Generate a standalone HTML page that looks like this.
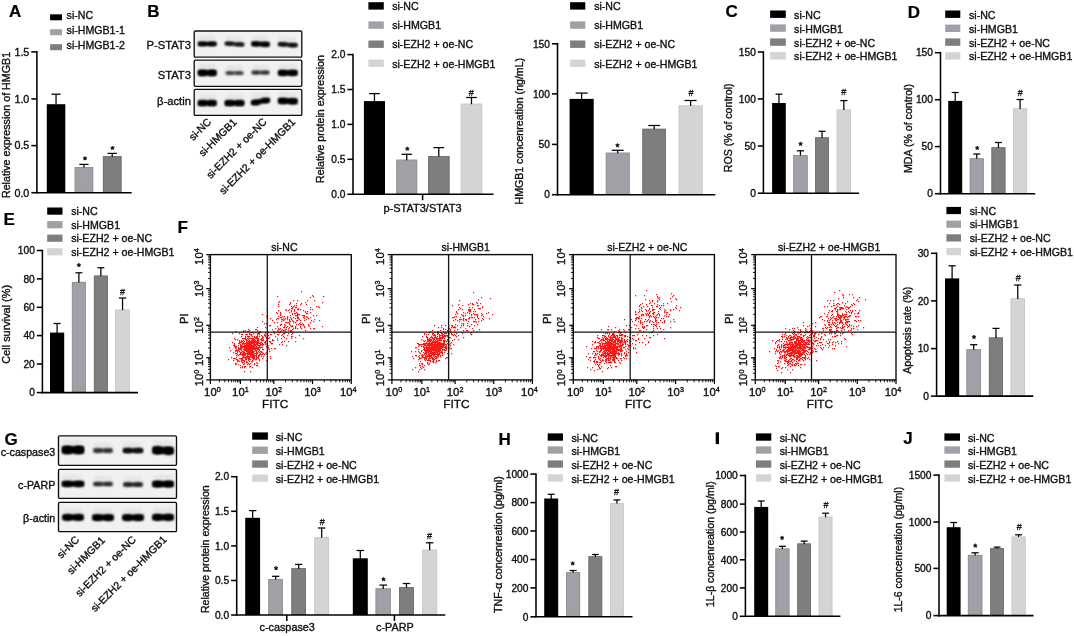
<!DOCTYPE html>
<html><head><meta charset="utf-8"><style>
html,body{margin:0;padding:0;background:#fff;}
svg{display:block;will-change:transform;}
text{font-family:"Liberation Sans", sans-serif;}
</style></head><body>
<svg width="1074" height="636" viewBox="0 0 1074 636" font-family='"Liberation Sans", sans-serif'>
<defs><filter id="soft" x="0" y="0" width="1074" height="636" filterUnits="userSpaceOnUse"><feGaussianBlur stdDeviation="0.3"/></filter><filter id="bl" x="-50%" y="-100%" width="200%" height="300%"><feGaussianBlur stdDeviation="0.9"/></filter></defs>
<rect width="1074" height="636" fill="#fff"/>
<g filter="url(#soft)">
<text x="9.00" y="17.30" font-size="17" text-anchor="start" font-weight="bold" fill="#000" stroke="#000" stroke-width="0.2">A</text>
<rect x="50.10" y="14.30" width="11.90" height="6.00" fill="#000000"/>
<text x="66.60" y="18.90" font-size="10.6" text-anchor="start" fill="#111" stroke="#111" stroke-width="0.36">si-NC</text>
<rect x="50.10" y="29.20" width="11.90" height="6.00" fill="#a0a0a6"/>
<text x="66.60" y="33.80" font-size="10.6" text-anchor="start" fill="#111" stroke="#111" stroke-width="0.36">si-HMGB1-1</text>
<rect x="50.10" y="44.20" width="11.90" height="6.00" fill="#7e7e7e"/>
<text x="66.60" y="48.80" font-size="10.6" text-anchor="start" fill="#111" stroke="#111" stroke-width="0.36">si-HMGB1-2</text>
<line x1="31.30" y1="51.90" x2="36.90" y2="51.90" stroke="#000" stroke-width="1.55"/>
<text x="29.30" y="55.78" font-size="10.7" text-anchor="end" fill="#111" stroke="#111" stroke-width="0.36">1.5</text>
<line x1="31.30" y1="98.90" x2="36.90" y2="98.90" stroke="#000" stroke-width="1.55"/>
<text x="29.30" y="102.78" font-size="10.7" text-anchor="end" fill="#111" stroke="#111" stroke-width="0.36">1.0</text>
<line x1="31.30" y1="145.60" x2="36.90" y2="145.60" stroke="#000" stroke-width="1.55"/>
<text x="29.30" y="149.48" font-size="10.7" text-anchor="end" fill="#111" stroke="#111" stroke-width="0.36">0.5</text>
<line x1="31.30" y1="192.70" x2="36.90" y2="192.70" stroke="#000" stroke-width="1.55"/>
<text x="29.30" y="196.58" font-size="10.7" text-anchor="end" fill="#111" stroke="#111" stroke-width="0.36">0.0</text>
<rect x="46.80" y="104.20" width="18.50" height="88.50" fill="#000000"/>
<line x1="56.05" y1="94.20" x2="56.05" y2="104.70" stroke="#000" stroke-width="1.25"/>
<line x1="51.42" y1="94.20" x2="60.67" y2="94.20" stroke="#000" stroke-width="1.25"/>
<rect x="74.70" y="167.00" width="18.50" height="25.70" fill="#a0a0a6"/>
<rect x="75.15" y="167.45" width="17.60" height="24.80" fill="none" stroke="#939399" stroke-width="0.9"/>
<line x1="83.95" y1="164.40" x2="83.95" y2="167.50" stroke="#000" stroke-width="1.25"/>
<line x1="79.33" y1="164.40" x2="88.58" y2="164.40" stroke="#000" stroke-width="1.25"/>
<polygon points="85.00,156.40 85.59,157.59 86.90,157.78 85.95,158.71 86.18,160.02 85.00,159.40 83.82,160.02 84.05,158.71 83.10,157.78 84.41,157.59" fill="#111" stroke="#111" stroke-width="0.7" stroke-linejoin="round"/>
<rect x="102.90" y="156.20" width="18.60" height="36.50" fill="#7e7e7e"/>
<rect x="103.35" y="156.65" width="17.70" height="35.60" fill="none" stroke="#727272" stroke-width="0.9"/>
<line x1="112.20" y1="153.40" x2="112.20" y2="156.70" stroke="#000" stroke-width="1.25"/>
<line x1="107.55" y1="153.40" x2="116.85" y2="153.40" stroke="#000" stroke-width="1.25"/>
<polygon points="112.50,146.00 113.09,147.19 114.40,147.38 113.45,148.31 113.68,149.62 112.50,149.00 111.32,149.62 111.55,148.31 110.60,147.38 111.91,147.19" fill="#111" stroke="#111" stroke-width="0.7" stroke-linejoin="round"/>
<line x1="36.90" y1="51.12" x2="36.90" y2="193.47" stroke="#000" stroke-width="1.55"/>
<line x1="36.12" y1="192.70" x2="131.70" y2="192.70" stroke="#000" stroke-width="1.55"/>
<text x="10.30" y="125.00" font-size="10.7" text-anchor="middle" transform="rotate(-90 10.30 125.00)" fill="#111" stroke="#111" stroke-width="0.36">Relative expression of HMGB1</text>
<text x="147.30" y="17.30" font-size="17" text-anchor="start" font-weight="bold" fill="#000" stroke="#000" stroke-width="0.2">B</text>
<rect x="194.20" y="31.00" width="107.60" height="26.10" rx="1.2" fill="#f1f1f1" stroke="#111" stroke-width="1.35"/>
<rect x="194.20" y="60.10" width="107.60" height="26.20" rx="1.2" fill="#f1f1f1" stroke="#111" stroke-width="1.35"/>
<rect x="194.20" y="89.30" width="107.60" height="26.10" rx="1.2" fill="#f1f1f1" stroke="#111" stroke-width="1.35"/>
<text x="190.90" y="49.40" font-size="11.2" text-anchor="end" fill="#111" stroke="#111" stroke-width="0.36">P-STAT3</text>
<path d="M198.00 41.80L216.40 41.80L216.40 45.80L198.00 45.80Z" fill="#000" fill-opacity="0.95" filter="url(#bl)"/>
<ellipse cx="202.60" cy="43.90" rx="4.60" ry="2.24" fill="#000" fill-opacity="0.855" filter="url(#bl)"/>
<ellipse cx="211.80" cy="43.90" rx="4.60" ry="2.24" fill="#000" fill-opacity="0.855" filter="url(#bl)"/>
<path d="M198.92 35.80L215.48 35.80L215.48 40.80L198.92 40.80Z" fill="#000" fill-opacity="0.05" filter="url(#bl)"/>
<path d="M224.90 41.70L244.10 42.70L244.10 46.30L224.90 45.30Z" fill="#000" fill-opacity="0.8" filter="url(#bl)"/>
<ellipse cx="229.70" cy="43.59" rx="4.80" ry="2.02" fill="#000" fill-opacity="0.7200000000000001" filter="url(#bl)"/>
<ellipse cx="239.30" cy="44.59" rx="4.80" ry="2.02" fill="#000" fill-opacity="0.7200000000000001" filter="url(#bl)"/>
<path d="M225.86 35.70L243.14 36.70L243.14 41.70L225.86 40.70Z" fill="#000" fill-opacity="0.05" filter="url(#bl)"/>
<path d="M251.50 41.60L269.50 42.10L269.50 46.50L251.50 46.00Z" fill="#000" fill-opacity="0.95" filter="url(#bl)"/>
<ellipse cx="256.00" cy="43.91" rx="4.50" ry="2.46" fill="#000" fill-opacity="0.855" filter="url(#bl)"/>
<ellipse cx="265.00" cy="44.41" rx="4.50" ry="2.46" fill="#000" fill-opacity="0.855" filter="url(#bl)"/>
<path d="M252.40 35.60L268.60 36.10L268.60 41.10L252.40 40.60Z" fill="#000" fill-opacity="0.05" filter="url(#bl)"/>
<path d="M278.20 42.30L297.40 43.30L297.40 47.10L278.20 46.10Z" fill="#000" fill-opacity="0.85" filter="url(#bl)"/>
<ellipse cx="283.00" cy="44.30" rx="4.80" ry="2.13" fill="#000" fill-opacity="0.765" filter="url(#bl)"/>
<ellipse cx="292.60" cy="45.30" rx="4.80" ry="2.13" fill="#000" fill-opacity="0.765" filter="url(#bl)"/>
<path d="M279.16 36.30L296.44 37.30L296.44 42.30L279.16 41.30Z" fill="#000" fill-opacity="0.05" filter="url(#bl)"/>
<text x="190.90" y="79.00" font-size="11.2" text-anchor="end" fill="#111" stroke="#111" stroke-width="0.36">STAT3</text>
<path d="M198.00 70.00L216.40 70.00L216.40 75.60L198.00 75.60Z" fill="#000" fill-opacity="1" filter="url(#bl)"/>
<ellipse cx="202.60" cy="72.94" rx="4.60" ry="3.14" fill="#000" fill-opacity="0.9" filter="url(#bl)"/>
<ellipse cx="211.80" cy="72.94" rx="4.60" ry="3.14" fill="#000" fill-opacity="0.9" filter="url(#bl)"/>
<path d="M198.92 64.00L215.48 64.00L215.48 69.00L198.92 69.00Z" fill="#000" fill-opacity="0.05" filter="url(#bl)"/>
<path d="M225.70 71.30L243.30 71.30L243.30 74.70L225.70 74.70Z" fill="#000" fill-opacity="0.55" filter="url(#bl)"/>
<ellipse cx="230.10" cy="73.08" rx="4.40" ry="1.90" fill="#000" fill-opacity="0.49500000000000005" filter="url(#bl)"/>
<ellipse cx="238.90" cy="73.08" rx="4.40" ry="1.90" fill="#000" fill-opacity="0.49500000000000005" filter="url(#bl)"/>
<path d="M226.58 65.30L242.42 65.30L242.42 70.30L226.58 70.30Z" fill="#000" fill-opacity="0.05" filter="url(#bl)"/>
<path d="M251.70 70.70L269.30 70.70L269.30 74.30L251.70 74.30Z" fill="#000" fill-opacity="0.6" filter="url(#bl)"/>
<ellipse cx="256.10" cy="72.59" rx="4.40" ry="2.02" fill="#000" fill-opacity="0.54" filter="url(#bl)"/>
<ellipse cx="264.90" cy="72.59" rx="4.40" ry="2.02" fill="#000" fill-opacity="0.54" filter="url(#bl)"/>
<path d="M252.58 64.70L268.42 64.70L268.42 69.70L252.58 69.70Z" fill="#000" fill-opacity="0.05" filter="url(#bl)"/>
<path d="M278.20 70.20L297.40 70.20L297.40 75.40L278.20 75.40Z" fill="#000" fill-opacity="1" filter="url(#bl)"/>
<ellipse cx="283.00" cy="72.93" rx="4.80" ry="2.91" fill="#000" fill-opacity="0.9" filter="url(#bl)"/>
<ellipse cx="292.60" cy="72.93" rx="4.80" ry="2.91" fill="#000" fill-opacity="0.9" filter="url(#bl)"/>
<path d="M279.16 64.20L296.44 64.20L296.44 69.20L279.16 69.20Z" fill="#000" fill-opacity="0.05" filter="url(#bl)"/>
<text x="190.90" y="105.40" font-size="11.2" text-anchor="end" fill="#111" stroke="#111" stroke-width="0.36">β-actin</text>
<path d="M198.00 100.40L216.40 100.40L216.40 105.60L198.00 105.60Z" fill="#000" fill-opacity="1" filter="url(#bl)"/>
<ellipse cx="202.60" cy="103.13" rx="4.60" ry="2.91" fill="#000" fill-opacity="0.9" filter="url(#bl)"/>
<ellipse cx="211.80" cy="103.13" rx="4.60" ry="2.91" fill="#000" fill-opacity="0.9" filter="url(#bl)"/>
<path d="M198.92 94.40L215.48 94.40L215.48 99.40L198.92 99.40Z" fill="#000" fill-opacity="0.05" filter="url(#bl)"/>
<path d="M224.90 100.40L244.10 100.40L244.10 105.60L224.90 105.60Z" fill="#000" fill-opacity="1" filter="url(#bl)"/>
<ellipse cx="229.70" cy="103.13" rx="4.80" ry="2.91" fill="#000" fill-opacity="0.9" filter="url(#bl)"/>
<ellipse cx="239.30" cy="103.13" rx="4.80" ry="2.91" fill="#000" fill-opacity="0.9" filter="url(#bl)"/>
<path d="M225.86 94.40L243.14 94.40L243.14 99.40L225.86 99.40Z" fill="#000" fill-opacity="0.05" filter="url(#bl)"/>
<path d="M251.30 100.30L269.70 97.80L269.70 102.60L251.30 105.10Z" fill="#000" fill-opacity="1" filter="url(#bl)"/>
<ellipse cx="255.90" cy="102.82" rx="4.60" ry="2.69" fill="#000" fill-opacity="0.9" filter="url(#bl)"/>
<ellipse cx="265.10" cy="100.32" rx="4.60" ry="2.69" fill="#000" fill-opacity="0.9" filter="url(#bl)"/>
<path d="M252.22 94.30L268.78 91.80L268.78 96.80L252.22 99.30Z" fill="#000" fill-opacity="0.05" filter="url(#bl)"/>
<path d="M278.20 98.10L297.40 98.60L297.40 104.00L278.20 103.50Z" fill="#000" fill-opacity="1" filter="url(#bl)"/>
<ellipse cx="283.00" cy="100.94" rx="4.80" ry="3.02" fill="#000" fill-opacity="0.9" filter="url(#bl)"/>
<ellipse cx="292.60" cy="101.44" rx="4.80" ry="3.02" fill="#000" fill-opacity="0.9" filter="url(#bl)"/>
<path d="M279.16 92.10L296.44 92.60L296.44 97.60L279.16 97.10Z" fill="#000" fill-opacity="0.05" filter="url(#bl)"/>
<text x="211.80" y="122.60" font-size="10.5" text-anchor="end" transform="rotate(-45 211.80 122.60)" fill="#111" stroke="#111" stroke-width="0.36">si-NC</text>
<text x="237.30" y="122.80" font-size="10.5" text-anchor="end" transform="rotate(-45 237.30 122.80)" fill="#111" stroke="#111" stroke-width="0.36">si-HMGB1</text>
<text x="267.40" y="122.40" font-size="10.5" text-anchor="end" transform="rotate(-45 267.40 122.40)" fill="#111" stroke="#111" stroke-width="0.36">si-EZH2 + oe-NC</text>
<text x="296.00" y="122.60" font-size="10.5" text-anchor="end" transform="rotate(-45 296.00 122.60)" fill="#111" stroke="#111" stroke-width="0.36">si-EZH2 + oe-HMGB1</text>
<rect x="368.40" y="2.20" width="15.40" height="7.40" fill="#000000"/>
<text x="392.20" y="10.10" font-size="10.6" text-anchor="start" fill="#111" stroke="#111" stroke-width="0.36">si-NC</text>
<rect x="368.40" y="21.40" width="15.40" height="7.40" fill="#a0a0a6"/>
<text x="392.20" y="29.30" font-size="10.6" text-anchor="start" fill="#111" stroke="#111" stroke-width="0.36">si-HMGB1</text>
<rect x="368.40" y="40.50" width="15.40" height="7.40" fill="#7e7e7e"/>
<text x="392.20" y="48.40" font-size="10.6" text-anchor="start" fill="#111" stroke="#111" stroke-width="0.36">si-EZH2 + oe-NC</text>
<rect x="368.40" y="59.60" width="15.40" height="7.40" fill="#d4d4d4"/>
<text x="392.20" y="67.50" font-size="10.6" text-anchor="start" fill="#111" stroke="#111" stroke-width="0.36">si-EZH2 + oe-HMGB1</text>
<line x1="347.40" y1="54.60" x2="353.00" y2="54.60" stroke="#000" stroke-width="1.55"/>
<text x="345.40" y="58.30" font-size="10.2" text-anchor="end" fill="#111" stroke="#111" stroke-width="0.36">2.0</text>
<line x1="347.40" y1="89.50" x2="353.00" y2="89.50" stroke="#000" stroke-width="1.55"/>
<text x="345.40" y="93.20" font-size="10.2" text-anchor="end" fill="#111" stroke="#111" stroke-width="0.36">1.5</text>
<line x1="347.40" y1="124.40" x2="353.00" y2="124.40" stroke="#000" stroke-width="1.55"/>
<text x="345.40" y="128.10" font-size="10.2" text-anchor="end" fill="#111" stroke="#111" stroke-width="0.36">1.0</text>
<line x1="347.40" y1="159.30" x2="353.00" y2="159.30" stroke="#000" stroke-width="1.55"/>
<text x="345.40" y="163.00" font-size="10.2" text-anchor="end" fill="#111" stroke="#111" stroke-width="0.36">0.5</text>
<line x1="347.40" y1="194.20" x2="353.00" y2="194.20" stroke="#000" stroke-width="1.55"/>
<text x="345.40" y="197.90" font-size="10.2" text-anchor="end" fill="#111" stroke="#111" stroke-width="0.36">0.0</text>
<rect x="363.90" y="101.10" width="21.10" height="93.10" fill="#000000"/>
<line x1="374.45" y1="93.60" x2="374.45" y2="101.60" stroke="#000" stroke-width="1.25"/>
<line x1="369.17" y1="93.60" x2="379.73" y2="93.60" stroke="#000" stroke-width="1.25"/>
<rect x="396.30" y="159.70" width="20.90" height="34.50" fill="#a0a0a6"/>
<rect x="396.75" y="160.15" width="20.00" height="33.60" fill="none" stroke="#939399" stroke-width="0.9"/>
<line x1="406.75" y1="154.30" x2="406.75" y2="160.20" stroke="#000" stroke-width="1.25"/>
<line x1="401.52" y1="154.30" x2="411.98" y2="154.30" stroke="#000" stroke-width="1.25"/>
<polygon points="407.30,146.80 407.89,147.99 409.20,148.18 408.25,149.11 408.48,150.42 407.30,149.80 406.12,150.42 406.35,149.11 405.40,148.18 406.71,147.99" fill="#111" stroke="#111" stroke-width="0.7" stroke-linejoin="round"/>
<rect x="428.10" y="156.00" width="21.40" height="38.20" fill="#7e7e7e"/>
<rect x="428.55" y="156.45" width="20.50" height="37.30" fill="none" stroke="#727272" stroke-width="0.9"/>
<line x1="438.80" y1="147.60" x2="438.80" y2="156.50" stroke="#000" stroke-width="1.25"/>
<line x1="433.45" y1="147.60" x2="444.15" y2="147.60" stroke="#000" stroke-width="1.25"/>
<rect x="460.80" y="103.70" width="21.40" height="90.50" fill="#d4d4d4"/>
<rect x="461.25" y="104.15" width="20.50" height="89.60" fill="none" stroke="#cacaca" stroke-width="0.9"/>
<line x1="471.50" y1="97.50" x2="471.50" y2="104.20" stroke="#000" stroke-width="1.25"/>
<line x1="466.15" y1="97.50" x2="476.85" y2="97.50" stroke="#000" stroke-width="1.25"/>
<text x="471.30" y="96.00" font-size="9" text-anchor="middle" fill="#111" stroke="#111" stroke-width="0.3">#</text>
<line x1="353.00" y1="53.83" x2="353.00" y2="194.97" stroke="#000" stroke-width="1.55"/>
<line x1="352.23" y1="194.20" x2="493.50" y2="194.20" stroke="#000" stroke-width="1.55"/>
<line x1="422.60" y1="194.20" x2="422.60" y2="200.20" stroke="#000" stroke-width="1.55"/>
<text x="323.50" y="119.00" font-size="10.6" text-anchor="middle" transform="rotate(-90 323.50 119.00)" fill="#111" stroke="#111" stroke-width="0.36">Relative protein expression</text>
<text x="422.50" y="212.10" font-size="11" text-anchor="middle" fill="#111" stroke="#111" stroke-width="0.36">p-STAT3/STAT3</text>
<rect x="570.10" y="2.20" width="15.20" height="7.40" fill="#000000"/>
<text x="594.20" y="10.10" font-size="10.6" text-anchor="start" fill="#111" stroke="#111" stroke-width="0.36">si-NC</text>
<rect x="570.10" y="21.40" width="15.20" height="7.40" fill="#a0a0a6"/>
<text x="594.20" y="29.30" font-size="10.6" text-anchor="start" fill="#111" stroke="#111" stroke-width="0.36">si-HMGB1</text>
<rect x="570.10" y="40.50" width="15.20" height="7.40" fill="#7e7e7e"/>
<text x="594.20" y="48.40" font-size="10.6" text-anchor="start" fill="#111" stroke="#111" stroke-width="0.36">si-EZH2 + oe-NC</text>
<rect x="570.10" y="59.60" width="15.20" height="7.40" fill="#d4d4d4"/>
<text x="594.20" y="67.50" font-size="10.6" text-anchor="start" fill="#111" stroke="#111" stroke-width="0.36">si-EZH2 + oe-HMGB1</text>
<line x1="551.90" y1="43.80" x2="557.50" y2="43.80" stroke="#000" stroke-width="1.55"/>
<text x="549.90" y="47.50" font-size="10.2" text-anchor="end" fill="#111" stroke="#111" stroke-width="0.36">150</text>
<line x1="551.90" y1="93.90" x2="557.50" y2="93.90" stroke="#000" stroke-width="1.55"/>
<text x="549.90" y="97.60" font-size="10.2" text-anchor="end" fill="#111" stroke="#111" stroke-width="0.36">100</text>
<line x1="551.90" y1="144.40" x2="557.50" y2="144.40" stroke="#000" stroke-width="1.55"/>
<text x="549.90" y="148.10" font-size="10.2" text-anchor="end" fill="#111" stroke="#111" stroke-width="0.36">50</text>
<line x1="551.90" y1="194.70" x2="557.50" y2="194.70" stroke="#000" stroke-width="1.55"/>
<text x="549.90" y="198.40" font-size="10.2" text-anchor="end" fill="#111" stroke="#111" stroke-width="0.36">0</text>
<rect x="569.60" y="98.90" width="24.10" height="95.90" fill="#000000"/>
<line x1="581.65" y1="93.10" x2="581.65" y2="99.40" stroke="#000" stroke-width="1.25"/>
<line x1="575.63" y1="93.10" x2="587.68" y2="93.10" stroke="#000" stroke-width="1.25"/>
<rect x="605.80" y="152.70" width="23.90" height="42.10" fill="#a0a0a6"/>
<rect x="606.25" y="153.15" width="23.00" height="41.20" fill="none" stroke="#939399" stroke-width="0.9"/>
<line x1="617.75" y1="150.30" x2="617.75" y2="153.20" stroke="#000" stroke-width="1.25"/>
<line x1="611.77" y1="150.30" x2="623.73" y2="150.30" stroke="#000" stroke-width="1.25"/>
<polygon points="617.50,143.40 618.09,144.59 619.40,144.78 618.45,145.71 618.68,147.02 617.50,146.40 616.32,147.02 616.55,145.71 615.60,144.78 616.91,144.59" fill="#111" stroke="#111" stroke-width="0.7" stroke-linejoin="round"/>
<rect x="642.40" y="128.80" width="23.60" height="66.00" fill="#7e7e7e"/>
<rect x="642.85" y="129.25" width="22.70" height="65.10" fill="none" stroke="#727272" stroke-width="0.9"/>
<line x1="654.20" y1="125.50" x2="654.20" y2="129.30" stroke="#000" stroke-width="1.25"/>
<line x1="648.30" y1="125.50" x2="660.10" y2="125.50" stroke="#000" stroke-width="1.25"/>
<rect x="678.60" y="105.40" width="24.00" height="89.40" fill="#d4d4d4"/>
<rect x="679.05" y="105.85" width="23.10" height="88.50" fill="none" stroke="#cacaca" stroke-width="0.9"/>
<line x1="690.60" y1="100.50" x2="690.60" y2="105.90" stroke="#000" stroke-width="1.25"/>
<line x1="684.60" y1="100.50" x2="696.60" y2="100.50" stroke="#000" stroke-width="1.25"/>
<text x="690.90" y="95.90" font-size="9" text-anchor="middle" fill="#111" stroke="#111" stroke-width="0.3">#</text>
<line x1="557.50" y1="43.02" x2="557.50" y2="195.58" stroke="#000" stroke-width="1.55"/>
<line x1="556.73" y1="194.80" x2="715.30" y2="194.80" stroke="#000" stroke-width="1.55"/>
<text x="523.00" y="131.20" font-size="10.6" text-anchor="middle" transform="rotate(-90 523.00 131.20)" fill="#111" stroke="#111" stroke-width="0.36">HMGB1 concenreation (ng/mL)</text>
<text x="725.50" y="17.30" font-size="17" text-anchor="start" font-weight="bold" fill="#000" stroke="#000" stroke-width="0.2">C</text>
<rect x="770.10" y="10.50" width="15.70" height="7.40" fill="#000000"/>
<text x="794.10" y="18.60" font-size="10.6" text-anchor="start" fill="#111" stroke="#111" stroke-width="0.36">si-NC</text>
<rect x="770.10" y="24.40" width="15.70" height="7.40" fill="#a0a0a6"/>
<text x="794.10" y="32.50" font-size="10.6" text-anchor="start" fill="#111" stroke="#111" stroke-width="0.36">si-HMGB1</text>
<rect x="770.10" y="38.40" width="15.70" height="7.40" fill="#7e7e7e"/>
<text x="794.10" y="46.50" font-size="10.6" text-anchor="start" fill="#111" stroke="#111" stroke-width="0.36">si-EZH2 + oe-NC</text>
<rect x="770.10" y="52.10" width="15.70" height="7.40" fill="#d4d4d4"/>
<text x="794.10" y="60.20" font-size="10.6" text-anchor="start" fill="#111" stroke="#111" stroke-width="0.36">si-EZH2 + oe-HMGB1</text>
<line x1="757.80" y1="52.00" x2="763.40" y2="52.00" stroke="#000" stroke-width="1.55"/>
<text x="755.80" y="55.70" font-size="10.2" text-anchor="end" fill="#111" stroke="#111" stroke-width="0.36">150</text>
<line x1="757.80" y1="98.90" x2="763.40" y2="98.90" stroke="#000" stroke-width="1.55"/>
<text x="755.80" y="102.60" font-size="10.2" text-anchor="end" fill="#111" stroke="#111" stroke-width="0.36">100</text>
<line x1="757.80" y1="146.00" x2="763.40" y2="146.00" stroke="#000" stroke-width="1.55"/>
<text x="755.80" y="149.70" font-size="10.2" text-anchor="end" fill="#111" stroke="#111" stroke-width="0.36">50</text>
<line x1="757.80" y1="193.20" x2="763.40" y2="193.20" stroke="#000" stroke-width="1.55"/>
<text x="755.80" y="196.90" font-size="10.2" text-anchor="end" fill="#111" stroke="#111" stroke-width="0.36">0</text>
<rect x="772.10" y="103.00" width="13.70" height="90.20" fill="#000000"/>
<line x1="778.95" y1="94.20" x2="778.95" y2="103.50" stroke="#000" stroke-width="1.25"/>
<line x1="775.53" y1="94.20" x2="782.38" y2="94.20" stroke="#000" stroke-width="1.25"/>
<rect x="793.20" y="155.00" width="14.50" height="38.20" fill="#a0a0a6"/>
<rect x="793.65" y="155.45" width="13.60" height="37.30" fill="none" stroke="#939399" stroke-width="0.9"/>
<line x1="800.45" y1="150.80" x2="800.45" y2="155.50" stroke="#000" stroke-width="1.25"/>
<line x1="796.83" y1="150.80" x2="804.08" y2="150.80" stroke="#000" stroke-width="1.25"/>
<polygon points="800.60,141.90 801.19,143.09 802.50,143.28 801.55,144.21 801.78,145.52 800.60,144.90 799.42,145.52 799.65,144.21 798.70,143.28 800.01,143.09" fill="#111" stroke="#111" stroke-width="0.7" stroke-linejoin="round"/>
<rect x="815.10" y="137.30" width="13.90" height="55.90" fill="#7e7e7e"/>
<rect x="815.55" y="137.75" width="13.00" height="55.00" fill="none" stroke="#727272" stroke-width="0.9"/>
<line x1="822.05" y1="131.30" x2="822.05" y2="137.80" stroke="#000" stroke-width="1.25"/>
<line x1="818.57" y1="131.30" x2="825.52" y2="131.30" stroke="#000" stroke-width="1.25"/>
<rect x="836.70" y="109.50" width="14.30" height="83.70" fill="#d4d4d4"/>
<rect x="837.15" y="109.95" width="13.40" height="82.80" fill="none" stroke="#cacaca" stroke-width="0.9"/>
<line x1="843.85" y1="100.60" x2="843.85" y2="110.00" stroke="#000" stroke-width="1.25"/>
<line x1="840.28" y1="100.60" x2="847.42" y2="100.60" stroke="#000" stroke-width="1.25"/>
<text x="843.70" y="95.00" font-size="9" text-anchor="middle" fill="#111" stroke="#111" stroke-width="0.3">#</text>
<line x1="763.40" y1="51.23" x2="763.40" y2="193.97" stroke="#000" stroke-width="1.55"/>
<line x1="762.62" y1="193.20" x2="859.10" y2="193.20" stroke="#000" stroke-width="1.55"/>
<text x="732.50" y="127.80" font-size="10.6" text-anchor="middle" transform="rotate(-90 732.50 127.80)" fill="#111" stroke="#111" stroke-width="0.36">ROS (% of control)</text>
<text x="907.80" y="17.50" font-size="17" text-anchor="start" font-weight="bold" fill="#000" stroke="#000" stroke-width="0.2">D</text>
<rect x="945.20" y="10.50" width="15.10" height="7.40" fill="#000000"/>
<text x="969.00" y="18.60" font-size="10.6" text-anchor="start" fill="#111" stroke="#111" stroke-width="0.36">si-NC</text>
<rect x="945.20" y="24.60" width="15.10" height="7.40" fill="#a0a0a6"/>
<text x="969.00" y="32.70" font-size="10.6" text-anchor="start" fill="#111" stroke="#111" stroke-width="0.36">si-HMGB1</text>
<rect x="945.20" y="38.40" width="15.10" height="7.40" fill="#7e7e7e"/>
<text x="969.00" y="46.50" font-size="10.6" text-anchor="start" fill="#111" stroke="#111" stroke-width="0.36">si-EZH2 + oe-NC</text>
<rect x="945.20" y="52.20" width="15.10" height="7.40" fill="#d4d4d4"/>
<text x="969.00" y="60.30" font-size="10.6" text-anchor="start" fill="#111" stroke="#111" stroke-width="0.36">si-EZH2 + oe-HMGB1</text>
<line x1="934.90" y1="52.70" x2="940.50" y2="52.70" stroke="#000" stroke-width="1.55"/>
<text x="932.90" y="56.40" font-size="10.2" text-anchor="end" fill="#111" stroke="#111" stroke-width="0.36">150</text>
<line x1="934.90" y1="99.70" x2="940.50" y2="99.70" stroke="#000" stroke-width="1.55"/>
<text x="932.90" y="103.40" font-size="10.2" text-anchor="end" fill="#111" stroke="#111" stroke-width="0.36">100</text>
<line x1="934.90" y1="146.60" x2="940.50" y2="146.60" stroke="#000" stroke-width="1.55"/>
<text x="932.90" y="150.30" font-size="10.2" text-anchor="end" fill="#111" stroke="#111" stroke-width="0.36">50</text>
<line x1="934.90" y1="193.70" x2="940.50" y2="193.70" stroke="#000" stroke-width="1.55"/>
<text x="932.90" y="197.40" font-size="10.2" text-anchor="end" fill="#111" stroke="#111" stroke-width="0.36">0</text>
<rect x="948.20" y="100.90" width="14.00" height="92.80" fill="#000000"/>
<line x1="955.20" y1="92.50" x2="955.20" y2="101.40" stroke="#000" stroke-width="1.25"/>
<line x1="951.70" y1="92.50" x2="958.70" y2="92.50" stroke="#000" stroke-width="1.25"/>
<rect x="969.80" y="158.20" width="14.00" height="35.50" fill="#a0a0a6"/>
<rect x="970.25" y="158.65" width="13.10" height="34.60" fill="none" stroke="#939399" stroke-width="0.9"/>
<line x1="976.80" y1="154.00" x2="976.80" y2="158.70" stroke="#000" stroke-width="1.25"/>
<line x1="973.30" y1="154.00" x2="980.30" y2="154.00" stroke="#000" stroke-width="1.25"/>
<polygon points="977.20,146.00 977.79,147.19 979.10,147.38 978.15,148.31 978.38,149.62 977.20,149.00 976.02,149.62 976.25,148.31 975.30,147.38 976.61,147.19" fill="#111" stroke="#111" stroke-width="0.7" stroke-linejoin="round"/>
<rect x="991.50" y="147.30" width="13.90" height="46.40" fill="#7e7e7e"/>
<rect x="991.95" y="147.75" width="13.00" height="45.50" fill="none" stroke="#727272" stroke-width="0.9"/>
<line x1="998.45" y1="142.50" x2="998.45" y2="147.80" stroke="#000" stroke-width="1.25"/>
<line x1="994.98" y1="142.50" x2="1001.93" y2="142.50" stroke="#000" stroke-width="1.25"/>
<rect x="1013.10" y="108.50" width="14.00" height="85.20" fill="#d4d4d4"/>
<rect x="1013.55" y="108.95" width="13.10" height="84.30" fill="none" stroke="#cacaca" stroke-width="0.9"/>
<line x1="1020.10" y1="99.50" x2="1020.10" y2="109.00" stroke="#000" stroke-width="1.25"/>
<line x1="1016.60" y1="99.50" x2="1023.60" y2="99.50" stroke="#000" stroke-width="1.25"/>
<text x="1020.30" y="95.70" font-size="9" text-anchor="middle" fill="#111" stroke="#111" stroke-width="0.3">#</text>
<line x1="940.50" y1="51.93" x2="940.50" y2="194.47" stroke="#000" stroke-width="1.55"/>
<line x1="939.73" y1="193.70" x2="1035.20" y2="193.70" stroke="#000" stroke-width="1.55"/>
<text x="912.00" y="128.50" font-size="10.6" text-anchor="middle" transform="rotate(-90 912.00 128.50)" fill="#111" stroke="#111" stroke-width="0.36">MDA (% of control)</text>
<text x="3.60" y="225.30" font-size="17" text-anchor="start" font-weight="bold" fill="#000" stroke="#000" stroke-width="0.2">E</text>
<rect x="47.20" y="207.50" width="15.30" height="7.20" fill="#000000"/>
<text x="71.20" y="215.20" font-size="10.6" text-anchor="start" fill="#111" stroke="#111" stroke-width="0.36">si-NC</text>
<rect x="47.20" y="221.10" width="15.30" height="7.20" fill="#a0a0a6"/>
<text x="71.20" y="228.80" font-size="10.6" text-anchor="start" fill="#111" stroke="#111" stroke-width="0.36">si-HMGB1</text>
<rect x="47.20" y="234.60" width="15.30" height="7.20" fill="#7e7e7e"/>
<text x="71.20" y="242.30" font-size="10.6" text-anchor="start" fill="#111" stroke="#111" stroke-width="0.36">si-EZH2 + oe-NC</text>
<rect x="47.20" y="248.20" width="15.30" height="7.20" fill="#d4d4d4"/>
<text x="71.20" y="255.90" font-size="10.6" text-anchor="start" fill="#111" stroke="#111" stroke-width="0.36">si-EZH2 + oe-HMGB1</text>
<line x1="36.80" y1="250.50" x2="42.40" y2="250.50" stroke="#000" stroke-width="1.55"/>
<text x="34.80" y="254.20" font-size="10.2" text-anchor="end" fill="#111" stroke="#111" stroke-width="0.36">100</text>
<line x1="36.80" y1="278.90" x2="42.40" y2="278.90" stroke="#000" stroke-width="1.55"/>
<text x="34.80" y="282.60" font-size="10.2" text-anchor="end" fill="#111" stroke="#111" stroke-width="0.36">80</text>
<line x1="36.80" y1="307.30" x2="42.40" y2="307.30" stroke="#000" stroke-width="1.55"/>
<text x="34.80" y="311.00" font-size="10.2" text-anchor="end" fill="#111" stroke="#111" stroke-width="0.36">60</text>
<line x1="36.80" y1="335.60" x2="42.40" y2="335.60" stroke="#000" stroke-width="1.55"/>
<text x="34.80" y="339.30" font-size="10.2" text-anchor="end" fill="#111" stroke="#111" stroke-width="0.36">40</text>
<line x1="36.80" y1="364.00" x2="42.40" y2="364.00" stroke="#000" stroke-width="1.55"/>
<text x="34.80" y="367.70" font-size="10.2" text-anchor="end" fill="#111" stroke="#111" stroke-width="0.36">20</text>
<line x1="36.80" y1="392.60" x2="42.40" y2="392.60" stroke="#000" stroke-width="1.55"/>
<text x="34.80" y="396.30" font-size="10.2" text-anchor="end" fill="#111" stroke="#111" stroke-width="0.36">0</text>
<rect x="50.00" y="332.60" width="14.20" height="60.00" fill="#000000"/>
<line x1="57.10" y1="323.50" x2="57.10" y2="333.10" stroke="#000" stroke-width="1.25"/>
<line x1="53.55" y1="323.50" x2="60.65" y2="323.50" stroke="#000" stroke-width="1.25"/>
<rect x="71.90" y="281.90" width="14.00" height="110.70" fill="#a0a0a6"/>
<rect x="72.35" y="282.35" width="13.10" height="109.80" fill="none" stroke="#939399" stroke-width="0.9"/>
<line x1="78.90" y1="272.80" x2="78.90" y2="282.40" stroke="#000" stroke-width="1.25"/>
<line x1="75.40" y1="272.80" x2="82.40" y2="272.80" stroke="#000" stroke-width="1.25"/>
<polygon points="78.90,263.10 79.49,264.29 80.80,264.48 79.85,265.41 80.08,266.72 78.90,266.10 77.72,266.72 77.95,265.41 77.00,264.48 78.31,264.29" fill="#111" stroke="#111" stroke-width="0.7" stroke-linejoin="round"/>
<rect x="93.90" y="275.60" width="13.90" height="117.00" fill="#7e7e7e"/>
<rect x="94.35" y="276.05" width="13.00" height="116.10" fill="none" stroke="#727272" stroke-width="0.9"/>
<line x1="100.85" y1="267.70" x2="100.85" y2="276.10" stroke="#000" stroke-width="1.25"/>
<line x1="97.38" y1="267.70" x2="104.32" y2="267.70" stroke="#000" stroke-width="1.25"/>
<rect x="115.20" y="309.60" width="14.70" height="83.00" fill="#d4d4d4"/>
<rect x="115.65" y="310.05" width="13.80" height="82.10" fill="none" stroke="#cacaca" stroke-width="0.9"/>
<line x1="122.55" y1="298.00" x2="122.55" y2="310.10" stroke="#000" stroke-width="1.25"/>
<line x1="118.88" y1="298.00" x2="126.23" y2="298.00" stroke="#000" stroke-width="1.25"/>
<text x="122.50" y="294.90" font-size="9" text-anchor="middle" fill="#111" stroke="#111" stroke-width="0.3">#</text>
<line x1="42.40" y1="249.72" x2="42.40" y2="393.38" stroke="#000" stroke-width="1.55"/>
<line x1="41.62" y1="392.60" x2="138.00" y2="392.60" stroke="#000" stroke-width="1.55"/>
<text x="10.00" y="324.30" font-size="10.9" text-anchor="middle" transform="rotate(-90 10.00 324.30)" fill="#111" stroke="#111" stroke-width="0.36">Cell survival (%)</text>
<text x="177.60" y="232.80" font-size="17" text-anchor="start" font-weight="bold" fill="#000" stroke="#000" stroke-width="0.2">F</text>
<text x="284.35" y="251.00" font-size="10.5" text-anchor="middle" fill="#111" stroke="#111" stroke-width="0.36">si-NC</text>
<path d="M228 359h1.2v1.2h-1.2zM229 347h1.2v1.2h-1.2zM230 350h1.2v1.2h-1.2zM231 357h1.2v1.2h-1.2zM232 333h1.2v1.2h-1.2zM232 342h1.2v1.2h-1.2zM233 345h1.2v1.2h-1.2zM233 352h1.2v1.2h-1.2zM233 358h1.2v1.2h-1.2zM233 360h1.2v1.2h-1.2zM234 338h1.2v1.2h-1.2zM234 343h1.2v1.2h-1.2zM234 344h1.2v1.2h-1.2zM234 345h1.2v1.2h-1.2zM234 346h1.2v1.2h-1.2zM234 358h1.2v1.2h-1.2zM235 331h1.2v1.2h-1.2zM235 339h1.2v1.2h-1.2zM235 346h1.2v1.2h-1.2zM235 347h1.2v1.2h-1.2zM235 348h1.2v1.2h-1.2zM235 350h1.2v1.2h-1.2zM235 351h1.2v1.2h-1.2zM235 353h1.2v1.2h-1.2zM235 358h1.2v1.2h-1.2zM235 363h1.2v1.2h-1.2zM235 364h1.2v1.2h-1.2zM236 346h1.2v1.2h-1.2zM236 347h1.2v1.2h-1.2zM236 349h1.2v1.2h-1.2zM236 350h1.2v1.2h-1.2zM236 353h1.2v1.2h-1.2zM236 355h1.2v1.2h-1.2zM236 357h1.2v1.2h-1.2zM236 359h1.2v1.2h-1.2zM236 363h1.2v1.2h-1.2zM237 339h1.2v1.2h-1.2zM237 350h1.2v1.2h-1.2zM237 351h1.2v1.2h-1.2zM237 352h1.2v1.2h-1.2zM237 354h1.2v1.2h-1.2zM237 359h1.2v1.2h-1.2zM237 360h1.2v1.2h-1.2zM237 361h1.2v1.2h-1.2zM238 343h1.2v1.2h-1.2zM238 345h1.2v1.2h-1.2zM238 347h1.2v1.2h-1.2zM238 348h1.2v1.2h-1.2zM238 349h1.2v1.2h-1.2zM238 350h1.2v1.2h-1.2zM238 355h1.2v1.2h-1.2zM238 360h1.2v1.2h-1.2zM238 364h1.2v1.2h-1.2zM239 333h1.2v1.2h-1.2zM239 340h1.2v1.2h-1.2zM239 341h1.2v1.2h-1.2zM239 342h1.2v1.2h-1.2zM239 343h1.2v1.2h-1.2zM239 348h1.2v1.2h-1.2zM239 349h1.2v1.2h-1.2zM239 351h1.2v1.2h-1.2zM239 354h1.2v1.2h-1.2zM239 358h1.2v1.2h-1.2zM239 361h1.2v1.2h-1.2zM240 342h1.2v1.2h-1.2zM240 344h1.2v1.2h-1.2zM240 345h1.2v1.2h-1.2zM240 346h1.2v1.2h-1.2zM240 347h1.2v1.2h-1.2zM240 348h1.2v1.2h-1.2zM240 349h1.2v1.2h-1.2zM240 352h1.2v1.2h-1.2zM240 353h1.2v1.2h-1.2zM240 354h1.2v1.2h-1.2zM240 358h1.2v1.2h-1.2zM240 365h1.2v1.2h-1.2zM240 367h1.2v1.2h-1.2zM241 334h1.2v1.2h-1.2zM241 336h1.2v1.2h-1.2zM241 340h1.2v1.2h-1.2zM241 341h1.2v1.2h-1.2zM241 342h1.2v1.2h-1.2zM241 345h1.2v1.2h-1.2zM241 346h1.2v1.2h-1.2zM241 347h1.2v1.2h-1.2zM241 348h1.2v1.2h-1.2zM241 349h1.2v1.2h-1.2zM241 350h1.2v1.2h-1.2zM241 352h1.2v1.2h-1.2zM241 354h1.2v1.2h-1.2zM241 358h1.2v1.2h-1.2zM241 359h1.2v1.2h-1.2zM241 360h1.2v1.2h-1.2zM241 361h1.2v1.2h-1.2zM242 334h1.2v1.2h-1.2zM242 338h1.2v1.2h-1.2zM242 341h1.2v1.2h-1.2zM242 343h1.2v1.2h-1.2zM242 344h1.2v1.2h-1.2zM242 346h1.2v1.2h-1.2zM242 347h1.2v1.2h-1.2zM242 351h1.2v1.2h-1.2zM242 353h1.2v1.2h-1.2zM242 354h1.2v1.2h-1.2zM242 355h1.2v1.2h-1.2zM242 357h1.2v1.2h-1.2zM242 358h1.2v1.2h-1.2zM242 359h1.2v1.2h-1.2zM242 360h1.2v1.2h-1.2zM242 362h1.2v1.2h-1.2zM242 366h1.2v1.2h-1.2zM242 367h1.2v1.2h-1.2zM243 330h1.2v1.2h-1.2zM243 331h1.2v1.2h-1.2zM243 338h1.2v1.2h-1.2zM243 340h1.2v1.2h-1.2zM243 342h1.2v1.2h-1.2zM243 343h1.2v1.2h-1.2zM243 346h1.2v1.2h-1.2zM243 347h1.2v1.2h-1.2zM243 349h1.2v1.2h-1.2zM243 351h1.2v1.2h-1.2zM243 352h1.2v1.2h-1.2zM243 353h1.2v1.2h-1.2zM243 354h1.2v1.2h-1.2zM243 355h1.2v1.2h-1.2zM243 356h1.2v1.2h-1.2zM243 357h1.2v1.2h-1.2zM243 360h1.2v1.2h-1.2zM243 362h1.2v1.2h-1.2zM243 364h1.2v1.2h-1.2zM244 338h1.2v1.2h-1.2zM244 341h1.2v1.2h-1.2zM244 343h1.2v1.2h-1.2zM244 344h1.2v1.2h-1.2zM244 345h1.2v1.2h-1.2zM244 346h1.2v1.2h-1.2zM244 347h1.2v1.2h-1.2zM244 348h1.2v1.2h-1.2zM244 349h1.2v1.2h-1.2zM244 350h1.2v1.2h-1.2zM244 352h1.2v1.2h-1.2zM244 353h1.2v1.2h-1.2zM244 354h1.2v1.2h-1.2zM244 355h1.2v1.2h-1.2zM244 357h1.2v1.2h-1.2zM244 360h1.2v1.2h-1.2zM244 361h1.2v1.2h-1.2zM244 363h1.2v1.2h-1.2zM244 366h1.2v1.2h-1.2zM244 367h1.2v1.2h-1.2zM244 371h1.2v1.2h-1.2zM245 330h1.2v1.2h-1.2zM245 334h1.2v1.2h-1.2zM245 336h1.2v1.2h-1.2zM245 337h1.2v1.2h-1.2zM245 338h1.2v1.2h-1.2zM245 339h1.2v1.2h-1.2zM245 343h1.2v1.2h-1.2zM245 345h1.2v1.2h-1.2zM245 346h1.2v1.2h-1.2zM245 347h1.2v1.2h-1.2zM245 348h1.2v1.2h-1.2zM245 349h1.2v1.2h-1.2zM245 350h1.2v1.2h-1.2zM245 353h1.2v1.2h-1.2zM245 354h1.2v1.2h-1.2zM245 355h1.2v1.2h-1.2zM245 357h1.2v1.2h-1.2zM245 358h1.2v1.2h-1.2zM245 359h1.2v1.2h-1.2zM245 366h1.2v1.2h-1.2zM246 334h1.2v1.2h-1.2zM246 339h1.2v1.2h-1.2zM246 340h1.2v1.2h-1.2zM246 341h1.2v1.2h-1.2zM246 342h1.2v1.2h-1.2zM246 343h1.2v1.2h-1.2zM246 344h1.2v1.2h-1.2zM246 345h1.2v1.2h-1.2zM246 346h1.2v1.2h-1.2zM246 347h1.2v1.2h-1.2zM246 348h1.2v1.2h-1.2zM246 349h1.2v1.2h-1.2zM246 350h1.2v1.2h-1.2zM246 351h1.2v1.2h-1.2zM246 353h1.2v1.2h-1.2zM246 356h1.2v1.2h-1.2zM246 357h1.2v1.2h-1.2zM246 358h1.2v1.2h-1.2zM246 359h1.2v1.2h-1.2zM246 361h1.2v1.2h-1.2zM246 362h1.2v1.2h-1.2zM247 331h1.2v1.2h-1.2zM247 334h1.2v1.2h-1.2zM247 336h1.2v1.2h-1.2zM247 338h1.2v1.2h-1.2zM247 340h1.2v1.2h-1.2zM247 342h1.2v1.2h-1.2zM247 343h1.2v1.2h-1.2zM247 344h1.2v1.2h-1.2zM247 345h1.2v1.2h-1.2zM247 346h1.2v1.2h-1.2zM247 347h1.2v1.2h-1.2zM247 348h1.2v1.2h-1.2zM247 349h1.2v1.2h-1.2zM247 350h1.2v1.2h-1.2zM247 351h1.2v1.2h-1.2zM247 352h1.2v1.2h-1.2zM247 353h1.2v1.2h-1.2zM247 354h1.2v1.2h-1.2zM247 355h1.2v1.2h-1.2zM247 356h1.2v1.2h-1.2zM247 357h1.2v1.2h-1.2zM247 362h1.2v1.2h-1.2zM247 364h1.2v1.2h-1.2zM248 329h1.2v1.2h-1.2zM248 331h1.2v1.2h-1.2zM248 336h1.2v1.2h-1.2zM248 337h1.2v1.2h-1.2zM248 339h1.2v1.2h-1.2zM248 341h1.2v1.2h-1.2zM248 342h1.2v1.2h-1.2zM248 343h1.2v1.2h-1.2zM248 344h1.2v1.2h-1.2zM248 345h1.2v1.2h-1.2zM248 346h1.2v1.2h-1.2zM248 347h1.2v1.2h-1.2zM248 348h1.2v1.2h-1.2zM248 349h1.2v1.2h-1.2zM248 350h1.2v1.2h-1.2zM248 351h1.2v1.2h-1.2zM248 352h1.2v1.2h-1.2zM248 353h1.2v1.2h-1.2zM248 354h1.2v1.2h-1.2zM248 356h1.2v1.2h-1.2zM248 357h1.2v1.2h-1.2zM248 358h1.2v1.2h-1.2zM248 359h1.2v1.2h-1.2zM248 360h1.2v1.2h-1.2zM248 363h1.2v1.2h-1.2zM249 330h1.2v1.2h-1.2zM249 333h1.2v1.2h-1.2zM249 334h1.2v1.2h-1.2zM249 336h1.2v1.2h-1.2zM249 338h1.2v1.2h-1.2zM249 340h1.2v1.2h-1.2zM249 341h1.2v1.2h-1.2zM249 342h1.2v1.2h-1.2zM249 343h1.2v1.2h-1.2zM249 344h1.2v1.2h-1.2zM249 345h1.2v1.2h-1.2zM249 346h1.2v1.2h-1.2zM249 347h1.2v1.2h-1.2zM249 348h1.2v1.2h-1.2zM249 349h1.2v1.2h-1.2zM249 350h1.2v1.2h-1.2zM249 351h1.2v1.2h-1.2zM249 352h1.2v1.2h-1.2zM249 353h1.2v1.2h-1.2zM249 354h1.2v1.2h-1.2zM249 356h1.2v1.2h-1.2zM249 357h1.2v1.2h-1.2zM249 358h1.2v1.2h-1.2zM249 359h1.2v1.2h-1.2zM249 361h1.2v1.2h-1.2zM249 364h1.2v1.2h-1.2zM249 366h1.2v1.2h-1.2zM250 334h1.2v1.2h-1.2zM250 338h1.2v1.2h-1.2zM250 341h1.2v1.2h-1.2zM250 342h1.2v1.2h-1.2zM250 343h1.2v1.2h-1.2zM250 344h1.2v1.2h-1.2zM250 345h1.2v1.2h-1.2zM250 346h1.2v1.2h-1.2zM250 347h1.2v1.2h-1.2zM250 348h1.2v1.2h-1.2zM250 349h1.2v1.2h-1.2zM250 350h1.2v1.2h-1.2zM250 351h1.2v1.2h-1.2zM250 352h1.2v1.2h-1.2zM250 353h1.2v1.2h-1.2zM250 354h1.2v1.2h-1.2zM250 355h1.2v1.2h-1.2zM250 356h1.2v1.2h-1.2zM250 359h1.2v1.2h-1.2zM250 363h1.2v1.2h-1.2zM250 366h1.2v1.2h-1.2zM250 371h1.2v1.2h-1.2zM251 332h1.2v1.2h-1.2zM251 334h1.2v1.2h-1.2zM251 335h1.2v1.2h-1.2zM251 338h1.2v1.2h-1.2zM251 340h1.2v1.2h-1.2zM251 341h1.2v1.2h-1.2zM251 342h1.2v1.2h-1.2zM251 343h1.2v1.2h-1.2zM251 344h1.2v1.2h-1.2zM251 345h1.2v1.2h-1.2zM251 346h1.2v1.2h-1.2zM251 347h1.2v1.2h-1.2zM251 348h1.2v1.2h-1.2zM251 349h1.2v1.2h-1.2zM251 350h1.2v1.2h-1.2zM251 351h1.2v1.2h-1.2zM251 352h1.2v1.2h-1.2zM251 353h1.2v1.2h-1.2zM251 354h1.2v1.2h-1.2zM251 355h1.2v1.2h-1.2zM251 357h1.2v1.2h-1.2zM251 361h1.2v1.2h-1.2zM252 332h1.2v1.2h-1.2zM252 336h1.2v1.2h-1.2zM252 338h1.2v1.2h-1.2zM252 339h1.2v1.2h-1.2zM252 340h1.2v1.2h-1.2zM252 341h1.2v1.2h-1.2zM252 342h1.2v1.2h-1.2zM252 343h1.2v1.2h-1.2zM252 345h1.2v1.2h-1.2zM252 346h1.2v1.2h-1.2zM252 347h1.2v1.2h-1.2zM252 348h1.2v1.2h-1.2zM252 349h1.2v1.2h-1.2zM252 350h1.2v1.2h-1.2zM252 351h1.2v1.2h-1.2zM252 352h1.2v1.2h-1.2zM252 353h1.2v1.2h-1.2zM252 354h1.2v1.2h-1.2zM252 355h1.2v1.2h-1.2zM252 356h1.2v1.2h-1.2zM252 357h1.2v1.2h-1.2zM252 358h1.2v1.2h-1.2zM252 360h1.2v1.2h-1.2zM252 361h1.2v1.2h-1.2zM252 367h1.2v1.2h-1.2zM253 333h1.2v1.2h-1.2zM253 338h1.2v1.2h-1.2zM253 339h1.2v1.2h-1.2zM253 340h1.2v1.2h-1.2zM253 341h1.2v1.2h-1.2zM253 342h1.2v1.2h-1.2zM253 343h1.2v1.2h-1.2zM253 344h1.2v1.2h-1.2zM253 345h1.2v1.2h-1.2zM253 346h1.2v1.2h-1.2zM253 347h1.2v1.2h-1.2zM253 348h1.2v1.2h-1.2zM253 349h1.2v1.2h-1.2zM253 351h1.2v1.2h-1.2zM253 352h1.2v1.2h-1.2zM253 353h1.2v1.2h-1.2zM253 354h1.2v1.2h-1.2zM253 355h1.2v1.2h-1.2zM253 356h1.2v1.2h-1.2zM253 357h1.2v1.2h-1.2zM253 358h1.2v1.2h-1.2zM253 359h1.2v1.2h-1.2zM254 336h1.2v1.2h-1.2zM254 337h1.2v1.2h-1.2zM254 339h1.2v1.2h-1.2zM254 340h1.2v1.2h-1.2zM254 341h1.2v1.2h-1.2zM254 342h1.2v1.2h-1.2zM254 343h1.2v1.2h-1.2zM254 344h1.2v1.2h-1.2zM254 345h1.2v1.2h-1.2zM254 346h1.2v1.2h-1.2zM254 347h1.2v1.2h-1.2zM254 348h1.2v1.2h-1.2zM254 349h1.2v1.2h-1.2zM254 351h1.2v1.2h-1.2zM254 353h1.2v1.2h-1.2zM254 355h1.2v1.2h-1.2zM254 356h1.2v1.2h-1.2zM254 357h1.2v1.2h-1.2zM254 358h1.2v1.2h-1.2zM254 363h1.2v1.2h-1.2zM254 364h1.2v1.2h-1.2zM255 329h1.2v1.2h-1.2zM255 332h1.2v1.2h-1.2zM255 337h1.2v1.2h-1.2zM255 338h1.2v1.2h-1.2zM255 340h1.2v1.2h-1.2zM255 341h1.2v1.2h-1.2zM255 342h1.2v1.2h-1.2zM255 344h1.2v1.2h-1.2zM255 345h1.2v1.2h-1.2zM255 347h1.2v1.2h-1.2zM255 348h1.2v1.2h-1.2zM255 349h1.2v1.2h-1.2zM255 350h1.2v1.2h-1.2zM255 353h1.2v1.2h-1.2zM255 355h1.2v1.2h-1.2zM255 359h1.2v1.2h-1.2zM256 329h1.2v1.2h-1.2zM256 336h1.2v1.2h-1.2zM256 337h1.2v1.2h-1.2zM256 338h1.2v1.2h-1.2zM256 341h1.2v1.2h-1.2zM256 342h1.2v1.2h-1.2zM256 343h1.2v1.2h-1.2zM256 344h1.2v1.2h-1.2zM256 346h1.2v1.2h-1.2zM256 347h1.2v1.2h-1.2zM256 348h1.2v1.2h-1.2zM256 350h1.2v1.2h-1.2zM256 351h1.2v1.2h-1.2zM256 352h1.2v1.2h-1.2zM256 353h1.2v1.2h-1.2zM256 354h1.2v1.2h-1.2zM256 355h1.2v1.2h-1.2zM256 356h1.2v1.2h-1.2zM256 357h1.2v1.2h-1.2zM256 358h1.2v1.2h-1.2zM256 359h1.2v1.2h-1.2zM256 362h1.2v1.2h-1.2zM256 365h1.2v1.2h-1.2zM257 327h1.2v1.2h-1.2zM257 330h1.2v1.2h-1.2zM257 333h1.2v1.2h-1.2zM257 334h1.2v1.2h-1.2zM257 335h1.2v1.2h-1.2zM257 336h1.2v1.2h-1.2zM257 337h1.2v1.2h-1.2zM257 338h1.2v1.2h-1.2zM257 339h1.2v1.2h-1.2zM257 340h1.2v1.2h-1.2zM257 341h1.2v1.2h-1.2zM257 342h1.2v1.2h-1.2zM257 343h1.2v1.2h-1.2zM257 344h1.2v1.2h-1.2zM257 345h1.2v1.2h-1.2zM257 347h1.2v1.2h-1.2zM257 348h1.2v1.2h-1.2zM257 349h1.2v1.2h-1.2zM257 352h1.2v1.2h-1.2zM257 353h1.2v1.2h-1.2zM257 357h1.2v1.2h-1.2zM257 363h1.2v1.2h-1.2zM257 365h1.2v1.2h-1.2zM258 332h1.2v1.2h-1.2zM258 333h1.2v1.2h-1.2zM258 338h1.2v1.2h-1.2zM258 339h1.2v1.2h-1.2zM258 340h1.2v1.2h-1.2zM258 341h1.2v1.2h-1.2zM258 342h1.2v1.2h-1.2zM258 343h1.2v1.2h-1.2zM258 345h1.2v1.2h-1.2zM258 347h1.2v1.2h-1.2zM258 348h1.2v1.2h-1.2zM258 349h1.2v1.2h-1.2zM258 351h1.2v1.2h-1.2zM258 355h1.2v1.2h-1.2zM258 356h1.2v1.2h-1.2zM258 357h1.2v1.2h-1.2zM258 358h1.2v1.2h-1.2zM259 331h1.2v1.2h-1.2zM259 333h1.2v1.2h-1.2zM259 334h1.2v1.2h-1.2zM259 336h1.2v1.2h-1.2zM259 343h1.2v1.2h-1.2zM259 345h1.2v1.2h-1.2zM259 346h1.2v1.2h-1.2zM259 347h1.2v1.2h-1.2zM259 349h1.2v1.2h-1.2zM259 350h1.2v1.2h-1.2zM259 352h1.2v1.2h-1.2zM259 354h1.2v1.2h-1.2zM259 355h1.2v1.2h-1.2zM259 359h1.2v1.2h-1.2zM259 360h1.2v1.2h-1.2zM260 331h1.2v1.2h-1.2zM260 339h1.2v1.2h-1.2zM260 342h1.2v1.2h-1.2zM260 343h1.2v1.2h-1.2zM260 344h1.2v1.2h-1.2zM260 345h1.2v1.2h-1.2zM260 347h1.2v1.2h-1.2zM260 351h1.2v1.2h-1.2zM260 353h1.2v1.2h-1.2zM260 354h1.2v1.2h-1.2zM261 335h1.2v1.2h-1.2zM261 338h1.2v1.2h-1.2zM261 339h1.2v1.2h-1.2zM261 340h1.2v1.2h-1.2zM261 342h1.2v1.2h-1.2zM261 344h1.2v1.2h-1.2zM261 347h1.2v1.2h-1.2zM261 351h1.2v1.2h-1.2zM261 352h1.2v1.2h-1.2zM261 354h1.2v1.2h-1.2zM261 356h1.2v1.2h-1.2zM262 314h1.2v1.2h-1.2zM262 321h1.2v1.2h-1.2zM262 336h1.2v1.2h-1.2zM262 337h1.2v1.2h-1.2zM262 338h1.2v1.2h-1.2zM262 340h1.2v1.2h-1.2zM262 343h1.2v1.2h-1.2zM262 344h1.2v1.2h-1.2zM262 345h1.2v1.2h-1.2zM262 347h1.2v1.2h-1.2zM262 349h1.2v1.2h-1.2zM262 352h1.2v1.2h-1.2zM262 354h1.2v1.2h-1.2zM262 358h1.2v1.2h-1.2zM263 337h1.2v1.2h-1.2zM263 339h1.2v1.2h-1.2zM263 340h1.2v1.2h-1.2zM263 344h1.2v1.2h-1.2zM263 349h1.2v1.2h-1.2zM263 353h1.2v1.2h-1.2zM263 356h1.2v1.2h-1.2zM264 323h1.2v1.2h-1.2zM264 334h1.2v1.2h-1.2zM264 335h1.2v1.2h-1.2zM264 342h1.2v1.2h-1.2zM264 354h1.2v1.2h-1.2zM265 327h1.2v1.2h-1.2zM265 332h1.2v1.2h-1.2zM265 333h1.2v1.2h-1.2zM265 335h1.2v1.2h-1.2zM265 336h1.2v1.2h-1.2zM265 341h1.2v1.2h-1.2zM265 342h1.2v1.2h-1.2zM265 343h1.2v1.2h-1.2zM265 344h1.2v1.2h-1.2zM265 353h1.2v1.2h-1.2zM266 316h1.2v1.2h-1.2zM266 323h1.2v1.2h-1.2zM266 337h1.2v1.2h-1.2zM266 338h1.2v1.2h-1.2zM266 340h1.2v1.2h-1.2zM266 346h1.2v1.2h-1.2zM266 352h1.2v1.2h-1.2zM266 360h1.2v1.2h-1.2zM267 309h1.2v1.2h-1.2zM267 315h1.2v1.2h-1.2zM267 334h1.2v1.2h-1.2zM267 343h1.2v1.2h-1.2zM268 332h1.2v1.2h-1.2zM268 335h1.2v1.2h-1.2zM268 338h1.2v1.2h-1.2zM268 345h1.2v1.2h-1.2zM268 347h1.2v1.2h-1.2zM268 348h1.2v1.2h-1.2zM269 325h1.2v1.2h-1.2zM269 337h1.2v1.2h-1.2zM269 341h1.2v1.2h-1.2zM269 349h1.2v1.2h-1.2zM269 351h1.2v1.2h-1.2zM270 318h1.2v1.2h-1.2zM270 325h1.2v1.2h-1.2zM270 334h1.2v1.2h-1.2zM270 341h1.2v1.2h-1.2zM270 342h1.2v1.2h-1.2zM270 356h1.2v1.2h-1.2zM270 358h1.2v1.2h-1.2zM271 334h1.2v1.2h-1.2zM271 343h1.2v1.2h-1.2zM271 348h1.2v1.2h-1.2zM272 320h1.2v1.2h-1.2zM272 329h1.2v1.2h-1.2zM272 339h1.2v1.2h-1.2zM272 340h1.2v1.2h-1.2zM272 343h1.2v1.2h-1.2zM273 331h1.2v1.2h-1.2zM273 332h1.2v1.2h-1.2zM273 340h1.2v1.2h-1.2zM274 322h1.2v1.2h-1.2zM274 333h1.2v1.2h-1.2zM274 348h1.2v1.2h-1.2zM275 328h1.2v1.2h-1.2zM275 336h1.2v1.2h-1.2zM275 348h1.2v1.2h-1.2zM276 312h1.2v1.2h-1.2zM276 319h1.2v1.2h-1.2zM276 332h1.2v1.2h-1.2zM277 296h1.2v1.2h-1.2zM277 313h1.2v1.2h-1.2zM277 318h1.2v1.2h-1.2zM277 322h1.2v1.2h-1.2zM277 326h1.2v1.2h-1.2zM277 330h1.2v1.2h-1.2zM277 334h1.2v1.2h-1.2zM277 338h1.2v1.2h-1.2zM277 340h1.2v1.2h-1.2zM278 302h1.2v1.2h-1.2zM278 304h1.2v1.2h-1.2zM278 306h1.2v1.2h-1.2zM278 310h1.2v1.2h-1.2zM278 316h1.2v1.2h-1.2zM278 318h1.2v1.2h-1.2zM278 328h1.2v1.2h-1.2zM278 329h1.2v1.2h-1.2zM278 331h1.2v1.2h-1.2zM278 334h1.2v1.2h-1.2zM279 301h1.2v1.2h-1.2zM279 329h1.2v1.2h-1.2zM279 332h1.2v1.2h-1.2zM279 344h1.2v1.2h-1.2zM280 312h1.2v1.2h-1.2zM280 313h1.2v1.2h-1.2zM280 314h1.2v1.2h-1.2zM280 315h1.2v1.2h-1.2zM280 317h1.2v1.2h-1.2zM280 324h1.2v1.2h-1.2zM280 325h1.2v1.2h-1.2zM280 328h1.2v1.2h-1.2zM280 331h1.2v1.2h-1.2zM281 317h1.2v1.2h-1.2zM281 319h1.2v1.2h-1.2zM281 321h1.2v1.2h-1.2zM281 324h1.2v1.2h-1.2zM281 330h1.2v1.2h-1.2zM281 335h1.2v1.2h-1.2zM281 338h1.2v1.2h-1.2zM281 342h1.2v1.2h-1.2zM282 316h1.2v1.2h-1.2zM282 319h1.2v1.2h-1.2zM282 329h1.2v1.2h-1.2zM282 334h1.2v1.2h-1.2zM282 341h1.2v1.2h-1.2zM282 344h1.2v1.2h-1.2zM283 318h1.2v1.2h-1.2zM283 320h1.2v1.2h-1.2zM283 327h1.2v1.2h-1.2zM283 330h1.2v1.2h-1.2zM283 333h1.2v1.2h-1.2zM283 336h1.2v1.2h-1.2zM284 316h1.2v1.2h-1.2zM284 319h1.2v1.2h-1.2zM284 324h1.2v1.2h-1.2zM284 326h1.2v1.2h-1.2zM284 327h1.2v1.2h-1.2zM284 330h1.2v1.2h-1.2zM284 333h1.2v1.2h-1.2zM284 337h1.2v1.2h-1.2zM284 341h1.2v1.2h-1.2zM285 309h1.2v1.2h-1.2zM285 318h1.2v1.2h-1.2zM285 322h1.2v1.2h-1.2zM285 325h1.2v1.2h-1.2zM285 329h1.2v1.2h-1.2zM285 331h1.2v1.2h-1.2zM285 332h1.2v1.2h-1.2zM286 310h1.2v1.2h-1.2zM286 322h1.2v1.2h-1.2zM286 327h1.2v1.2h-1.2zM286 329h1.2v1.2h-1.2zM286 338h1.2v1.2h-1.2zM286 345h1.2v1.2h-1.2zM287 316h1.2v1.2h-1.2zM287 317h1.2v1.2h-1.2zM287 318h1.2v1.2h-1.2zM287 319h1.2v1.2h-1.2zM287 322h1.2v1.2h-1.2zM287 326h1.2v1.2h-1.2zM287 335h1.2v1.2h-1.2zM288 310h1.2v1.2h-1.2zM288 322h1.2v1.2h-1.2zM288 328h1.2v1.2h-1.2zM288 330h1.2v1.2h-1.2zM288 333h1.2v1.2h-1.2zM288 341h1.2v1.2h-1.2zM289 304h1.2v1.2h-1.2zM289 309h1.2v1.2h-1.2zM289 312h1.2v1.2h-1.2zM289 319h1.2v1.2h-1.2zM289 320h1.2v1.2h-1.2zM289 321h1.2v1.2h-1.2zM289 323h1.2v1.2h-1.2zM289 324h1.2v1.2h-1.2zM289 327h1.2v1.2h-1.2zM290 302h1.2v1.2h-1.2zM290 303h1.2v1.2h-1.2zM290 315h1.2v1.2h-1.2zM290 317h1.2v1.2h-1.2zM290 321h1.2v1.2h-1.2zM290 325h1.2v1.2h-1.2zM290 330h1.2v1.2h-1.2zM290 331h1.2v1.2h-1.2zM291 306h1.2v1.2h-1.2zM291 308h1.2v1.2h-1.2zM291 310h1.2v1.2h-1.2zM291 311h1.2v1.2h-1.2zM291 318h1.2v1.2h-1.2zM291 319h1.2v1.2h-1.2zM291 326h1.2v1.2h-1.2zM291 330h1.2v1.2h-1.2zM291 331h1.2v1.2h-1.2zM291 334h1.2v1.2h-1.2zM291 336h1.2v1.2h-1.2zM291 338h1.2v1.2h-1.2zM292 307h1.2v1.2h-1.2zM292 308h1.2v1.2h-1.2zM292 313h1.2v1.2h-1.2zM292 314h1.2v1.2h-1.2zM292 320h1.2v1.2h-1.2zM292 325h1.2v1.2h-1.2zM292 326h1.2v1.2h-1.2zM292 329h1.2v1.2h-1.2zM292 333h1.2v1.2h-1.2zM292 336h1.2v1.2h-1.2zM293 300h1.2v1.2h-1.2zM293 306h1.2v1.2h-1.2zM293 317h1.2v1.2h-1.2zM293 321h1.2v1.2h-1.2zM293 322h1.2v1.2h-1.2zM293 328h1.2v1.2h-1.2zM293 332h1.2v1.2h-1.2zM294 305h1.2v1.2h-1.2zM294 309h1.2v1.2h-1.2zM294 310h1.2v1.2h-1.2zM294 311h1.2v1.2h-1.2zM294 313h1.2v1.2h-1.2zM295 307h1.2v1.2h-1.2zM295 313h1.2v1.2h-1.2zM295 315h1.2v1.2h-1.2zM295 318h1.2v1.2h-1.2zM295 322h1.2v1.2h-1.2zM295 326h1.2v1.2h-1.2zM295 327h1.2v1.2h-1.2zM295 328h1.2v1.2h-1.2zM295 337h1.2v1.2h-1.2zM295 341h1.2v1.2h-1.2zM296 303h1.2v1.2h-1.2zM296 305h1.2v1.2h-1.2zM296 307h1.2v1.2h-1.2zM296 312h1.2v1.2h-1.2zM296 315h1.2v1.2h-1.2zM296 320h1.2v1.2h-1.2zM296 324h1.2v1.2h-1.2zM297 300h1.2v1.2h-1.2zM297 309h1.2v1.2h-1.2zM297 313h1.2v1.2h-1.2zM297 314h1.2v1.2h-1.2zM297 315h1.2v1.2h-1.2zM297 316h1.2v1.2h-1.2zM297 317h1.2v1.2h-1.2zM297 318h1.2v1.2h-1.2zM297 320h1.2v1.2h-1.2zM297 328h1.2v1.2h-1.2zM298 308h1.2v1.2h-1.2zM298 309h1.2v1.2h-1.2zM298 314h1.2v1.2h-1.2zM298 317h1.2v1.2h-1.2zM298 318h1.2v1.2h-1.2zM298 324h1.2v1.2h-1.2zM299 314h1.2v1.2h-1.2zM299 319h1.2v1.2h-1.2zM299 323h1.2v1.2h-1.2zM299 335h1.2v1.2h-1.2zM300 304h1.2v1.2h-1.2zM300 309h1.2v1.2h-1.2zM300 320h1.2v1.2h-1.2zM300 322h1.2v1.2h-1.2zM300 324h1.2v1.2h-1.2zM300 326h1.2v1.2h-1.2zM300 327h1.2v1.2h-1.2zM301 291h1.2v1.2h-1.2zM301 303h1.2v1.2h-1.2zM301 324h1.2v1.2h-1.2zM301 328h1.2v1.2h-1.2zM302 315h1.2v1.2h-1.2zM302 323h1.2v1.2h-1.2zM303 310h1.2v1.2h-1.2zM303 315h1.2v1.2h-1.2zM303 317h1.2v1.2h-1.2zM303 324h1.2v1.2h-1.2zM303 325h1.2v1.2h-1.2zM303 338h1.2v1.2h-1.2zM304 315h1.2v1.2h-1.2zM304 316h1.2v1.2h-1.2zM304 318h1.2v1.2h-1.2zM304 320h1.2v1.2h-1.2zM304 326h1.2v1.2h-1.2zM304 327h1.2v1.2h-1.2zM305 302h1.2v1.2h-1.2zM305 311h1.2v1.2h-1.2zM305 312h1.2v1.2h-1.2zM305 330h1.2v1.2h-1.2zM306 304h1.2v1.2h-1.2zM306 313h1.2v1.2h-1.2zM306 316h1.2v1.2h-1.2zM306 319h1.2v1.2h-1.2zM307 300h1.2v1.2h-1.2zM307 311h1.2v1.2h-1.2zM307 313h1.2v1.2h-1.2zM307 317h1.2v1.2h-1.2zM308 318h1.2v1.2h-1.2zM308 324h1.2v1.2h-1.2zM308 325h1.2v1.2h-1.2zM309 326h1.2v1.2h-1.2zM310 297h1.2v1.2h-1.2zM310 307h1.2v1.2h-1.2zM310 309h1.2v1.2h-1.2zM310 312h1.2v1.2h-1.2zM310 317h1.2v1.2h-1.2zM310 322h1.2v1.2h-1.2zM310 328h1.2v1.2h-1.2zM311 320h1.2v1.2h-1.2zM312 295h1.2v1.2h-1.2zM312 309h1.2v1.2h-1.2zM313 296h1.2v1.2h-1.2zM313 315h1.2v1.2h-1.2zM313 321h1.2v1.2h-1.2zM313 328h1.2v1.2h-1.2zM314 300h1.2v1.2h-1.2zM314 319h1.2v1.2h-1.2zM314 328h1.2v1.2h-1.2zM316 306h1.2v1.2h-1.2zM316 315h1.2v1.2h-1.2zM318 306h1.2v1.2h-1.2zM319 307h1.2v1.2h-1.2zM319 320h1.2v1.2h-1.2zM322 302h1.2v1.2h-1.2zM322 326h1.2v1.2h-1.2zM323 296h1.2v1.2h-1.2z" fill="#ff1414"/>
<rect x="210.40" y="254.60" width="140.90" height="125.30" fill="none" stroke="#111" stroke-width="1.4"/>
<line x1="267.30" y1="254.60" x2="267.30" y2="379.90" stroke="#151515" stroke-width="1.3"/>
<line x1="210.40" y1="332.10" x2="351.30" y2="332.10" stroke="#151515" stroke-width="1.3"/>
<line x1="210.40" y1="379.90" x2="210.40" y2="384.10" stroke="#000" stroke-width="1.2"/>
<line x1="206.20" y1="379.90" x2="210.40" y2="379.90" stroke="#000" stroke-width="1.2"/>
<line x1="219.43" y1="379.90" x2="219.43" y2="382.30" stroke="#000" stroke-width="0.9"/>
<line x1="208.00" y1="373.22" x2="210.40" y2="373.22" stroke="#000" stroke-width="0.9"/>
<line x1="224.72" y1="379.90" x2="224.72" y2="382.30" stroke="#000" stroke-width="0.9"/>
<line x1="208.00" y1="369.32" x2="210.40" y2="369.32" stroke="#000" stroke-width="0.9"/>
<line x1="228.47" y1="379.90" x2="228.47" y2="382.30" stroke="#000" stroke-width="0.9"/>
<line x1="208.00" y1="366.55" x2="210.40" y2="366.55" stroke="#000" stroke-width="0.9"/>
<line x1="231.38" y1="379.90" x2="231.38" y2="382.30" stroke="#000" stroke-width="0.9"/>
<line x1="208.00" y1="364.40" x2="210.40" y2="364.40" stroke="#000" stroke-width="0.9"/>
<line x1="233.75" y1="379.90" x2="233.75" y2="382.30" stroke="#000" stroke-width="0.9"/>
<line x1="208.00" y1="362.64" x2="210.40" y2="362.64" stroke="#000" stroke-width="0.9"/>
<line x1="235.76" y1="379.90" x2="235.76" y2="382.30" stroke="#000" stroke-width="0.9"/>
<line x1="208.00" y1="361.16" x2="210.40" y2="361.16" stroke="#000" stroke-width="0.9"/>
<line x1="237.50" y1="379.90" x2="237.50" y2="382.30" stroke="#000" stroke-width="0.9"/>
<line x1="208.00" y1="359.87" x2="210.40" y2="359.87" stroke="#000" stroke-width="0.9"/>
<line x1="239.04" y1="379.90" x2="239.04" y2="382.30" stroke="#000" stroke-width="0.9"/>
<line x1="208.00" y1="358.74" x2="210.40" y2="358.74" stroke="#000" stroke-width="0.9"/>
<line x1="240.41" y1="379.90" x2="240.41" y2="384.10" stroke="#000" stroke-width="1.2"/>
<line x1="206.20" y1="357.72" x2="210.40" y2="357.72" stroke="#000" stroke-width="1.2"/>
<line x1="250.46" y1="379.90" x2="250.46" y2="382.30" stroke="#000" stroke-width="0.9"/>
<line x1="208.00" y1="347.95" x2="210.40" y2="347.95" stroke="#000" stroke-width="0.9"/>
<line x1="256.34" y1="379.90" x2="256.34" y2="382.30" stroke="#000" stroke-width="0.9"/>
<line x1="208.00" y1="342.24" x2="210.40" y2="342.24" stroke="#000" stroke-width="0.9"/>
<line x1="260.52" y1="379.90" x2="260.52" y2="382.30" stroke="#000" stroke-width="0.9"/>
<line x1="208.00" y1="338.18" x2="210.40" y2="338.18" stroke="#000" stroke-width="0.9"/>
<line x1="263.75" y1="379.90" x2="263.75" y2="382.30" stroke="#000" stroke-width="0.9"/>
<line x1="208.00" y1="335.04" x2="210.40" y2="335.04" stroke="#000" stroke-width="0.9"/>
<line x1="266.40" y1="379.90" x2="266.40" y2="382.30" stroke="#000" stroke-width="0.9"/>
<line x1="208.00" y1="332.47" x2="210.40" y2="332.47" stroke="#000" stroke-width="0.9"/>
<line x1="268.63" y1="379.90" x2="268.63" y2="382.30" stroke="#000" stroke-width="0.9"/>
<line x1="208.00" y1="330.30" x2="210.40" y2="330.30" stroke="#000" stroke-width="0.9"/>
<line x1="270.57" y1="379.90" x2="270.57" y2="382.30" stroke="#000" stroke-width="0.9"/>
<line x1="208.00" y1="328.41" x2="210.40" y2="328.41" stroke="#000" stroke-width="0.9"/>
<line x1="272.28" y1="379.90" x2="272.28" y2="382.30" stroke="#000" stroke-width="0.9"/>
<line x1="208.00" y1="326.75" x2="210.40" y2="326.75" stroke="#000" stroke-width="0.9"/>
<line x1="273.81" y1="379.90" x2="273.81" y2="384.10" stroke="#000" stroke-width="1.2"/>
<line x1="206.20" y1="325.27" x2="210.40" y2="325.27" stroke="#000" stroke-width="1.2"/>
<line x1="285.47" y1="379.90" x2="285.47" y2="382.30" stroke="#000" stroke-width="0.9"/>
<line x1="208.00" y1="314.26" x2="210.40" y2="314.26" stroke="#000" stroke-width="0.9"/>
<line x1="292.29" y1="379.90" x2="292.29" y2="382.30" stroke="#000" stroke-width="0.9"/>
<line x1="208.00" y1="307.81" x2="210.40" y2="307.81" stroke="#000" stroke-width="0.9"/>
<line x1="297.13" y1="379.90" x2="297.13" y2="382.30" stroke="#000" stroke-width="0.9"/>
<line x1="208.00" y1="303.24" x2="210.40" y2="303.24" stroke="#000" stroke-width="0.9"/>
<line x1="300.89" y1="379.90" x2="300.89" y2="382.30" stroke="#000" stroke-width="0.9"/>
<line x1="208.00" y1="299.70" x2="210.40" y2="299.70" stroke="#000" stroke-width="0.9"/>
<line x1="303.96" y1="379.90" x2="303.96" y2="382.30" stroke="#000" stroke-width="0.9"/>
<line x1="208.00" y1="296.80" x2="210.40" y2="296.80" stroke="#000" stroke-width="0.9"/>
<line x1="306.55" y1="379.90" x2="306.55" y2="382.30" stroke="#000" stroke-width="0.9"/>
<line x1="208.00" y1="294.35" x2="210.40" y2="294.35" stroke="#000" stroke-width="0.9"/>
<line x1="308.80" y1="379.90" x2="308.80" y2="382.30" stroke="#000" stroke-width="0.9"/>
<line x1="208.00" y1="292.23" x2="210.40" y2="292.23" stroke="#000" stroke-width="0.9"/>
<line x1="310.78" y1="379.90" x2="310.78" y2="382.30" stroke="#000" stroke-width="0.9"/>
<line x1="208.00" y1="290.36" x2="210.40" y2="290.36" stroke="#000" stroke-width="0.9"/>
<line x1="312.55" y1="379.90" x2="312.55" y2="384.10" stroke="#000" stroke-width="1.2"/>
<line x1="206.20" y1="288.68" x2="210.40" y2="288.68" stroke="#000" stroke-width="1.2"/>
<line x1="324.22" y1="379.90" x2="324.22" y2="382.30" stroke="#000" stroke-width="0.9"/>
<line x1="208.00" y1="278.42" x2="210.40" y2="278.42" stroke="#000" stroke-width="0.9"/>
<line x1="331.04" y1="379.90" x2="331.04" y2="382.30" stroke="#000" stroke-width="0.9"/>
<line x1="208.00" y1="272.42" x2="210.40" y2="272.42" stroke="#000" stroke-width="0.9"/>
<line x1="335.88" y1="379.90" x2="335.88" y2="382.30" stroke="#000" stroke-width="0.9"/>
<line x1="208.00" y1="268.16" x2="210.40" y2="268.16" stroke="#000" stroke-width="0.9"/>
<line x1="339.64" y1="379.90" x2="339.64" y2="382.30" stroke="#000" stroke-width="0.9"/>
<line x1="208.00" y1="264.86" x2="210.40" y2="264.86" stroke="#000" stroke-width="0.9"/>
<line x1="342.70" y1="379.90" x2="342.70" y2="382.30" stroke="#000" stroke-width="0.9"/>
<line x1="208.00" y1="262.16" x2="210.40" y2="262.16" stroke="#000" stroke-width="0.9"/>
<line x1="345.30" y1="379.90" x2="345.30" y2="382.30" stroke="#000" stroke-width="0.9"/>
<line x1="208.00" y1="259.88" x2="210.40" y2="259.88" stroke="#000" stroke-width="0.9"/>
<line x1="347.54" y1="379.90" x2="347.54" y2="382.30" stroke="#000" stroke-width="0.9"/>
<line x1="208.00" y1="257.90" x2="210.40" y2="257.90" stroke="#000" stroke-width="0.9"/>
<line x1="349.53" y1="379.90" x2="349.53" y2="382.30" stroke="#000" stroke-width="0.9"/>
<line x1="208.00" y1="256.16" x2="210.40" y2="256.16" stroke="#000" stroke-width="0.9"/>
<line x1="351.30" y1="379.90" x2="351.30" y2="384.10" stroke="#000" stroke-width="1.2"/>
<line x1="206.20" y1="254.60" x2="210.40" y2="254.60" stroke="#000" stroke-width="1.2"/>
<text x="212.40" y="395.90" font-size="11.3" text-anchor="middle" fill="#111" stroke="#111" stroke-width="0.36">10<tspan font-size="7.2" dy="-3.8">0</tspan></text>
<text x="202.60" y="377.90" font-size="11.3" text-anchor="middle" fill="#111" stroke="#111" stroke-width="0.36" transform="rotate(-90 202.60 377.90)">10<tspan font-size="7.2" dy="-3.8">0</tspan></text>
<text x="240.41" y="395.90" font-size="11.3" text-anchor="middle" fill="#111" stroke="#111" stroke-width="0.36">10<tspan font-size="7.2" dy="-3.8">1</tspan></text>
<text x="202.60" y="357.72" font-size="11.3" text-anchor="middle" fill="#111" stroke="#111" stroke-width="0.36" transform="rotate(-90 202.60 357.72)">10<tspan font-size="7.2" dy="-3.8">1</tspan></text>
<text x="273.81" y="395.90" font-size="11.3" text-anchor="middle" fill="#111" stroke="#111" stroke-width="0.36">10<tspan font-size="7.2" dy="-3.8">2</tspan></text>
<text x="202.60" y="325.27" font-size="11.3" text-anchor="middle" fill="#111" stroke="#111" stroke-width="0.36" transform="rotate(-90 202.60 325.27)">10<tspan font-size="7.2" dy="-3.8">2</tspan></text>
<text x="312.55" y="395.90" font-size="11.3" text-anchor="middle" fill="#111" stroke="#111" stroke-width="0.36">10<tspan font-size="7.2" dy="-3.8">3</tspan></text>
<text x="202.60" y="288.68" font-size="11.3" text-anchor="middle" fill="#111" stroke="#111" stroke-width="0.36" transform="rotate(-90 202.60 288.68)">10<tspan font-size="7.2" dy="-3.8">3</tspan></text>
<text x="348.30" y="395.90" font-size="11.3" text-anchor="middle" fill="#111" stroke="#111" stroke-width="0.36">10<tspan font-size="7.2" dy="-3.8">4</tspan></text>
<text x="202.60" y="256.60" font-size="11.3" text-anchor="middle" fill="#111" stroke="#111" stroke-width="0.36" transform="rotate(-90 202.60 256.60)">10<tspan font-size="7.2" dy="-3.8">4</tspan></text>
<text x="275.05" y="407.70" font-size="11.8" text-anchor="middle" fill="#111" stroke="#111" stroke-width="0.36">FITC</text>
<text x="188.40" y="318.75" font-size="11.3" text-anchor="middle" transform="rotate(-90 188.40 318.75)" fill="#111" stroke="#111" stroke-width="0.36">PI</text>
<text x="465.65" y="251.00" font-size="10.5" text-anchor="middle" fill="#111" stroke="#111" stroke-width="0.36">si-HMGB1</text>
<path d="M411 351h1.2v1.2h-1.2zM412 356h1.2v1.2h-1.2zM412 369h1.2v1.2h-1.2zM413 358h1.2v1.2h-1.2zM415 347h1.2v1.2h-1.2zM415 351h1.2v1.2h-1.2zM415 355h1.2v1.2h-1.2zM415 367h1.2v1.2h-1.2zM416 347h1.2v1.2h-1.2zM416 355h1.2v1.2h-1.2zM417 343h1.2v1.2h-1.2zM418 343h1.2v1.2h-1.2zM418 344h1.2v1.2h-1.2zM418 346h1.2v1.2h-1.2zM418 349h1.2v1.2h-1.2zM418 351h1.2v1.2h-1.2zM418 356h1.2v1.2h-1.2zM418 359h1.2v1.2h-1.2zM418 371h1.2v1.2h-1.2zM419 344h1.2v1.2h-1.2zM419 345h1.2v1.2h-1.2zM419 352h1.2v1.2h-1.2zM419 355h1.2v1.2h-1.2zM419 357h1.2v1.2h-1.2zM419 358h1.2v1.2h-1.2zM419 363h1.2v1.2h-1.2zM419 365h1.2v1.2h-1.2zM419 369h1.2v1.2h-1.2zM420 344h1.2v1.2h-1.2zM420 353h1.2v1.2h-1.2zM420 358h1.2v1.2h-1.2zM420 361h1.2v1.2h-1.2zM420 365h1.2v1.2h-1.2zM420 367h1.2v1.2h-1.2zM421 339h1.2v1.2h-1.2zM421 344h1.2v1.2h-1.2zM421 346h1.2v1.2h-1.2zM421 350h1.2v1.2h-1.2zM421 351h1.2v1.2h-1.2zM421 355h1.2v1.2h-1.2zM421 357h1.2v1.2h-1.2zM421 363h1.2v1.2h-1.2zM421 368h1.2v1.2h-1.2zM422 336h1.2v1.2h-1.2zM422 344h1.2v1.2h-1.2zM422 354h1.2v1.2h-1.2zM422 355h1.2v1.2h-1.2zM422 356h1.2v1.2h-1.2zM422 357h1.2v1.2h-1.2zM422 363h1.2v1.2h-1.2zM422 364h1.2v1.2h-1.2zM422 366h1.2v1.2h-1.2zM423 340h1.2v1.2h-1.2zM423 343h1.2v1.2h-1.2zM423 344h1.2v1.2h-1.2zM423 346h1.2v1.2h-1.2zM423 347h1.2v1.2h-1.2zM423 349h1.2v1.2h-1.2zM423 352h1.2v1.2h-1.2zM423 355h1.2v1.2h-1.2zM423 357h1.2v1.2h-1.2zM423 367h1.2v1.2h-1.2zM424 333h1.2v1.2h-1.2zM424 334h1.2v1.2h-1.2zM424 341h1.2v1.2h-1.2zM424 343h1.2v1.2h-1.2zM424 344h1.2v1.2h-1.2zM424 345h1.2v1.2h-1.2zM424 347h1.2v1.2h-1.2zM424 348h1.2v1.2h-1.2zM424 349h1.2v1.2h-1.2zM424 350h1.2v1.2h-1.2zM424 353h1.2v1.2h-1.2zM424 354h1.2v1.2h-1.2zM424 357h1.2v1.2h-1.2zM424 358h1.2v1.2h-1.2zM424 359h1.2v1.2h-1.2zM424 365h1.2v1.2h-1.2zM424 369h1.2v1.2h-1.2zM425 340h1.2v1.2h-1.2zM425 343h1.2v1.2h-1.2zM425 344h1.2v1.2h-1.2zM425 345h1.2v1.2h-1.2zM425 347h1.2v1.2h-1.2zM425 349h1.2v1.2h-1.2zM425 350h1.2v1.2h-1.2zM425 351h1.2v1.2h-1.2zM425 352h1.2v1.2h-1.2zM425 353h1.2v1.2h-1.2zM425 355h1.2v1.2h-1.2zM425 356h1.2v1.2h-1.2zM425 357h1.2v1.2h-1.2zM425 358h1.2v1.2h-1.2zM425 360h1.2v1.2h-1.2zM426 334h1.2v1.2h-1.2zM426 336h1.2v1.2h-1.2zM426 337h1.2v1.2h-1.2zM426 342h1.2v1.2h-1.2zM426 343h1.2v1.2h-1.2zM426 345h1.2v1.2h-1.2zM426 346h1.2v1.2h-1.2zM426 347h1.2v1.2h-1.2zM426 348h1.2v1.2h-1.2zM426 349h1.2v1.2h-1.2zM426 350h1.2v1.2h-1.2zM426 351h1.2v1.2h-1.2zM426 352h1.2v1.2h-1.2zM426 353h1.2v1.2h-1.2zM426 354h1.2v1.2h-1.2zM426 356h1.2v1.2h-1.2zM426 357h1.2v1.2h-1.2zM426 358h1.2v1.2h-1.2zM426 359h1.2v1.2h-1.2zM427 337h1.2v1.2h-1.2zM427 338h1.2v1.2h-1.2zM427 339h1.2v1.2h-1.2zM427 340h1.2v1.2h-1.2zM427 341h1.2v1.2h-1.2zM427 343h1.2v1.2h-1.2zM427 344h1.2v1.2h-1.2zM427 345h1.2v1.2h-1.2zM427 347h1.2v1.2h-1.2zM427 348h1.2v1.2h-1.2zM427 349h1.2v1.2h-1.2zM427 350h1.2v1.2h-1.2zM427 351h1.2v1.2h-1.2zM427 352h1.2v1.2h-1.2zM427 355h1.2v1.2h-1.2zM427 356h1.2v1.2h-1.2zM427 360h1.2v1.2h-1.2zM427 362h1.2v1.2h-1.2zM427 363h1.2v1.2h-1.2zM428 334h1.2v1.2h-1.2zM428 339h1.2v1.2h-1.2zM428 340h1.2v1.2h-1.2zM428 341h1.2v1.2h-1.2zM428 343h1.2v1.2h-1.2zM428 344h1.2v1.2h-1.2zM428 345h1.2v1.2h-1.2zM428 346h1.2v1.2h-1.2zM428 347h1.2v1.2h-1.2zM428 348h1.2v1.2h-1.2zM428 349h1.2v1.2h-1.2zM428 350h1.2v1.2h-1.2zM428 351h1.2v1.2h-1.2zM428 352h1.2v1.2h-1.2zM428 353h1.2v1.2h-1.2zM428 354h1.2v1.2h-1.2zM428 355h1.2v1.2h-1.2zM428 356h1.2v1.2h-1.2zM428 358h1.2v1.2h-1.2zM428 359h1.2v1.2h-1.2zM428 360h1.2v1.2h-1.2zM428 364h1.2v1.2h-1.2zM429 332h1.2v1.2h-1.2zM429 338h1.2v1.2h-1.2zM429 339h1.2v1.2h-1.2zM429 340h1.2v1.2h-1.2zM429 341h1.2v1.2h-1.2zM429 342h1.2v1.2h-1.2zM429 343h1.2v1.2h-1.2zM429 344h1.2v1.2h-1.2zM429 345h1.2v1.2h-1.2zM429 346h1.2v1.2h-1.2zM429 347h1.2v1.2h-1.2zM429 348h1.2v1.2h-1.2zM429 349h1.2v1.2h-1.2zM429 350h1.2v1.2h-1.2zM429 351h1.2v1.2h-1.2zM429 353h1.2v1.2h-1.2zM429 354h1.2v1.2h-1.2zM429 355h1.2v1.2h-1.2zM429 356h1.2v1.2h-1.2zM429 357h1.2v1.2h-1.2zM429 358h1.2v1.2h-1.2zM429 360h1.2v1.2h-1.2zM429 363h1.2v1.2h-1.2zM430 331h1.2v1.2h-1.2zM430 337h1.2v1.2h-1.2zM430 339h1.2v1.2h-1.2zM430 340h1.2v1.2h-1.2zM430 341h1.2v1.2h-1.2zM430 343h1.2v1.2h-1.2zM430 344h1.2v1.2h-1.2zM430 345h1.2v1.2h-1.2zM430 347h1.2v1.2h-1.2zM430 348h1.2v1.2h-1.2zM430 349h1.2v1.2h-1.2zM430 350h1.2v1.2h-1.2zM430 351h1.2v1.2h-1.2zM430 352h1.2v1.2h-1.2zM430 353h1.2v1.2h-1.2zM430 355h1.2v1.2h-1.2zM430 356h1.2v1.2h-1.2zM430 358h1.2v1.2h-1.2zM430 360h1.2v1.2h-1.2zM430 361h1.2v1.2h-1.2zM431 336h1.2v1.2h-1.2zM431 337h1.2v1.2h-1.2zM431 339h1.2v1.2h-1.2zM431 340h1.2v1.2h-1.2zM431 342h1.2v1.2h-1.2zM431 343h1.2v1.2h-1.2zM431 344h1.2v1.2h-1.2zM431 345h1.2v1.2h-1.2zM431 346h1.2v1.2h-1.2zM431 347h1.2v1.2h-1.2zM431 348h1.2v1.2h-1.2zM431 349h1.2v1.2h-1.2zM431 350h1.2v1.2h-1.2zM431 351h1.2v1.2h-1.2zM431 352h1.2v1.2h-1.2zM431 353h1.2v1.2h-1.2zM431 354h1.2v1.2h-1.2zM431 355h1.2v1.2h-1.2zM431 356h1.2v1.2h-1.2zM431 357h1.2v1.2h-1.2zM432 330h1.2v1.2h-1.2zM432 333h1.2v1.2h-1.2zM432 334h1.2v1.2h-1.2zM432 337h1.2v1.2h-1.2zM432 338h1.2v1.2h-1.2zM432 341h1.2v1.2h-1.2zM432 342h1.2v1.2h-1.2zM432 343h1.2v1.2h-1.2zM432 344h1.2v1.2h-1.2zM432 345h1.2v1.2h-1.2zM432 346h1.2v1.2h-1.2zM432 347h1.2v1.2h-1.2zM432 348h1.2v1.2h-1.2zM432 349h1.2v1.2h-1.2zM432 350h1.2v1.2h-1.2zM432 352h1.2v1.2h-1.2zM432 353h1.2v1.2h-1.2zM432 354h1.2v1.2h-1.2zM432 357h1.2v1.2h-1.2zM432 358h1.2v1.2h-1.2zM432 359h1.2v1.2h-1.2zM432 361h1.2v1.2h-1.2zM433 333h1.2v1.2h-1.2zM433 335h1.2v1.2h-1.2zM433 338h1.2v1.2h-1.2zM433 339h1.2v1.2h-1.2zM433 340h1.2v1.2h-1.2zM433 341h1.2v1.2h-1.2zM433 342h1.2v1.2h-1.2zM433 344h1.2v1.2h-1.2zM433 345h1.2v1.2h-1.2zM433 346h1.2v1.2h-1.2zM433 347h1.2v1.2h-1.2zM433 348h1.2v1.2h-1.2zM433 349h1.2v1.2h-1.2zM433 350h1.2v1.2h-1.2zM433 351h1.2v1.2h-1.2zM433 352h1.2v1.2h-1.2zM433 353h1.2v1.2h-1.2zM433 354h1.2v1.2h-1.2zM433 355h1.2v1.2h-1.2zM433 356h1.2v1.2h-1.2zM433 358h1.2v1.2h-1.2zM433 359h1.2v1.2h-1.2zM433 360h1.2v1.2h-1.2zM433 361h1.2v1.2h-1.2zM433 362h1.2v1.2h-1.2zM434 325h1.2v1.2h-1.2zM434 334h1.2v1.2h-1.2zM434 335h1.2v1.2h-1.2zM434 337h1.2v1.2h-1.2zM434 338h1.2v1.2h-1.2zM434 339h1.2v1.2h-1.2zM434 341h1.2v1.2h-1.2zM434 342h1.2v1.2h-1.2zM434 343h1.2v1.2h-1.2zM434 344h1.2v1.2h-1.2zM434 345h1.2v1.2h-1.2zM434 346h1.2v1.2h-1.2zM434 347h1.2v1.2h-1.2zM434 348h1.2v1.2h-1.2zM434 349h1.2v1.2h-1.2zM434 350h1.2v1.2h-1.2zM434 352h1.2v1.2h-1.2zM434 353h1.2v1.2h-1.2zM434 354h1.2v1.2h-1.2zM434 355h1.2v1.2h-1.2zM434 357h1.2v1.2h-1.2zM434 359h1.2v1.2h-1.2zM435 335h1.2v1.2h-1.2zM435 336h1.2v1.2h-1.2zM435 337h1.2v1.2h-1.2zM435 340h1.2v1.2h-1.2zM435 341h1.2v1.2h-1.2zM435 342h1.2v1.2h-1.2zM435 343h1.2v1.2h-1.2zM435 344h1.2v1.2h-1.2zM435 345h1.2v1.2h-1.2zM435 346h1.2v1.2h-1.2zM435 347h1.2v1.2h-1.2zM435 348h1.2v1.2h-1.2zM435 349h1.2v1.2h-1.2zM435 350h1.2v1.2h-1.2zM435 351h1.2v1.2h-1.2zM435 352h1.2v1.2h-1.2zM435 353h1.2v1.2h-1.2zM435 354h1.2v1.2h-1.2zM435 356h1.2v1.2h-1.2zM435 358h1.2v1.2h-1.2zM435 362h1.2v1.2h-1.2zM436 337h1.2v1.2h-1.2zM436 338h1.2v1.2h-1.2zM436 339h1.2v1.2h-1.2zM436 341h1.2v1.2h-1.2zM436 342h1.2v1.2h-1.2zM436 344h1.2v1.2h-1.2zM436 345h1.2v1.2h-1.2zM436 346h1.2v1.2h-1.2zM436 347h1.2v1.2h-1.2zM436 348h1.2v1.2h-1.2zM436 349h1.2v1.2h-1.2zM436 350h1.2v1.2h-1.2zM436 351h1.2v1.2h-1.2zM436 352h1.2v1.2h-1.2zM436 354h1.2v1.2h-1.2zM436 356h1.2v1.2h-1.2zM436 357h1.2v1.2h-1.2zM436 358h1.2v1.2h-1.2zM436 360h1.2v1.2h-1.2zM436 361h1.2v1.2h-1.2zM437 331h1.2v1.2h-1.2zM437 332h1.2v1.2h-1.2zM437 333h1.2v1.2h-1.2zM437 334h1.2v1.2h-1.2zM437 336h1.2v1.2h-1.2zM437 338h1.2v1.2h-1.2zM437 339h1.2v1.2h-1.2zM437 340h1.2v1.2h-1.2zM437 341h1.2v1.2h-1.2zM437 342h1.2v1.2h-1.2zM437 343h1.2v1.2h-1.2zM437 344h1.2v1.2h-1.2zM437 345h1.2v1.2h-1.2zM437 346h1.2v1.2h-1.2zM437 347h1.2v1.2h-1.2zM437 348h1.2v1.2h-1.2zM437 349h1.2v1.2h-1.2zM437 350h1.2v1.2h-1.2zM437 351h1.2v1.2h-1.2zM437 352h1.2v1.2h-1.2zM437 353h1.2v1.2h-1.2zM437 354h1.2v1.2h-1.2zM437 355h1.2v1.2h-1.2zM437 357h1.2v1.2h-1.2zM438 327h1.2v1.2h-1.2zM438 331h1.2v1.2h-1.2zM438 333h1.2v1.2h-1.2zM438 338h1.2v1.2h-1.2zM438 340h1.2v1.2h-1.2zM438 342h1.2v1.2h-1.2zM438 343h1.2v1.2h-1.2zM438 344h1.2v1.2h-1.2zM438 345h1.2v1.2h-1.2zM438 346h1.2v1.2h-1.2zM438 347h1.2v1.2h-1.2zM438 348h1.2v1.2h-1.2zM438 349h1.2v1.2h-1.2zM438 350h1.2v1.2h-1.2zM438 351h1.2v1.2h-1.2zM438 353h1.2v1.2h-1.2zM438 354h1.2v1.2h-1.2zM438 355h1.2v1.2h-1.2zM438 356h1.2v1.2h-1.2zM438 360h1.2v1.2h-1.2zM439 334h1.2v1.2h-1.2zM439 335h1.2v1.2h-1.2zM439 336h1.2v1.2h-1.2zM439 337h1.2v1.2h-1.2zM439 338h1.2v1.2h-1.2zM439 339h1.2v1.2h-1.2zM439 340h1.2v1.2h-1.2zM439 342h1.2v1.2h-1.2zM439 343h1.2v1.2h-1.2zM439 344h1.2v1.2h-1.2zM439 345h1.2v1.2h-1.2zM439 346h1.2v1.2h-1.2zM439 347h1.2v1.2h-1.2zM439 348h1.2v1.2h-1.2zM439 349h1.2v1.2h-1.2zM439 350h1.2v1.2h-1.2zM439 351h1.2v1.2h-1.2zM439 352h1.2v1.2h-1.2zM439 353h1.2v1.2h-1.2zM439 354h1.2v1.2h-1.2zM439 360h1.2v1.2h-1.2zM440 330h1.2v1.2h-1.2zM440 332h1.2v1.2h-1.2zM440 335h1.2v1.2h-1.2zM440 337h1.2v1.2h-1.2zM440 338h1.2v1.2h-1.2zM440 339h1.2v1.2h-1.2zM440 340h1.2v1.2h-1.2zM440 342h1.2v1.2h-1.2zM440 343h1.2v1.2h-1.2zM440 344h1.2v1.2h-1.2zM440 345h1.2v1.2h-1.2zM440 346h1.2v1.2h-1.2zM440 347h1.2v1.2h-1.2zM440 348h1.2v1.2h-1.2zM440 349h1.2v1.2h-1.2zM440 350h1.2v1.2h-1.2zM440 352h1.2v1.2h-1.2zM440 355h1.2v1.2h-1.2zM440 356h1.2v1.2h-1.2zM441 325h1.2v1.2h-1.2zM441 327h1.2v1.2h-1.2zM441 333h1.2v1.2h-1.2zM441 335h1.2v1.2h-1.2zM441 337h1.2v1.2h-1.2zM441 338h1.2v1.2h-1.2zM441 340h1.2v1.2h-1.2zM441 343h1.2v1.2h-1.2zM441 344h1.2v1.2h-1.2zM441 345h1.2v1.2h-1.2zM441 346h1.2v1.2h-1.2zM441 347h1.2v1.2h-1.2zM441 348h1.2v1.2h-1.2zM441 351h1.2v1.2h-1.2zM441 352h1.2v1.2h-1.2zM442 333h1.2v1.2h-1.2zM442 334h1.2v1.2h-1.2zM442 335h1.2v1.2h-1.2zM442 336h1.2v1.2h-1.2zM442 337h1.2v1.2h-1.2zM442 338h1.2v1.2h-1.2zM442 343h1.2v1.2h-1.2zM442 344h1.2v1.2h-1.2zM442 345h1.2v1.2h-1.2zM442 346h1.2v1.2h-1.2zM442 347h1.2v1.2h-1.2zM442 349h1.2v1.2h-1.2zM442 350h1.2v1.2h-1.2zM442 352h1.2v1.2h-1.2zM442 353h1.2v1.2h-1.2zM442 354h1.2v1.2h-1.2zM442 355h1.2v1.2h-1.2zM443 328h1.2v1.2h-1.2zM443 329h1.2v1.2h-1.2zM443 331h1.2v1.2h-1.2zM443 334h1.2v1.2h-1.2zM443 336h1.2v1.2h-1.2zM443 337h1.2v1.2h-1.2zM443 340h1.2v1.2h-1.2zM443 341h1.2v1.2h-1.2zM443 342h1.2v1.2h-1.2zM443 343h1.2v1.2h-1.2zM443 344h1.2v1.2h-1.2zM443 345h1.2v1.2h-1.2zM443 346h1.2v1.2h-1.2zM443 347h1.2v1.2h-1.2zM443 349h1.2v1.2h-1.2zM444 333h1.2v1.2h-1.2zM444 335h1.2v1.2h-1.2zM444 336h1.2v1.2h-1.2zM444 338h1.2v1.2h-1.2zM444 340h1.2v1.2h-1.2zM444 341h1.2v1.2h-1.2zM444 342h1.2v1.2h-1.2zM444 343h1.2v1.2h-1.2zM444 344h1.2v1.2h-1.2zM444 345h1.2v1.2h-1.2zM444 347h1.2v1.2h-1.2zM444 349h1.2v1.2h-1.2zM444 350h1.2v1.2h-1.2zM444 352h1.2v1.2h-1.2zM445 325h1.2v1.2h-1.2zM445 329h1.2v1.2h-1.2zM445 332h1.2v1.2h-1.2zM445 333h1.2v1.2h-1.2zM445 335h1.2v1.2h-1.2zM445 336h1.2v1.2h-1.2zM445 340h1.2v1.2h-1.2zM445 344h1.2v1.2h-1.2zM445 346h1.2v1.2h-1.2zM445 347h1.2v1.2h-1.2zM445 348h1.2v1.2h-1.2zM445 350h1.2v1.2h-1.2zM445 358h1.2v1.2h-1.2zM446 333h1.2v1.2h-1.2zM446 335h1.2v1.2h-1.2zM446 341h1.2v1.2h-1.2zM446 344h1.2v1.2h-1.2zM446 346h1.2v1.2h-1.2zM446 347h1.2v1.2h-1.2zM446 348h1.2v1.2h-1.2zM446 349h1.2v1.2h-1.2zM446 357h1.2v1.2h-1.2zM447 330h1.2v1.2h-1.2zM447 331h1.2v1.2h-1.2zM447 335h1.2v1.2h-1.2zM447 336h1.2v1.2h-1.2zM447 339h1.2v1.2h-1.2zM447 340h1.2v1.2h-1.2zM447 343h1.2v1.2h-1.2zM447 353h1.2v1.2h-1.2zM447 357h1.2v1.2h-1.2zM448 325h1.2v1.2h-1.2zM448 326h1.2v1.2h-1.2zM448 327h1.2v1.2h-1.2zM448 330h1.2v1.2h-1.2zM448 331h1.2v1.2h-1.2zM448 337h1.2v1.2h-1.2zM448 338h1.2v1.2h-1.2zM448 340h1.2v1.2h-1.2zM448 341h1.2v1.2h-1.2zM448 342h1.2v1.2h-1.2zM448 344h1.2v1.2h-1.2zM448 346h1.2v1.2h-1.2zM448 347h1.2v1.2h-1.2zM448 348h1.2v1.2h-1.2zM448 350h1.2v1.2h-1.2zM448 356h1.2v1.2h-1.2zM449 328h1.2v1.2h-1.2zM449 333h1.2v1.2h-1.2zM449 337h1.2v1.2h-1.2zM449 341h1.2v1.2h-1.2zM449 344h1.2v1.2h-1.2zM449 347h1.2v1.2h-1.2zM450 329h1.2v1.2h-1.2zM450 330h1.2v1.2h-1.2zM450 331h1.2v1.2h-1.2zM450 337h1.2v1.2h-1.2zM450 343h1.2v1.2h-1.2zM450 345h1.2v1.2h-1.2zM450 348h1.2v1.2h-1.2zM451 325h1.2v1.2h-1.2zM451 327h1.2v1.2h-1.2zM451 333h1.2v1.2h-1.2zM451 334h1.2v1.2h-1.2zM451 342h1.2v1.2h-1.2zM451 348h1.2v1.2h-1.2zM451 353h1.2v1.2h-1.2zM452 305h1.2v1.2h-1.2zM452 317h1.2v1.2h-1.2zM452 325h1.2v1.2h-1.2zM452 326h1.2v1.2h-1.2zM452 334h1.2v1.2h-1.2zM452 340h1.2v1.2h-1.2zM453 317h1.2v1.2h-1.2zM453 320h1.2v1.2h-1.2zM453 327h1.2v1.2h-1.2zM453 335h1.2v1.2h-1.2zM453 344h1.2v1.2h-1.2zM454 316h1.2v1.2h-1.2zM454 326h1.2v1.2h-1.2zM454 327h1.2v1.2h-1.2zM454 330h1.2v1.2h-1.2zM454 332h1.2v1.2h-1.2zM454 334h1.2v1.2h-1.2zM454 339h1.2v1.2h-1.2zM455 314h1.2v1.2h-1.2zM455 319h1.2v1.2h-1.2zM455 324h1.2v1.2h-1.2zM455 327h1.2v1.2h-1.2zM455 335h1.2v1.2h-1.2zM456 311h1.2v1.2h-1.2zM456 312h1.2v1.2h-1.2zM456 316h1.2v1.2h-1.2zM456 333h1.2v1.2h-1.2zM456 336h1.2v1.2h-1.2zM457 313h1.2v1.2h-1.2zM457 320h1.2v1.2h-1.2zM457 325h1.2v1.2h-1.2zM457 329h1.2v1.2h-1.2zM458 304h1.2v1.2h-1.2zM458 309h1.2v1.2h-1.2zM458 335h1.2v1.2h-1.2zM458 339h1.2v1.2h-1.2zM459 300h1.2v1.2h-1.2zM459 307h1.2v1.2h-1.2zM459 319h1.2v1.2h-1.2zM459 321h1.2v1.2h-1.2zM460 308h1.2v1.2h-1.2zM460 317h1.2v1.2h-1.2zM460 319h1.2v1.2h-1.2zM460 327h1.2v1.2h-1.2zM461 314h1.2v1.2h-1.2zM461 319h1.2v1.2h-1.2zM461 323h1.2v1.2h-1.2zM461 325h1.2v1.2h-1.2zM462 305h1.2v1.2h-1.2zM462 309h1.2v1.2h-1.2zM462 315h1.2v1.2h-1.2zM462 333h1.2v1.2h-1.2zM463 312h1.2v1.2h-1.2zM463 315h1.2v1.2h-1.2zM463 316h1.2v1.2h-1.2zM463 318h1.2v1.2h-1.2zM463 319h1.2v1.2h-1.2zM463 320h1.2v1.2h-1.2zM463 323h1.2v1.2h-1.2zM463 324h1.2v1.2h-1.2zM463 325h1.2v1.2h-1.2zM463 330h1.2v1.2h-1.2zM463 337h1.2v1.2h-1.2zM465 313h1.2v1.2h-1.2zM465 315h1.2v1.2h-1.2zM465 319h1.2v1.2h-1.2zM465 328h1.2v1.2h-1.2zM466 319h1.2v1.2h-1.2zM466 320h1.2v1.2h-1.2zM466 330h1.2v1.2h-1.2zM467 312h1.2v1.2h-1.2zM467 323h1.2v1.2h-1.2zM467 325h1.2v1.2h-1.2zM467 330h1.2v1.2h-1.2zM468 304h1.2v1.2h-1.2zM468 309h1.2v1.2h-1.2zM468 310h1.2v1.2h-1.2zM468 318h1.2v1.2h-1.2zM468 321h1.2v1.2h-1.2zM469 307h1.2v1.2h-1.2zM469 309h1.2v1.2h-1.2zM469 310h1.2v1.2h-1.2zM469 311h1.2v1.2h-1.2zM469 313h1.2v1.2h-1.2zM469 317h1.2v1.2h-1.2zM469 318h1.2v1.2h-1.2zM469 326h1.2v1.2h-1.2zM470 303h1.2v1.2h-1.2zM470 309h1.2v1.2h-1.2zM470 310h1.2v1.2h-1.2zM470 311h1.2v1.2h-1.2zM470 333h1.2v1.2h-1.2zM471 314h1.2v1.2h-1.2zM471 315h1.2v1.2h-1.2zM471 317h1.2v1.2h-1.2zM471 324h1.2v1.2h-1.2zM471 332h1.2v1.2h-1.2zM471 334h1.2v1.2h-1.2zM472 303h1.2v1.2h-1.2zM472 304h1.2v1.2h-1.2zM472 307h1.2v1.2h-1.2zM472 317h1.2v1.2h-1.2zM472 328h1.2v1.2h-1.2zM473 292h1.2v1.2h-1.2zM473 304h1.2v1.2h-1.2zM473 311h1.2v1.2h-1.2zM473 313h1.2v1.2h-1.2zM473 321h1.2v1.2h-1.2zM473 330h1.2v1.2h-1.2zM474 309h1.2v1.2h-1.2zM474 314h1.2v1.2h-1.2zM474 317h1.2v1.2h-1.2zM474 321h1.2v1.2h-1.2zM474 325h1.2v1.2h-1.2zM475 311h1.2v1.2h-1.2zM475 314h1.2v1.2h-1.2zM475 319h1.2v1.2h-1.2zM475 321h1.2v1.2h-1.2zM476 302h1.2v1.2h-1.2zM476 314h1.2v1.2h-1.2zM476 322h1.2v1.2h-1.2zM477 303h1.2v1.2h-1.2zM477 305h1.2v1.2h-1.2zM477 314h1.2v1.2h-1.2zM477 315h1.2v1.2h-1.2zM477 316h1.2v1.2h-1.2zM477 317h1.2v1.2h-1.2zM477 324h1.2v1.2h-1.2zM478 299h1.2v1.2h-1.2zM478 305h1.2v1.2h-1.2zM478 308h1.2v1.2h-1.2zM478 318h1.2v1.2h-1.2zM478 321h1.2v1.2h-1.2zM479 308h1.2v1.2h-1.2zM479 329h1.2v1.2h-1.2zM480 303h1.2v1.2h-1.2zM480 308h1.2v1.2h-1.2zM481 297h1.2v1.2h-1.2zM481 313h1.2v1.2h-1.2zM481 315h1.2v1.2h-1.2zM481 320h1.2v1.2h-1.2zM482 306h1.2v1.2h-1.2zM482 307h1.2v1.2h-1.2zM482 314h1.2v1.2h-1.2zM482 318h1.2v1.2h-1.2zM483 316h1.2v1.2h-1.2zM483 319h1.2v1.2h-1.2zM486 313h1.2v1.2h-1.2zM488 312h1.2v1.2h-1.2zM489 318h1.2v1.2h-1.2zM490 298h1.2v1.2h-1.2zM492 314h1.2v1.2h-1.2z" fill="#ff1414"/>
<rect x="391.90" y="254.60" width="140.50" height="125.30" fill="none" stroke="#111" stroke-width="1.4"/>
<line x1="448.60" y1="254.60" x2="448.60" y2="379.90" stroke="#151515" stroke-width="1.3"/>
<line x1="391.90" y1="332.10" x2="532.40" y2="332.10" stroke="#151515" stroke-width="1.3"/>
<line x1="391.90" y1="379.90" x2="391.90" y2="384.10" stroke="#000" stroke-width="1.2"/>
<line x1="387.70" y1="379.90" x2="391.90" y2="379.90" stroke="#000" stroke-width="1.2"/>
<line x1="400.91" y1="379.90" x2="400.91" y2="382.30" stroke="#000" stroke-width="0.9"/>
<line x1="389.50" y1="373.22" x2="391.90" y2="373.22" stroke="#000" stroke-width="0.9"/>
<line x1="406.18" y1="379.90" x2="406.18" y2="382.30" stroke="#000" stroke-width="0.9"/>
<line x1="389.50" y1="369.32" x2="391.90" y2="369.32" stroke="#000" stroke-width="0.9"/>
<line x1="409.92" y1="379.90" x2="409.92" y2="382.30" stroke="#000" stroke-width="0.9"/>
<line x1="389.50" y1="366.55" x2="391.90" y2="366.55" stroke="#000" stroke-width="0.9"/>
<line x1="412.82" y1="379.90" x2="412.82" y2="382.30" stroke="#000" stroke-width="0.9"/>
<line x1="389.50" y1="364.40" x2="391.90" y2="364.40" stroke="#000" stroke-width="0.9"/>
<line x1="415.19" y1="379.90" x2="415.19" y2="382.30" stroke="#000" stroke-width="0.9"/>
<line x1="389.50" y1="362.64" x2="391.90" y2="362.64" stroke="#000" stroke-width="0.9"/>
<line x1="417.19" y1="379.90" x2="417.19" y2="382.30" stroke="#000" stroke-width="0.9"/>
<line x1="389.50" y1="361.16" x2="391.90" y2="361.16" stroke="#000" stroke-width="0.9"/>
<line x1="418.93" y1="379.90" x2="418.93" y2="382.30" stroke="#000" stroke-width="0.9"/>
<line x1="389.50" y1="359.87" x2="391.90" y2="359.87" stroke="#000" stroke-width="0.9"/>
<line x1="420.46" y1="379.90" x2="420.46" y2="382.30" stroke="#000" stroke-width="0.9"/>
<line x1="389.50" y1="358.74" x2="391.90" y2="358.74" stroke="#000" stroke-width="0.9"/>
<line x1="421.83" y1="379.90" x2="421.83" y2="384.10" stroke="#000" stroke-width="1.2"/>
<line x1="387.70" y1="357.72" x2="391.90" y2="357.72" stroke="#000" stroke-width="1.2"/>
<line x1="431.85" y1="379.90" x2="431.85" y2="382.30" stroke="#000" stroke-width="0.9"/>
<line x1="389.50" y1="347.95" x2="391.90" y2="347.95" stroke="#000" stroke-width="0.9"/>
<line x1="437.71" y1="379.90" x2="437.71" y2="382.30" stroke="#000" stroke-width="0.9"/>
<line x1="389.50" y1="342.24" x2="391.90" y2="342.24" stroke="#000" stroke-width="0.9"/>
<line x1="441.87" y1="379.90" x2="441.87" y2="382.30" stroke="#000" stroke-width="0.9"/>
<line x1="389.50" y1="338.18" x2="391.90" y2="338.18" stroke="#000" stroke-width="0.9"/>
<line x1="445.10" y1="379.90" x2="445.10" y2="382.30" stroke="#000" stroke-width="0.9"/>
<line x1="389.50" y1="335.04" x2="391.90" y2="335.04" stroke="#000" stroke-width="0.9"/>
<line x1="447.74" y1="379.90" x2="447.74" y2="382.30" stroke="#000" stroke-width="0.9"/>
<line x1="389.50" y1="332.47" x2="391.90" y2="332.47" stroke="#000" stroke-width="0.9"/>
<line x1="449.97" y1="379.90" x2="449.97" y2="382.30" stroke="#000" stroke-width="0.9"/>
<line x1="389.50" y1="330.30" x2="391.90" y2="330.30" stroke="#000" stroke-width="0.9"/>
<line x1="451.90" y1="379.90" x2="451.90" y2="382.30" stroke="#000" stroke-width="0.9"/>
<line x1="389.50" y1="328.41" x2="391.90" y2="328.41" stroke="#000" stroke-width="0.9"/>
<line x1="453.60" y1="379.90" x2="453.60" y2="382.30" stroke="#000" stroke-width="0.9"/>
<line x1="389.50" y1="326.75" x2="391.90" y2="326.75" stroke="#000" stroke-width="0.9"/>
<line x1="455.12" y1="379.90" x2="455.12" y2="384.10" stroke="#000" stroke-width="1.2"/>
<line x1="387.70" y1="325.27" x2="391.90" y2="325.27" stroke="#000" stroke-width="1.2"/>
<line x1="466.76" y1="379.90" x2="466.76" y2="382.30" stroke="#000" stroke-width="0.9"/>
<line x1="389.50" y1="314.26" x2="391.90" y2="314.26" stroke="#000" stroke-width="0.9"/>
<line x1="473.56" y1="379.90" x2="473.56" y2="382.30" stroke="#000" stroke-width="0.9"/>
<line x1="389.50" y1="307.81" x2="391.90" y2="307.81" stroke="#000" stroke-width="0.9"/>
<line x1="478.39" y1="379.90" x2="478.39" y2="382.30" stroke="#000" stroke-width="0.9"/>
<line x1="389.50" y1="303.24" x2="391.90" y2="303.24" stroke="#000" stroke-width="0.9"/>
<line x1="482.13" y1="379.90" x2="482.13" y2="382.30" stroke="#000" stroke-width="0.9"/>
<line x1="389.50" y1="299.70" x2="391.90" y2="299.70" stroke="#000" stroke-width="0.9"/>
<line x1="485.19" y1="379.90" x2="485.19" y2="382.30" stroke="#000" stroke-width="0.9"/>
<line x1="389.50" y1="296.80" x2="391.90" y2="296.80" stroke="#000" stroke-width="0.9"/>
<line x1="487.78" y1="379.90" x2="487.78" y2="382.30" stroke="#000" stroke-width="0.9"/>
<line x1="389.50" y1="294.35" x2="391.90" y2="294.35" stroke="#000" stroke-width="0.9"/>
<line x1="490.02" y1="379.90" x2="490.02" y2="382.30" stroke="#000" stroke-width="0.9"/>
<line x1="389.50" y1="292.23" x2="391.90" y2="292.23" stroke="#000" stroke-width="0.9"/>
<line x1="491.99" y1="379.90" x2="491.99" y2="382.30" stroke="#000" stroke-width="0.9"/>
<line x1="389.50" y1="290.36" x2="391.90" y2="290.36" stroke="#000" stroke-width="0.9"/>
<line x1="493.76" y1="379.90" x2="493.76" y2="384.10" stroke="#000" stroke-width="1.2"/>
<line x1="387.70" y1="288.68" x2="391.90" y2="288.68" stroke="#000" stroke-width="1.2"/>
<line x1="505.39" y1="379.90" x2="505.39" y2="382.30" stroke="#000" stroke-width="0.9"/>
<line x1="389.50" y1="278.42" x2="391.90" y2="278.42" stroke="#000" stroke-width="0.9"/>
<line x1="512.20" y1="379.90" x2="512.20" y2="382.30" stroke="#000" stroke-width="0.9"/>
<line x1="389.50" y1="272.42" x2="391.90" y2="272.42" stroke="#000" stroke-width="0.9"/>
<line x1="517.02" y1="379.90" x2="517.02" y2="382.30" stroke="#000" stroke-width="0.9"/>
<line x1="389.50" y1="268.16" x2="391.90" y2="268.16" stroke="#000" stroke-width="0.9"/>
<line x1="520.77" y1="379.90" x2="520.77" y2="382.30" stroke="#000" stroke-width="0.9"/>
<line x1="389.50" y1="264.86" x2="391.90" y2="264.86" stroke="#000" stroke-width="0.9"/>
<line x1="523.83" y1="379.90" x2="523.83" y2="382.30" stroke="#000" stroke-width="0.9"/>
<line x1="389.50" y1="262.16" x2="391.90" y2="262.16" stroke="#000" stroke-width="0.9"/>
<line x1="526.41" y1="379.90" x2="526.41" y2="382.30" stroke="#000" stroke-width="0.9"/>
<line x1="389.50" y1="259.88" x2="391.90" y2="259.88" stroke="#000" stroke-width="0.9"/>
<line x1="528.66" y1="379.90" x2="528.66" y2="382.30" stroke="#000" stroke-width="0.9"/>
<line x1="389.50" y1="257.90" x2="391.90" y2="257.90" stroke="#000" stroke-width="0.9"/>
<line x1="530.63" y1="379.90" x2="530.63" y2="382.30" stroke="#000" stroke-width="0.9"/>
<line x1="389.50" y1="256.16" x2="391.90" y2="256.16" stroke="#000" stroke-width="0.9"/>
<line x1="532.40" y1="379.90" x2="532.40" y2="384.10" stroke="#000" stroke-width="1.2"/>
<line x1="387.70" y1="254.60" x2="391.90" y2="254.60" stroke="#000" stroke-width="1.2"/>
<text x="393.90" y="395.90" font-size="11.3" text-anchor="middle" fill="#111" stroke="#111" stroke-width="0.36">10<tspan font-size="7.2" dy="-3.8">0</tspan></text>
<text x="384.10" y="377.90" font-size="11.3" text-anchor="middle" fill="#111" stroke="#111" stroke-width="0.36" transform="rotate(-90 384.10 377.90)">10<tspan font-size="7.2" dy="-3.8">0</tspan></text>
<text x="421.83" y="395.90" font-size="11.3" text-anchor="middle" fill="#111" stroke="#111" stroke-width="0.36">10<tspan font-size="7.2" dy="-3.8">1</tspan></text>
<text x="384.10" y="357.72" font-size="11.3" text-anchor="middle" fill="#111" stroke="#111" stroke-width="0.36" transform="rotate(-90 384.10 357.72)">10<tspan font-size="7.2" dy="-3.8">1</tspan></text>
<text x="455.12" y="395.90" font-size="11.3" text-anchor="middle" fill="#111" stroke="#111" stroke-width="0.36">10<tspan font-size="7.2" dy="-3.8">2</tspan></text>
<text x="384.10" y="325.27" font-size="11.3" text-anchor="middle" fill="#111" stroke="#111" stroke-width="0.36" transform="rotate(-90 384.10 325.27)">10<tspan font-size="7.2" dy="-3.8">2</tspan></text>
<text x="493.76" y="395.90" font-size="11.3" text-anchor="middle" fill="#111" stroke="#111" stroke-width="0.36">10<tspan font-size="7.2" dy="-3.8">3</tspan></text>
<text x="384.10" y="288.68" font-size="11.3" text-anchor="middle" fill="#111" stroke="#111" stroke-width="0.36" transform="rotate(-90 384.10 288.68)">10<tspan font-size="7.2" dy="-3.8">3</tspan></text>
<text x="529.40" y="395.90" font-size="11.3" text-anchor="middle" fill="#111" stroke="#111" stroke-width="0.36">10<tspan font-size="7.2" dy="-3.8">4</tspan></text>
<text x="384.10" y="256.60" font-size="11.3" text-anchor="middle" fill="#111" stroke="#111" stroke-width="0.36" transform="rotate(-90 384.10 256.60)">10<tspan font-size="7.2" dy="-3.8">4</tspan></text>
<text x="456.35" y="407.70" font-size="11.8" text-anchor="middle" fill="#111" stroke="#111" stroke-width="0.36">FITC</text>
<text x="369.90" y="318.75" font-size="11.3" text-anchor="middle" transform="rotate(-90 369.90 318.75)" fill="#111" stroke="#111" stroke-width="0.36">PI</text>
<text x="647.35" y="251.00" font-size="10.5" text-anchor="middle" fill="#111" stroke="#111" stroke-width="0.36">si-EZH2 + oe-NC</text>
<path d="M586 346h1.2v1.2h-1.2zM586 356h1.2v1.2h-1.2zM587 367h1.2v1.2h-1.2zM588 353h1.2v1.2h-1.2zM588 359h1.2v1.2h-1.2zM589 357h1.2v1.2h-1.2zM590 357h1.2v1.2h-1.2zM590 360h1.2v1.2h-1.2zM590 369h1.2v1.2h-1.2zM591 348h1.2v1.2h-1.2zM592 341h1.2v1.2h-1.2zM592 344h1.2v1.2h-1.2zM592 353h1.2v1.2h-1.2zM592 367h1.2v1.2h-1.2zM593 351h1.2v1.2h-1.2zM593 357h1.2v1.2h-1.2zM593 361h1.2v1.2h-1.2zM594 342h1.2v1.2h-1.2zM594 348h1.2v1.2h-1.2zM594 351h1.2v1.2h-1.2zM594 355h1.2v1.2h-1.2zM594 357h1.2v1.2h-1.2zM594 360h1.2v1.2h-1.2zM594 361h1.2v1.2h-1.2zM594 362h1.2v1.2h-1.2zM594 370h1.2v1.2h-1.2zM595 341h1.2v1.2h-1.2zM595 342h1.2v1.2h-1.2zM595 348h1.2v1.2h-1.2zM595 353h1.2v1.2h-1.2zM595 354h1.2v1.2h-1.2zM595 357h1.2v1.2h-1.2zM595 359h1.2v1.2h-1.2zM595 364h1.2v1.2h-1.2zM596 346h1.2v1.2h-1.2zM596 347h1.2v1.2h-1.2zM596 348h1.2v1.2h-1.2zM596 350h1.2v1.2h-1.2zM596 354h1.2v1.2h-1.2zM596 361h1.2v1.2h-1.2zM596 362h1.2v1.2h-1.2zM597 335h1.2v1.2h-1.2zM597 337h1.2v1.2h-1.2zM597 342h1.2v1.2h-1.2zM597 346h1.2v1.2h-1.2zM597 351h1.2v1.2h-1.2zM597 353h1.2v1.2h-1.2zM597 361h1.2v1.2h-1.2zM597 362h1.2v1.2h-1.2zM597 364h1.2v1.2h-1.2zM597 369h1.2v1.2h-1.2zM598 338h1.2v1.2h-1.2zM598 342h1.2v1.2h-1.2zM598 346h1.2v1.2h-1.2zM598 347h1.2v1.2h-1.2zM598 348h1.2v1.2h-1.2zM598 356h1.2v1.2h-1.2zM598 357h1.2v1.2h-1.2zM598 358h1.2v1.2h-1.2zM598 365h1.2v1.2h-1.2zM598 366h1.2v1.2h-1.2zM599 338h1.2v1.2h-1.2zM599 341h1.2v1.2h-1.2zM599 343h1.2v1.2h-1.2zM599 345h1.2v1.2h-1.2zM599 351h1.2v1.2h-1.2zM599 352h1.2v1.2h-1.2zM599 354h1.2v1.2h-1.2zM599 359h1.2v1.2h-1.2zM599 362h1.2v1.2h-1.2zM599 364h1.2v1.2h-1.2zM599 367h1.2v1.2h-1.2zM599 368h1.2v1.2h-1.2zM600 340h1.2v1.2h-1.2zM600 343h1.2v1.2h-1.2zM600 344h1.2v1.2h-1.2zM600 345h1.2v1.2h-1.2zM600 346h1.2v1.2h-1.2zM600 347h1.2v1.2h-1.2zM600 348h1.2v1.2h-1.2zM600 350h1.2v1.2h-1.2zM600 351h1.2v1.2h-1.2zM600 355h1.2v1.2h-1.2zM600 358h1.2v1.2h-1.2zM600 360h1.2v1.2h-1.2zM600 362h1.2v1.2h-1.2zM600 368h1.2v1.2h-1.2zM601 329h1.2v1.2h-1.2zM601 339h1.2v1.2h-1.2zM601 340h1.2v1.2h-1.2zM601 342h1.2v1.2h-1.2zM601 346h1.2v1.2h-1.2zM601 347h1.2v1.2h-1.2zM601 348h1.2v1.2h-1.2zM601 349h1.2v1.2h-1.2zM601 350h1.2v1.2h-1.2zM601 354h1.2v1.2h-1.2zM601 355h1.2v1.2h-1.2zM601 356h1.2v1.2h-1.2zM601 361h1.2v1.2h-1.2zM601 366h1.2v1.2h-1.2zM602 335h1.2v1.2h-1.2zM602 337h1.2v1.2h-1.2zM602 339h1.2v1.2h-1.2zM602 343h1.2v1.2h-1.2zM602 344h1.2v1.2h-1.2zM602 345h1.2v1.2h-1.2zM602 346h1.2v1.2h-1.2zM602 348h1.2v1.2h-1.2zM602 352h1.2v1.2h-1.2zM602 354h1.2v1.2h-1.2zM602 355h1.2v1.2h-1.2zM602 359h1.2v1.2h-1.2zM602 360h1.2v1.2h-1.2zM602 371h1.2v1.2h-1.2zM603 332h1.2v1.2h-1.2zM603 335h1.2v1.2h-1.2zM603 338h1.2v1.2h-1.2zM603 339h1.2v1.2h-1.2zM603 340h1.2v1.2h-1.2zM603 343h1.2v1.2h-1.2zM603 346h1.2v1.2h-1.2zM603 347h1.2v1.2h-1.2zM603 348h1.2v1.2h-1.2zM603 349h1.2v1.2h-1.2zM603 351h1.2v1.2h-1.2zM603 353h1.2v1.2h-1.2zM603 354h1.2v1.2h-1.2zM603 355h1.2v1.2h-1.2zM603 357h1.2v1.2h-1.2zM603 360h1.2v1.2h-1.2zM604 335h1.2v1.2h-1.2zM604 336h1.2v1.2h-1.2zM604 337h1.2v1.2h-1.2zM604 340h1.2v1.2h-1.2zM604 343h1.2v1.2h-1.2zM604 344h1.2v1.2h-1.2zM604 345h1.2v1.2h-1.2zM604 346h1.2v1.2h-1.2zM604 347h1.2v1.2h-1.2zM604 348h1.2v1.2h-1.2zM604 350h1.2v1.2h-1.2zM604 351h1.2v1.2h-1.2zM604 352h1.2v1.2h-1.2zM604 353h1.2v1.2h-1.2zM604 355h1.2v1.2h-1.2zM604 356h1.2v1.2h-1.2zM604 363h1.2v1.2h-1.2zM605 333h1.2v1.2h-1.2zM605 336h1.2v1.2h-1.2zM605 338h1.2v1.2h-1.2zM605 339h1.2v1.2h-1.2zM605 341h1.2v1.2h-1.2zM605 342h1.2v1.2h-1.2zM605 343h1.2v1.2h-1.2zM605 345h1.2v1.2h-1.2zM605 346h1.2v1.2h-1.2zM605 347h1.2v1.2h-1.2zM605 348h1.2v1.2h-1.2zM605 349h1.2v1.2h-1.2zM605 350h1.2v1.2h-1.2zM605 352h1.2v1.2h-1.2zM605 353h1.2v1.2h-1.2zM605 354h1.2v1.2h-1.2zM605 355h1.2v1.2h-1.2zM605 356h1.2v1.2h-1.2zM605 357h1.2v1.2h-1.2zM605 359h1.2v1.2h-1.2zM605 360h1.2v1.2h-1.2zM605 361h1.2v1.2h-1.2zM606 332h1.2v1.2h-1.2zM606 337h1.2v1.2h-1.2zM606 338h1.2v1.2h-1.2zM606 339h1.2v1.2h-1.2zM606 342h1.2v1.2h-1.2zM606 343h1.2v1.2h-1.2zM606 344h1.2v1.2h-1.2zM606 345h1.2v1.2h-1.2zM606 347h1.2v1.2h-1.2zM606 348h1.2v1.2h-1.2zM606 349h1.2v1.2h-1.2zM606 350h1.2v1.2h-1.2zM606 351h1.2v1.2h-1.2zM606 353h1.2v1.2h-1.2zM606 355h1.2v1.2h-1.2zM606 356h1.2v1.2h-1.2zM606 358h1.2v1.2h-1.2zM606 359h1.2v1.2h-1.2zM606 360h1.2v1.2h-1.2zM606 362h1.2v1.2h-1.2zM607 329h1.2v1.2h-1.2zM607 333h1.2v1.2h-1.2zM607 338h1.2v1.2h-1.2zM607 339h1.2v1.2h-1.2zM607 340h1.2v1.2h-1.2zM607 341h1.2v1.2h-1.2zM607 342h1.2v1.2h-1.2zM607 343h1.2v1.2h-1.2zM607 344h1.2v1.2h-1.2zM607 345h1.2v1.2h-1.2zM607 346h1.2v1.2h-1.2zM607 347h1.2v1.2h-1.2zM607 348h1.2v1.2h-1.2zM607 349h1.2v1.2h-1.2zM607 350h1.2v1.2h-1.2zM607 352h1.2v1.2h-1.2zM607 353h1.2v1.2h-1.2zM607 354h1.2v1.2h-1.2zM607 355h1.2v1.2h-1.2zM607 358h1.2v1.2h-1.2zM607 368h1.2v1.2h-1.2zM608 326h1.2v1.2h-1.2zM608 329h1.2v1.2h-1.2zM608 335h1.2v1.2h-1.2zM608 336h1.2v1.2h-1.2zM608 339h1.2v1.2h-1.2zM608 341h1.2v1.2h-1.2zM608 342h1.2v1.2h-1.2zM608 343h1.2v1.2h-1.2zM608 344h1.2v1.2h-1.2zM608 345h1.2v1.2h-1.2zM608 346h1.2v1.2h-1.2zM608 347h1.2v1.2h-1.2zM608 348h1.2v1.2h-1.2zM608 349h1.2v1.2h-1.2zM608 350h1.2v1.2h-1.2zM608 351h1.2v1.2h-1.2zM608 353h1.2v1.2h-1.2zM608 354h1.2v1.2h-1.2zM608 355h1.2v1.2h-1.2zM608 356h1.2v1.2h-1.2zM608 357h1.2v1.2h-1.2zM608 358h1.2v1.2h-1.2zM608 359h1.2v1.2h-1.2zM608 360h1.2v1.2h-1.2zM608 362h1.2v1.2h-1.2zM608 367h1.2v1.2h-1.2zM609 333h1.2v1.2h-1.2zM609 334h1.2v1.2h-1.2zM609 337h1.2v1.2h-1.2zM609 339h1.2v1.2h-1.2zM609 340h1.2v1.2h-1.2zM609 341h1.2v1.2h-1.2zM609 342h1.2v1.2h-1.2zM609 343h1.2v1.2h-1.2zM609 344h1.2v1.2h-1.2zM609 345h1.2v1.2h-1.2zM609 346h1.2v1.2h-1.2zM609 347h1.2v1.2h-1.2zM609 348h1.2v1.2h-1.2zM609 349h1.2v1.2h-1.2zM609 350h1.2v1.2h-1.2zM609 351h1.2v1.2h-1.2zM609 352h1.2v1.2h-1.2zM609 353h1.2v1.2h-1.2zM609 354h1.2v1.2h-1.2zM609 355h1.2v1.2h-1.2zM609 358h1.2v1.2h-1.2zM609 360h1.2v1.2h-1.2zM609 362h1.2v1.2h-1.2zM610 336h1.2v1.2h-1.2zM610 337h1.2v1.2h-1.2zM610 338h1.2v1.2h-1.2zM610 339h1.2v1.2h-1.2zM610 340h1.2v1.2h-1.2zM610 342h1.2v1.2h-1.2zM610 343h1.2v1.2h-1.2zM610 344h1.2v1.2h-1.2zM610 345h1.2v1.2h-1.2zM610 346h1.2v1.2h-1.2zM610 347h1.2v1.2h-1.2zM610 348h1.2v1.2h-1.2zM610 349h1.2v1.2h-1.2zM610 350h1.2v1.2h-1.2zM610 351h1.2v1.2h-1.2zM610 352h1.2v1.2h-1.2zM610 353h1.2v1.2h-1.2zM610 355h1.2v1.2h-1.2zM610 356h1.2v1.2h-1.2zM610 357h1.2v1.2h-1.2zM610 358h1.2v1.2h-1.2zM610 359h1.2v1.2h-1.2zM610 361h1.2v1.2h-1.2zM610 362h1.2v1.2h-1.2zM610 365h1.2v1.2h-1.2zM611 329h1.2v1.2h-1.2zM611 335h1.2v1.2h-1.2zM611 337h1.2v1.2h-1.2zM611 339h1.2v1.2h-1.2zM611 340h1.2v1.2h-1.2zM611 341h1.2v1.2h-1.2zM611 342h1.2v1.2h-1.2zM611 343h1.2v1.2h-1.2zM611 344h1.2v1.2h-1.2zM611 345h1.2v1.2h-1.2zM611 346h1.2v1.2h-1.2zM611 347h1.2v1.2h-1.2zM611 348h1.2v1.2h-1.2zM611 349h1.2v1.2h-1.2zM611 351h1.2v1.2h-1.2zM611 352h1.2v1.2h-1.2zM611 353h1.2v1.2h-1.2zM611 355h1.2v1.2h-1.2zM611 356h1.2v1.2h-1.2zM611 362h1.2v1.2h-1.2zM611 367h1.2v1.2h-1.2zM612 333h1.2v1.2h-1.2zM612 334h1.2v1.2h-1.2zM612 335h1.2v1.2h-1.2zM612 337h1.2v1.2h-1.2zM612 338h1.2v1.2h-1.2zM612 339h1.2v1.2h-1.2zM612 340h1.2v1.2h-1.2zM612 341h1.2v1.2h-1.2zM612 343h1.2v1.2h-1.2zM612 344h1.2v1.2h-1.2zM612 346h1.2v1.2h-1.2zM612 347h1.2v1.2h-1.2zM612 348h1.2v1.2h-1.2zM612 349h1.2v1.2h-1.2zM612 350h1.2v1.2h-1.2zM612 351h1.2v1.2h-1.2zM612 352h1.2v1.2h-1.2zM612 353h1.2v1.2h-1.2zM612 354h1.2v1.2h-1.2zM612 355h1.2v1.2h-1.2zM612 357h1.2v1.2h-1.2zM612 359h1.2v1.2h-1.2zM612 360h1.2v1.2h-1.2zM613 333h1.2v1.2h-1.2zM613 334h1.2v1.2h-1.2zM613 335h1.2v1.2h-1.2zM613 336h1.2v1.2h-1.2zM613 337h1.2v1.2h-1.2zM613 339h1.2v1.2h-1.2zM613 341h1.2v1.2h-1.2zM613 342h1.2v1.2h-1.2zM613 343h1.2v1.2h-1.2zM613 344h1.2v1.2h-1.2zM613 345h1.2v1.2h-1.2zM613 346h1.2v1.2h-1.2zM613 347h1.2v1.2h-1.2zM613 348h1.2v1.2h-1.2zM613 349h1.2v1.2h-1.2zM613 350h1.2v1.2h-1.2zM613 351h1.2v1.2h-1.2zM613 352h1.2v1.2h-1.2zM613 353h1.2v1.2h-1.2zM613 354h1.2v1.2h-1.2zM613 355h1.2v1.2h-1.2zM613 356h1.2v1.2h-1.2zM613 357h1.2v1.2h-1.2zM613 358h1.2v1.2h-1.2zM613 359h1.2v1.2h-1.2zM613 360h1.2v1.2h-1.2zM614 331h1.2v1.2h-1.2zM614 334h1.2v1.2h-1.2zM614 335h1.2v1.2h-1.2zM614 336h1.2v1.2h-1.2zM614 337h1.2v1.2h-1.2zM614 340h1.2v1.2h-1.2zM614 341h1.2v1.2h-1.2zM614 342h1.2v1.2h-1.2zM614 344h1.2v1.2h-1.2zM614 345h1.2v1.2h-1.2zM614 346h1.2v1.2h-1.2zM614 347h1.2v1.2h-1.2zM614 348h1.2v1.2h-1.2zM614 349h1.2v1.2h-1.2zM614 350h1.2v1.2h-1.2zM614 351h1.2v1.2h-1.2zM614 352h1.2v1.2h-1.2zM614 353h1.2v1.2h-1.2zM614 354h1.2v1.2h-1.2zM614 355h1.2v1.2h-1.2zM614 356h1.2v1.2h-1.2zM614 357h1.2v1.2h-1.2zM614 358h1.2v1.2h-1.2zM614 359h1.2v1.2h-1.2zM614 360h1.2v1.2h-1.2zM614 361h1.2v1.2h-1.2zM614 362h1.2v1.2h-1.2zM615 327h1.2v1.2h-1.2zM615 336h1.2v1.2h-1.2zM615 337h1.2v1.2h-1.2zM615 338h1.2v1.2h-1.2zM615 339h1.2v1.2h-1.2zM615 340h1.2v1.2h-1.2zM615 341h1.2v1.2h-1.2zM615 342h1.2v1.2h-1.2zM615 343h1.2v1.2h-1.2zM615 344h1.2v1.2h-1.2zM615 345h1.2v1.2h-1.2zM615 346h1.2v1.2h-1.2zM615 347h1.2v1.2h-1.2zM615 348h1.2v1.2h-1.2zM615 350h1.2v1.2h-1.2zM615 351h1.2v1.2h-1.2zM615 352h1.2v1.2h-1.2zM615 353h1.2v1.2h-1.2zM615 354h1.2v1.2h-1.2zM615 355h1.2v1.2h-1.2zM615 356h1.2v1.2h-1.2zM615 357h1.2v1.2h-1.2zM615 362h1.2v1.2h-1.2zM615 366h1.2v1.2h-1.2zM616 335h1.2v1.2h-1.2zM616 338h1.2v1.2h-1.2zM616 339h1.2v1.2h-1.2zM616 343h1.2v1.2h-1.2zM616 346h1.2v1.2h-1.2zM616 347h1.2v1.2h-1.2zM616 348h1.2v1.2h-1.2zM616 349h1.2v1.2h-1.2zM616 350h1.2v1.2h-1.2zM616 351h1.2v1.2h-1.2zM616 352h1.2v1.2h-1.2zM616 353h1.2v1.2h-1.2zM616 357h1.2v1.2h-1.2zM616 358h1.2v1.2h-1.2zM616 366h1.2v1.2h-1.2zM617 335h1.2v1.2h-1.2zM617 336h1.2v1.2h-1.2zM617 337h1.2v1.2h-1.2zM617 338h1.2v1.2h-1.2zM617 339h1.2v1.2h-1.2zM617 340h1.2v1.2h-1.2zM617 341h1.2v1.2h-1.2zM617 342h1.2v1.2h-1.2zM617 343h1.2v1.2h-1.2zM617 344h1.2v1.2h-1.2zM617 346h1.2v1.2h-1.2zM617 347h1.2v1.2h-1.2zM617 348h1.2v1.2h-1.2zM617 349h1.2v1.2h-1.2zM617 350h1.2v1.2h-1.2zM617 353h1.2v1.2h-1.2zM617 358h1.2v1.2h-1.2zM618 330h1.2v1.2h-1.2zM618 332h1.2v1.2h-1.2zM618 338h1.2v1.2h-1.2zM618 339h1.2v1.2h-1.2zM618 340h1.2v1.2h-1.2zM618 341h1.2v1.2h-1.2zM618 343h1.2v1.2h-1.2zM618 344h1.2v1.2h-1.2zM618 346h1.2v1.2h-1.2zM618 349h1.2v1.2h-1.2zM618 350h1.2v1.2h-1.2zM618 352h1.2v1.2h-1.2zM618 353h1.2v1.2h-1.2zM618 354h1.2v1.2h-1.2zM618 355h1.2v1.2h-1.2zM618 360h1.2v1.2h-1.2zM619 329h1.2v1.2h-1.2zM619 331h1.2v1.2h-1.2zM619 332h1.2v1.2h-1.2zM619 334h1.2v1.2h-1.2zM619 335h1.2v1.2h-1.2zM619 337h1.2v1.2h-1.2zM619 339h1.2v1.2h-1.2zM619 340h1.2v1.2h-1.2zM619 341h1.2v1.2h-1.2zM619 342h1.2v1.2h-1.2zM619 345h1.2v1.2h-1.2zM619 346h1.2v1.2h-1.2zM619 347h1.2v1.2h-1.2zM619 349h1.2v1.2h-1.2zM619 350h1.2v1.2h-1.2zM619 353h1.2v1.2h-1.2zM619 354h1.2v1.2h-1.2zM619 362h1.2v1.2h-1.2zM620 332h1.2v1.2h-1.2zM620 333h1.2v1.2h-1.2zM620 335h1.2v1.2h-1.2zM620 340h1.2v1.2h-1.2zM620 341h1.2v1.2h-1.2zM620 342h1.2v1.2h-1.2zM620 343h1.2v1.2h-1.2zM620 344h1.2v1.2h-1.2zM620 345h1.2v1.2h-1.2zM620 346h1.2v1.2h-1.2zM620 348h1.2v1.2h-1.2zM620 349h1.2v1.2h-1.2zM620 350h1.2v1.2h-1.2zM620 351h1.2v1.2h-1.2zM620 358h1.2v1.2h-1.2zM620 363h1.2v1.2h-1.2zM621 334h1.2v1.2h-1.2zM621 335h1.2v1.2h-1.2zM621 337h1.2v1.2h-1.2zM621 338h1.2v1.2h-1.2zM621 339h1.2v1.2h-1.2zM621 340h1.2v1.2h-1.2zM621 341h1.2v1.2h-1.2zM621 342h1.2v1.2h-1.2zM621 345h1.2v1.2h-1.2zM621 346h1.2v1.2h-1.2zM621 347h1.2v1.2h-1.2zM621 348h1.2v1.2h-1.2zM621 349h1.2v1.2h-1.2zM621 350h1.2v1.2h-1.2zM621 351h1.2v1.2h-1.2zM621 353h1.2v1.2h-1.2zM621 354h1.2v1.2h-1.2zM621 355h1.2v1.2h-1.2zM621 358h1.2v1.2h-1.2zM621 360h1.2v1.2h-1.2zM622 334h1.2v1.2h-1.2zM622 335h1.2v1.2h-1.2zM622 338h1.2v1.2h-1.2zM622 340h1.2v1.2h-1.2zM622 341h1.2v1.2h-1.2zM622 343h1.2v1.2h-1.2zM622 344h1.2v1.2h-1.2zM622 345h1.2v1.2h-1.2zM622 350h1.2v1.2h-1.2zM623 329h1.2v1.2h-1.2zM623 342h1.2v1.2h-1.2zM623 344h1.2v1.2h-1.2zM623 347h1.2v1.2h-1.2zM623 357h1.2v1.2h-1.2zM624 319h1.2v1.2h-1.2zM624 330h1.2v1.2h-1.2zM624 335h1.2v1.2h-1.2zM624 336h1.2v1.2h-1.2zM624 339h1.2v1.2h-1.2zM624 340h1.2v1.2h-1.2zM624 341h1.2v1.2h-1.2zM624 342h1.2v1.2h-1.2zM624 347h1.2v1.2h-1.2zM624 352h1.2v1.2h-1.2zM624 353h1.2v1.2h-1.2zM624 358h1.2v1.2h-1.2zM625 332h1.2v1.2h-1.2zM625 335h1.2v1.2h-1.2zM625 336h1.2v1.2h-1.2zM625 341h1.2v1.2h-1.2zM625 342h1.2v1.2h-1.2zM625 343h1.2v1.2h-1.2zM625 344h1.2v1.2h-1.2zM625 346h1.2v1.2h-1.2zM625 349h1.2v1.2h-1.2zM625 355h1.2v1.2h-1.2zM625 356h1.2v1.2h-1.2zM626 325h1.2v1.2h-1.2zM626 340h1.2v1.2h-1.2zM626 351h1.2v1.2h-1.2zM626 353h1.2v1.2h-1.2zM626 354h1.2v1.2h-1.2zM626 355h1.2v1.2h-1.2zM626 358h1.2v1.2h-1.2zM627 336h1.2v1.2h-1.2zM627 339h1.2v1.2h-1.2zM627 341h1.2v1.2h-1.2zM627 344h1.2v1.2h-1.2zM627 348h1.2v1.2h-1.2zM627 355h1.2v1.2h-1.2zM628 329h1.2v1.2h-1.2zM628 345h1.2v1.2h-1.2zM628 346h1.2v1.2h-1.2zM628 349h1.2v1.2h-1.2zM628 352h1.2v1.2h-1.2zM629 325h1.2v1.2h-1.2zM629 329h1.2v1.2h-1.2zM629 337h1.2v1.2h-1.2zM629 340h1.2v1.2h-1.2zM629 342h1.2v1.2h-1.2zM629 345h1.2v1.2h-1.2zM630 330h1.2v1.2h-1.2zM630 333h1.2v1.2h-1.2zM630 337h1.2v1.2h-1.2zM630 338h1.2v1.2h-1.2zM630 339h1.2v1.2h-1.2zM630 341h1.2v1.2h-1.2zM630 344h1.2v1.2h-1.2zM630 346h1.2v1.2h-1.2zM631 319h1.2v1.2h-1.2zM631 327h1.2v1.2h-1.2zM632 321h1.2v1.2h-1.2zM632 335h1.2v1.2h-1.2zM632 338h1.2v1.2h-1.2zM632 343h1.2v1.2h-1.2zM633 335h1.2v1.2h-1.2zM633 339h1.2v1.2h-1.2zM633 347h1.2v1.2h-1.2zM633 348h1.2v1.2h-1.2zM634 324h1.2v1.2h-1.2zM634 335h1.2v1.2h-1.2zM635 295h1.2v1.2h-1.2zM635 311h1.2v1.2h-1.2zM635 312h1.2v1.2h-1.2zM635 314h1.2v1.2h-1.2zM635 318h1.2v1.2h-1.2zM635 320h1.2v1.2h-1.2zM635 328h1.2v1.2h-1.2zM635 340h1.2v1.2h-1.2zM635 344h1.2v1.2h-1.2zM635 348h1.2v1.2h-1.2zM636 314h1.2v1.2h-1.2zM636 317h1.2v1.2h-1.2zM636 318h1.2v1.2h-1.2zM636 319h1.2v1.2h-1.2zM636 325h1.2v1.2h-1.2zM636 340h1.2v1.2h-1.2zM636 352h1.2v1.2h-1.2zM637 317h1.2v1.2h-1.2zM637 334h1.2v1.2h-1.2zM638 312h1.2v1.2h-1.2zM638 317h1.2v1.2h-1.2zM638 318h1.2v1.2h-1.2zM638 321h1.2v1.2h-1.2zM638 328h1.2v1.2h-1.2zM638 332h1.2v1.2h-1.2zM638 338h1.2v1.2h-1.2zM638 339h1.2v1.2h-1.2zM639 305h1.2v1.2h-1.2zM639 306h1.2v1.2h-1.2zM639 309h1.2v1.2h-1.2zM639 311h1.2v1.2h-1.2zM639 316h1.2v1.2h-1.2zM639 318h1.2v1.2h-1.2zM639 330h1.2v1.2h-1.2zM639 342h1.2v1.2h-1.2zM640 304h1.2v1.2h-1.2zM640 320h1.2v1.2h-1.2zM640 321h1.2v1.2h-1.2zM640 322h1.2v1.2h-1.2zM640 323h1.2v1.2h-1.2zM640 330h1.2v1.2h-1.2zM641 307h1.2v1.2h-1.2zM641 308h1.2v1.2h-1.2zM641 310h1.2v1.2h-1.2zM641 314h1.2v1.2h-1.2zM641 315h1.2v1.2h-1.2zM641 318h1.2v1.2h-1.2zM642 303h1.2v1.2h-1.2zM642 311h1.2v1.2h-1.2zM642 314h1.2v1.2h-1.2zM642 322h1.2v1.2h-1.2zM642 324h1.2v1.2h-1.2zM642 326h1.2v1.2h-1.2zM642 327h1.2v1.2h-1.2zM642 335h1.2v1.2h-1.2zM642 342h1.2v1.2h-1.2zM643 306h1.2v1.2h-1.2zM643 314h1.2v1.2h-1.2zM643 315h1.2v1.2h-1.2zM643 327h1.2v1.2h-1.2zM643 328h1.2v1.2h-1.2zM643 331h1.2v1.2h-1.2zM644 295h1.2v1.2h-1.2zM644 321h1.2v1.2h-1.2zM644 326h1.2v1.2h-1.2zM644 327h1.2v1.2h-1.2zM644 338h1.2v1.2h-1.2zM645 299h1.2v1.2h-1.2zM645 309h1.2v1.2h-1.2zM645 313h1.2v1.2h-1.2zM645 319h1.2v1.2h-1.2zM645 344h1.2v1.2h-1.2zM646 290h1.2v1.2h-1.2zM646 304h1.2v1.2h-1.2zM646 310h1.2v1.2h-1.2zM646 311h1.2v1.2h-1.2zM646 314h1.2v1.2h-1.2zM646 315h1.2v1.2h-1.2zM646 321h1.2v1.2h-1.2zM646 325h1.2v1.2h-1.2zM646 329h1.2v1.2h-1.2zM646 335h1.2v1.2h-1.2zM647 306h1.2v1.2h-1.2zM647 313h1.2v1.2h-1.2zM647 320h1.2v1.2h-1.2zM647 325h1.2v1.2h-1.2zM648 310h1.2v1.2h-1.2zM648 314h1.2v1.2h-1.2zM648 315h1.2v1.2h-1.2zM648 319h1.2v1.2h-1.2zM648 341h1.2v1.2h-1.2zM648 342h1.2v1.2h-1.2zM649 300h1.2v1.2h-1.2zM649 303h1.2v1.2h-1.2zM649 308h1.2v1.2h-1.2zM649 309h1.2v1.2h-1.2zM649 312h1.2v1.2h-1.2zM649 313h1.2v1.2h-1.2zM649 316h1.2v1.2h-1.2zM649 317h1.2v1.2h-1.2zM649 321h1.2v1.2h-1.2zM649 322h1.2v1.2h-1.2zM649 332h1.2v1.2h-1.2zM649 337h1.2v1.2h-1.2zM650 302h1.2v1.2h-1.2zM650 311h1.2v1.2h-1.2zM650 315h1.2v1.2h-1.2zM650 320h1.2v1.2h-1.2zM650 337h1.2v1.2h-1.2zM651 305h1.2v1.2h-1.2zM651 316h1.2v1.2h-1.2zM651 324h1.2v1.2h-1.2zM651 332h1.2v1.2h-1.2zM652 300h1.2v1.2h-1.2zM652 301h1.2v1.2h-1.2zM652 305h1.2v1.2h-1.2zM652 307h1.2v1.2h-1.2zM652 309h1.2v1.2h-1.2zM652 310h1.2v1.2h-1.2zM652 313h1.2v1.2h-1.2zM652 321h1.2v1.2h-1.2zM652 331h1.2v1.2h-1.2zM653 309h1.2v1.2h-1.2zM653 312h1.2v1.2h-1.2zM653 313h1.2v1.2h-1.2zM653 314h1.2v1.2h-1.2zM653 316h1.2v1.2h-1.2zM653 322h1.2v1.2h-1.2zM653 324h1.2v1.2h-1.2zM653 326h1.2v1.2h-1.2zM653 328h1.2v1.2h-1.2zM653 330h1.2v1.2h-1.2zM653 335h1.2v1.2h-1.2zM654 303h1.2v1.2h-1.2zM654 309h1.2v1.2h-1.2zM654 312h1.2v1.2h-1.2zM654 317h1.2v1.2h-1.2zM654 324h1.2v1.2h-1.2zM655 316h1.2v1.2h-1.2zM655 318h1.2v1.2h-1.2zM655 319h1.2v1.2h-1.2zM655 320h1.2v1.2h-1.2zM655 321h1.2v1.2h-1.2zM655 325h1.2v1.2h-1.2zM656 294h1.2v1.2h-1.2zM656 306h1.2v1.2h-1.2zM656 315h1.2v1.2h-1.2zM656 317h1.2v1.2h-1.2zM656 320h1.2v1.2h-1.2zM656 322h1.2v1.2h-1.2zM656 324h1.2v1.2h-1.2zM656 326h1.2v1.2h-1.2zM657 296h1.2v1.2h-1.2zM657 297h1.2v1.2h-1.2zM657 300h1.2v1.2h-1.2zM657 301h1.2v1.2h-1.2zM657 304h1.2v1.2h-1.2zM657 306h1.2v1.2h-1.2zM657 314h1.2v1.2h-1.2zM657 328h1.2v1.2h-1.2zM657 334h1.2v1.2h-1.2zM658 298h1.2v1.2h-1.2zM658 311h1.2v1.2h-1.2zM658 313h1.2v1.2h-1.2zM658 317h1.2v1.2h-1.2zM658 322h1.2v1.2h-1.2zM659 297h1.2v1.2h-1.2zM659 299h1.2v1.2h-1.2zM659 305h1.2v1.2h-1.2zM659 308h1.2v1.2h-1.2zM659 314h1.2v1.2h-1.2zM659 315h1.2v1.2h-1.2zM659 326h1.2v1.2h-1.2zM660 307h1.2v1.2h-1.2zM660 309h1.2v1.2h-1.2zM660 320h1.2v1.2h-1.2zM660 328h1.2v1.2h-1.2zM661 305h1.2v1.2h-1.2zM661 318h1.2v1.2h-1.2zM661 331h1.2v1.2h-1.2zM662 322h1.2v1.2h-1.2zM663 303h1.2v1.2h-1.2zM663 305h1.2v1.2h-1.2zM663 318h1.2v1.2h-1.2zM663 329h1.2v1.2h-1.2zM664 309h1.2v1.2h-1.2zM664 311h1.2v1.2h-1.2zM664 312h1.2v1.2h-1.2zM664 315h1.2v1.2h-1.2zM664 320h1.2v1.2h-1.2zM664 321h1.2v1.2h-1.2zM664 322h1.2v1.2h-1.2zM664 338h1.2v1.2h-1.2zM665 310h1.2v1.2h-1.2zM666 312h1.2v1.2h-1.2zM666 314h1.2v1.2h-1.2zM666 316h1.2v1.2h-1.2zM667 303h1.2v1.2h-1.2zM667 312h1.2v1.2h-1.2zM668 316h1.2v1.2h-1.2zM669 314h1.2v1.2h-1.2zM670 298h1.2v1.2h-1.2zM670 309h1.2v1.2h-1.2zM670 310h1.2v1.2h-1.2zM670 321h1.2v1.2h-1.2zM670 327h1.2v1.2h-1.2zM671 293h1.2v1.2h-1.2zM671 301h1.2v1.2h-1.2zM672 296h1.2v1.2h-1.2zM673 295h1.2v1.2h-1.2zM673 309h1.2v1.2h-1.2zM673 319h1.2v1.2h-1.2zM674 321h1.2v1.2h-1.2zM675 298h1.2v1.2h-1.2zM675 307h1.2v1.2h-1.2zM676 299h1.2v1.2h-1.2zM676 305h1.2v1.2h-1.2zM676 308h1.2v1.2h-1.2zM679 310h1.2v1.2h-1.2zM680 307h1.2v1.2h-1.2z" fill="#ff1414"/>
<rect x="573.30" y="254.60" width="141.10" height="125.30" fill="none" stroke="#111" stroke-width="1.4"/>
<line x1="630.20" y1="254.60" x2="630.20" y2="379.90" stroke="#151515" stroke-width="1.3"/>
<line x1="573.30" y1="332.10" x2="714.40" y2="332.10" stroke="#151515" stroke-width="1.3"/>
<line x1="573.30" y1="379.90" x2="573.30" y2="384.10" stroke="#000" stroke-width="1.2"/>
<line x1="569.10" y1="379.90" x2="573.30" y2="379.90" stroke="#000" stroke-width="1.2"/>
<line x1="582.35" y1="379.90" x2="582.35" y2="382.30" stroke="#000" stroke-width="0.9"/>
<line x1="570.90" y1="373.22" x2="573.30" y2="373.22" stroke="#000" stroke-width="0.9"/>
<line x1="587.64" y1="379.90" x2="587.64" y2="382.30" stroke="#000" stroke-width="0.9"/>
<line x1="570.90" y1="369.32" x2="573.30" y2="369.32" stroke="#000" stroke-width="0.9"/>
<line x1="591.39" y1="379.90" x2="591.39" y2="382.30" stroke="#000" stroke-width="0.9"/>
<line x1="570.90" y1="366.55" x2="573.30" y2="366.55" stroke="#000" stroke-width="0.9"/>
<line x1="594.31" y1="379.90" x2="594.31" y2="382.30" stroke="#000" stroke-width="0.9"/>
<line x1="570.90" y1="364.40" x2="573.30" y2="364.40" stroke="#000" stroke-width="0.9"/>
<line x1="596.69" y1="379.90" x2="596.69" y2="382.30" stroke="#000" stroke-width="0.9"/>
<line x1="570.90" y1="362.64" x2="573.30" y2="362.64" stroke="#000" stroke-width="0.9"/>
<line x1="598.70" y1="379.90" x2="598.70" y2="382.30" stroke="#000" stroke-width="0.9"/>
<line x1="570.90" y1="361.16" x2="573.30" y2="361.16" stroke="#000" stroke-width="0.9"/>
<line x1="600.44" y1="379.90" x2="600.44" y2="382.30" stroke="#000" stroke-width="0.9"/>
<line x1="570.90" y1="359.87" x2="573.30" y2="359.87" stroke="#000" stroke-width="0.9"/>
<line x1="601.98" y1="379.90" x2="601.98" y2="382.30" stroke="#000" stroke-width="0.9"/>
<line x1="570.90" y1="358.74" x2="573.30" y2="358.74" stroke="#000" stroke-width="0.9"/>
<line x1="603.35" y1="379.90" x2="603.35" y2="384.10" stroke="#000" stroke-width="1.2"/>
<line x1="569.10" y1="357.72" x2="573.30" y2="357.72" stroke="#000" stroke-width="1.2"/>
<line x1="613.42" y1="379.90" x2="613.42" y2="382.30" stroke="#000" stroke-width="0.9"/>
<line x1="570.90" y1="347.95" x2="573.30" y2="347.95" stroke="#000" stroke-width="0.9"/>
<line x1="619.31" y1="379.90" x2="619.31" y2="382.30" stroke="#000" stroke-width="0.9"/>
<line x1="570.90" y1="342.24" x2="573.30" y2="342.24" stroke="#000" stroke-width="0.9"/>
<line x1="623.49" y1="379.90" x2="623.49" y2="382.30" stroke="#000" stroke-width="0.9"/>
<line x1="570.90" y1="338.18" x2="573.30" y2="338.18" stroke="#000" stroke-width="0.9"/>
<line x1="626.73" y1="379.90" x2="626.73" y2="382.30" stroke="#000" stroke-width="0.9"/>
<line x1="570.90" y1="335.04" x2="573.30" y2="335.04" stroke="#000" stroke-width="0.9"/>
<line x1="629.38" y1="379.90" x2="629.38" y2="382.30" stroke="#000" stroke-width="0.9"/>
<line x1="570.90" y1="332.47" x2="573.30" y2="332.47" stroke="#000" stroke-width="0.9"/>
<line x1="631.61" y1="379.90" x2="631.61" y2="382.30" stroke="#000" stroke-width="0.9"/>
<line x1="570.90" y1="330.30" x2="573.30" y2="330.30" stroke="#000" stroke-width="0.9"/>
<line x1="633.55" y1="379.90" x2="633.55" y2="382.30" stroke="#000" stroke-width="0.9"/>
<line x1="570.90" y1="328.41" x2="573.30" y2="328.41" stroke="#000" stroke-width="0.9"/>
<line x1="635.26" y1="379.90" x2="635.26" y2="382.30" stroke="#000" stroke-width="0.9"/>
<line x1="570.90" y1="326.75" x2="573.30" y2="326.75" stroke="#000" stroke-width="0.9"/>
<line x1="636.79" y1="379.90" x2="636.79" y2="384.10" stroke="#000" stroke-width="1.2"/>
<line x1="569.10" y1="325.27" x2="573.30" y2="325.27" stroke="#000" stroke-width="1.2"/>
<line x1="648.48" y1="379.90" x2="648.48" y2="382.30" stroke="#000" stroke-width="0.9"/>
<line x1="570.90" y1="314.26" x2="573.30" y2="314.26" stroke="#000" stroke-width="0.9"/>
<line x1="655.31" y1="379.90" x2="655.31" y2="382.30" stroke="#000" stroke-width="0.9"/>
<line x1="570.90" y1="307.81" x2="573.30" y2="307.81" stroke="#000" stroke-width="0.9"/>
<line x1="660.16" y1="379.90" x2="660.16" y2="382.30" stroke="#000" stroke-width="0.9"/>
<line x1="570.90" y1="303.24" x2="573.30" y2="303.24" stroke="#000" stroke-width="0.9"/>
<line x1="663.92" y1="379.90" x2="663.92" y2="382.30" stroke="#000" stroke-width="0.9"/>
<line x1="570.90" y1="299.70" x2="573.30" y2="299.70" stroke="#000" stroke-width="0.9"/>
<line x1="666.99" y1="379.90" x2="666.99" y2="382.30" stroke="#000" stroke-width="0.9"/>
<line x1="570.90" y1="296.80" x2="573.30" y2="296.80" stroke="#000" stroke-width="0.9"/>
<line x1="669.59" y1="379.90" x2="669.59" y2="382.30" stroke="#000" stroke-width="0.9"/>
<line x1="570.90" y1="294.35" x2="573.30" y2="294.35" stroke="#000" stroke-width="0.9"/>
<line x1="671.84" y1="379.90" x2="671.84" y2="382.30" stroke="#000" stroke-width="0.9"/>
<line x1="570.90" y1="292.23" x2="573.30" y2="292.23" stroke="#000" stroke-width="0.9"/>
<line x1="673.82" y1="379.90" x2="673.82" y2="382.30" stroke="#000" stroke-width="0.9"/>
<line x1="570.90" y1="290.36" x2="573.30" y2="290.36" stroke="#000" stroke-width="0.9"/>
<line x1="675.60" y1="379.90" x2="675.60" y2="384.10" stroke="#000" stroke-width="1.2"/>
<line x1="569.10" y1="288.68" x2="573.30" y2="288.68" stroke="#000" stroke-width="1.2"/>
<line x1="687.28" y1="379.90" x2="687.28" y2="382.30" stroke="#000" stroke-width="0.9"/>
<line x1="570.90" y1="278.42" x2="573.30" y2="278.42" stroke="#000" stroke-width="0.9"/>
<line x1="694.11" y1="379.90" x2="694.11" y2="382.30" stroke="#000" stroke-width="0.9"/>
<line x1="570.90" y1="272.42" x2="573.30" y2="272.42" stroke="#000" stroke-width="0.9"/>
<line x1="698.96" y1="379.90" x2="698.96" y2="382.30" stroke="#000" stroke-width="0.9"/>
<line x1="570.90" y1="268.16" x2="573.30" y2="268.16" stroke="#000" stroke-width="0.9"/>
<line x1="702.72" y1="379.90" x2="702.72" y2="382.30" stroke="#000" stroke-width="0.9"/>
<line x1="570.90" y1="264.86" x2="573.30" y2="264.86" stroke="#000" stroke-width="0.9"/>
<line x1="705.79" y1="379.90" x2="705.79" y2="382.30" stroke="#000" stroke-width="0.9"/>
<line x1="570.90" y1="262.16" x2="573.30" y2="262.16" stroke="#000" stroke-width="0.9"/>
<line x1="708.39" y1="379.90" x2="708.39" y2="382.30" stroke="#000" stroke-width="0.9"/>
<line x1="570.90" y1="259.88" x2="573.30" y2="259.88" stroke="#000" stroke-width="0.9"/>
<line x1="710.64" y1="379.90" x2="710.64" y2="382.30" stroke="#000" stroke-width="0.9"/>
<line x1="570.90" y1="257.90" x2="573.30" y2="257.90" stroke="#000" stroke-width="0.9"/>
<line x1="712.62" y1="379.90" x2="712.62" y2="382.30" stroke="#000" stroke-width="0.9"/>
<line x1="570.90" y1="256.16" x2="573.30" y2="256.16" stroke="#000" stroke-width="0.9"/>
<line x1="714.40" y1="379.90" x2="714.40" y2="384.10" stroke="#000" stroke-width="1.2"/>
<line x1="569.10" y1="254.60" x2="573.30" y2="254.60" stroke="#000" stroke-width="1.2"/>
<text x="575.30" y="395.90" font-size="11.3" text-anchor="middle" fill="#111" stroke="#111" stroke-width="0.36">10<tspan font-size="7.2" dy="-3.8">0</tspan></text>
<text x="565.50" y="377.90" font-size="11.3" text-anchor="middle" fill="#111" stroke="#111" stroke-width="0.36" transform="rotate(-90 565.50 377.90)">10<tspan font-size="7.2" dy="-3.8">0</tspan></text>
<text x="603.35" y="395.90" font-size="11.3" text-anchor="middle" fill="#111" stroke="#111" stroke-width="0.36">10<tspan font-size="7.2" dy="-3.8">1</tspan></text>
<text x="565.50" y="357.72" font-size="11.3" text-anchor="middle" fill="#111" stroke="#111" stroke-width="0.36" transform="rotate(-90 565.50 357.72)">10<tspan font-size="7.2" dy="-3.8">1</tspan></text>
<text x="636.79" y="395.90" font-size="11.3" text-anchor="middle" fill="#111" stroke="#111" stroke-width="0.36">10<tspan font-size="7.2" dy="-3.8">2</tspan></text>
<text x="565.50" y="325.27" font-size="11.3" text-anchor="middle" fill="#111" stroke="#111" stroke-width="0.36" transform="rotate(-90 565.50 325.27)">10<tspan font-size="7.2" dy="-3.8">2</tspan></text>
<text x="675.60" y="395.90" font-size="11.3" text-anchor="middle" fill="#111" stroke="#111" stroke-width="0.36">10<tspan font-size="7.2" dy="-3.8">3</tspan></text>
<text x="565.50" y="288.68" font-size="11.3" text-anchor="middle" fill="#111" stroke="#111" stroke-width="0.36" transform="rotate(-90 565.50 288.68)">10<tspan font-size="7.2" dy="-3.8">3</tspan></text>
<text x="711.40" y="395.90" font-size="11.3" text-anchor="middle" fill="#111" stroke="#111" stroke-width="0.36">10<tspan font-size="7.2" dy="-3.8">4</tspan></text>
<text x="565.50" y="256.60" font-size="11.3" text-anchor="middle" fill="#111" stroke="#111" stroke-width="0.36" transform="rotate(-90 565.50 256.60)">10<tspan font-size="7.2" dy="-3.8">4</tspan></text>
<text x="638.05" y="407.70" font-size="11.8" text-anchor="middle" fill="#111" stroke="#111" stroke-width="0.36">FITC</text>
<text x="551.30" y="318.75" font-size="11.3" text-anchor="middle" transform="rotate(-90 551.30 318.75)" fill="#111" stroke="#111" stroke-width="0.36">PI</text>
<text x="829.15" y="251.00" font-size="10.5" text-anchor="middle" fill="#111" stroke="#111" stroke-width="0.36">si-EZH2 + oe-HMGB1</text>
<path d="M769 351h1.2v1.2h-1.2zM772 340h1.2v1.2h-1.2zM774 348h1.2v1.2h-1.2zM775 342h1.2v1.2h-1.2zM775 343h1.2v1.2h-1.2zM775 351h1.2v1.2h-1.2zM775 353h1.2v1.2h-1.2zM775 365h1.2v1.2h-1.2zM776 341h1.2v1.2h-1.2zM776 349h1.2v1.2h-1.2zM776 350h1.2v1.2h-1.2zM776 366h1.2v1.2h-1.2zM776 368h1.2v1.2h-1.2zM777 340h1.2v1.2h-1.2zM777 345h1.2v1.2h-1.2zM777 346h1.2v1.2h-1.2zM777 347h1.2v1.2h-1.2zM777 351h1.2v1.2h-1.2zM777 360h1.2v1.2h-1.2zM777 363h1.2v1.2h-1.2zM777 370h1.2v1.2h-1.2zM778 340h1.2v1.2h-1.2zM778 344h1.2v1.2h-1.2zM778 350h1.2v1.2h-1.2zM778 360h1.2v1.2h-1.2zM778 362h1.2v1.2h-1.2zM778 366h1.2v1.2h-1.2zM779 339h1.2v1.2h-1.2zM779 341h1.2v1.2h-1.2zM779 346h1.2v1.2h-1.2zM779 347h1.2v1.2h-1.2zM779 348h1.2v1.2h-1.2zM779 352h1.2v1.2h-1.2zM779 353h1.2v1.2h-1.2zM779 357h1.2v1.2h-1.2zM779 358h1.2v1.2h-1.2zM779 366h1.2v1.2h-1.2zM780 349h1.2v1.2h-1.2zM780 351h1.2v1.2h-1.2zM780 354h1.2v1.2h-1.2zM780 356h1.2v1.2h-1.2zM780 357h1.2v1.2h-1.2zM780 361h1.2v1.2h-1.2zM781 336h1.2v1.2h-1.2zM781 341h1.2v1.2h-1.2zM781 344h1.2v1.2h-1.2zM781 345h1.2v1.2h-1.2zM781 346h1.2v1.2h-1.2zM781 347h1.2v1.2h-1.2zM781 351h1.2v1.2h-1.2zM781 352h1.2v1.2h-1.2zM781 358h1.2v1.2h-1.2zM781 368h1.2v1.2h-1.2zM781 372h1.2v1.2h-1.2zM782 334h1.2v1.2h-1.2zM782 336h1.2v1.2h-1.2zM782 337h1.2v1.2h-1.2zM782 339h1.2v1.2h-1.2zM782 350h1.2v1.2h-1.2zM782 355h1.2v1.2h-1.2zM782 356h1.2v1.2h-1.2zM782 357h1.2v1.2h-1.2zM782 367h1.2v1.2h-1.2zM783 343h1.2v1.2h-1.2zM783 345h1.2v1.2h-1.2zM783 346h1.2v1.2h-1.2zM783 347h1.2v1.2h-1.2zM783 349h1.2v1.2h-1.2zM783 350h1.2v1.2h-1.2zM783 351h1.2v1.2h-1.2zM783 355h1.2v1.2h-1.2zM784 334h1.2v1.2h-1.2zM784 336h1.2v1.2h-1.2zM784 341h1.2v1.2h-1.2zM784 344h1.2v1.2h-1.2zM784 345h1.2v1.2h-1.2zM784 347h1.2v1.2h-1.2zM784 349h1.2v1.2h-1.2zM784 351h1.2v1.2h-1.2zM784 352h1.2v1.2h-1.2zM784 354h1.2v1.2h-1.2zM784 355h1.2v1.2h-1.2zM784 356h1.2v1.2h-1.2zM784 357h1.2v1.2h-1.2zM784 358h1.2v1.2h-1.2zM784 360h1.2v1.2h-1.2zM784 363h1.2v1.2h-1.2zM785 328h1.2v1.2h-1.2zM785 332h1.2v1.2h-1.2zM785 333h1.2v1.2h-1.2zM785 339h1.2v1.2h-1.2zM785 344h1.2v1.2h-1.2zM785 346h1.2v1.2h-1.2zM785 347h1.2v1.2h-1.2zM785 348h1.2v1.2h-1.2zM785 351h1.2v1.2h-1.2zM785 352h1.2v1.2h-1.2zM785 356h1.2v1.2h-1.2zM785 358h1.2v1.2h-1.2zM785 360h1.2v1.2h-1.2zM785 361h1.2v1.2h-1.2zM785 367h1.2v1.2h-1.2zM786 335h1.2v1.2h-1.2zM786 337h1.2v1.2h-1.2zM786 338h1.2v1.2h-1.2zM786 341h1.2v1.2h-1.2zM786 342h1.2v1.2h-1.2zM786 344h1.2v1.2h-1.2zM786 347h1.2v1.2h-1.2zM786 350h1.2v1.2h-1.2zM786 351h1.2v1.2h-1.2zM786 354h1.2v1.2h-1.2zM786 355h1.2v1.2h-1.2zM786 357h1.2v1.2h-1.2zM786 359h1.2v1.2h-1.2zM786 361h1.2v1.2h-1.2zM787 338h1.2v1.2h-1.2zM787 339h1.2v1.2h-1.2zM787 343h1.2v1.2h-1.2zM787 344h1.2v1.2h-1.2zM787 345h1.2v1.2h-1.2zM787 347h1.2v1.2h-1.2zM787 349h1.2v1.2h-1.2zM787 350h1.2v1.2h-1.2zM787 351h1.2v1.2h-1.2zM787 352h1.2v1.2h-1.2zM787 353h1.2v1.2h-1.2zM787 354h1.2v1.2h-1.2zM787 361h1.2v1.2h-1.2zM787 362h1.2v1.2h-1.2zM787 363h1.2v1.2h-1.2zM787 365h1.2v1.2h-1.2zM787 369h1.2v1.2h-1.2zM788 336h1.2v1.2h-1.2zM788 337h1.2v1.2h-1.2zM788 340h1.2v1.2h-1.2zM788 344h1.2v1.2h-1.2zM788 346h1.2v1.2h-1.2zM788 347h1.2v1.2h-1.2zM788 348h1.2v1.2h-1.2zM788 349h1.2v1.2h-1.2zM788 350h1.2v1.2h-1.2zM788 351h1.2v1.2h-1.2zM788 353h1.2v1.2h-1.2zM788 355h1.2v1.2h-1.2zM788 360h1.2v1.2h-1.2zM788 361h1.2v1.2h-1.2zM788 362h1.2v1.2h-1.2zM788 364h1.2v1.2h-1.2zM789 329h1.2v1.2h-1.2zM789 335h1.2v1.2h-1.2zM789 338h1.2v1.2h-1.2zM789 340h1.2v1.2h-1.2zM789 342h1.2v1.2h-1.2zM789 343h1.2v1.2h-1.2zM789 344h1.2v1.2h-1.2zM789 347h1.2v1.2h-1.2zM789 348h1.2v1.2h-1.2zM789 349h1.2v1.2h-1.2zM789 350h1.2v1.2h-1.2zM789 351h1.2v1.2h-1.2zM789 353h1.2v1.2h-1.2zM789 354h1.2v1.2h-1.2zM789 355h1.2v1.2h-1.2zM789 356h1.2v1.2h-1.2zM789 359h1.2v1.2h-1.2zM789 361h1.2v1.2h-1.2zM789 363h1.2v1.2h-1.2zM790 335h1.2v1.2h-1.2zM790 337h1.2v1.2h-1.2zM790 338h1.2v1.2h-1.2zM790 339h1.2v1.2h-1.2zM790 340h1.2v1.2h-1.2zM790 342h1.2v1.2h-1.2zM790 343h1.2v1.2h-1.2zM790 344h1.2v1.2h-1.2zM790 345h1.2v1.2h-1.2zM790 346h1.2v1.2h-1.2zM790 347h1.2v1.2h-1.2zM790 348h1.2v1.2h-1.2zM790 349h1.2v1.2h-1.2zM790 350h1.2v1.2h-1.2zM790 352h1.2v1.2h-1.2zM790 353h1.2v1.2h-1.2zM790 354h1.2v1.2h-1.2zM790 355h1.2v1.2h-1.2zM790 356h1.2v1.2h-1.2zM790 358h1.2v1.2h-1.2zM790 361h1.2v1.2h-1.2zM790 363h1.2v1.2h-1.2zM790 366h1.2v1.2h-1.2zM790 372h1.2v1.2h-1.2zM791 336h1.2v1.2h-1.2zM791 337h1.2v1.2h-1.2zM791 339h1.2v1.2h-1.2zM791 340h1.2v1.2h-1.2zM791 342h1.2v1.2h-1.2zM791 344h1.2v1.2h-1.2zM791 346h1.2v1.2h-1.2zM791 347h1.2v1.2h-1.2zM791 348h1.2v1.2h-1.2zM791 349h1.2v1.2h-1.2zM791 350h1.2v1.2h-1.2zM791 352h1.2v1.2h-1.2zM791 353h1.2v1.2h-1.2zM791 354h1.2v1.2h-1.2zM791 355h1.2v1.2h-1.2zM791 358h1.2v1.2h-1.2zM791 360h1.2v1.2h-1.2zM791 361h1.2v1.2h-1.2zM791 364h1.2v1.2h-1.2zM792 328h1.2v1.2h-1.2zM792 333h1.2v1.2h-1.2zM792 337h1.2v1.2h-1.2zM792 339h1.2v1.2h-1.2zM792 342h1.2v1.2h-1.2zM792 343h1.2v1.2h-1.2zM792 344h1.2v1.2h-1.2zM792 345h1.2v1.2h-1.2zM792 346h1.2v1.2h-1.2zM792 347h1.2v1.2h-1.2zM792 348h1.2v1.2h-1.2zM792 349h1.2v1.2h-1.2zM792 350h1.2v1.2h-1.2zM792 351h1.2v1.2h-1.2zM792 352h1.2v1.2h-1.2zM792 353h1.2v1.2h-1.2zM792 355h1.2v1.2h-1.2zM792 359h1.2v1.2h-1.2zM792 362h1.2v1.2h-1.2zM792 364h1.2v1.2h-1.2zM792 365h1.2v1.2h-1.2zM792 369h1.2v1.2h-1.2zM793 330h1.2v1.2h-1.2zM793 332h1.2v1.2h-1.2zM793 334h1.2v1.2h-1.2zM793 336h1.2v1.2h-1.2zM793 337h1.2v1.2h-1.2zM793 338h1.2v1.2h-1.2zM793 339h1.2v1.2h-1.2zM793 344h1.2v1.2h-1.2zM793 345h1.2v1.2h-1.2zM793 346h1.2v1.2h-1.2zM793 347h1.2v1.2h-1.2zM793 348h1.2v1.2h-1.2zM793 349h1.2v1.2h-1.2zM793 350h1.2v1.2h-1.2zM793 351h1.2v1.2h-1.2zM793 352h1.2v1.2h-1.2zM793 354h1.2v1.2h-1.2zM793 355h1.2v1.2h-1.2zM793 356h1.2v1.2h-1.2zM793 359h1.2v1.2h-1.2zM794 328h1.2v1.2h-1.2zM794 331h1.2v1.2h-1.2zM794 332h1.2v1.2h-1.2zM794 333h1.2v1.2h-1.2zM794 335h1.2v1.2h-1.2zM794 336h1.2v1.2h-1.2zM794 338h1.2v1.2h-1.2zM794 341h1.2v1.2h-1.2zM794 342h1.2v1.2h-1.2zM794 343h1.2v1.2h-1.2zM794 345h1.2v1.2h-1.2zM794 346h1.2v1.2h-1.2zM794 347h1.2v1.2h-1.2zM794 348h1.2v1.2h-1.2zM794 350h1.2v1.2h-1.2zM794 351h1.2v1.2h-1.2zM794 352h1.2v1.2h-1.2zM794 353h1.2v1.2h-1.2zM794 354h1.2v1.2h-1.2zM794 356h1.2v1.2h-1.2zM794 357h1.2v1.2h-1.2zM794 360h1.2v1.2h-1.2zM794 364h1.2v1.2h-1.2zM794 365h1.2v1.2h-1.2zM795 334h1.2v1.2h-1.2zM795 337h1.2v1.2h-1.2zM795 338h1.2v1.2h-1.2zM795 341h1.2v1.2h-1.2zM795 342h1.2v1.2h-1.2zM795 343h1.2v1.2h-1.2zM795 344h1.2v1.2h-1.2zM795 345h1.2v1.2h-1.2zM795 346h1.2v1.2h-1.2zM795 347h1.2v1.2h-1.2zM795 348h1.2v1.2h-1.2zM795 349h1.2v1.2h-1.2zM795 350h1.2v1.2h-1.2zM795 351h1.2v1.2h-1.2zM795 352h1.2v1.2h-1.2zM795 353h1.2v1.2h-1.2zM795 356h1.2v1.2h-1.2zM795 363h1.2v1.2h-1.2zM795 365h1.2v1.2h-1.2zM796 334h1.2v1.2h-1.2zM796 335h1.2v1.2h-1.2zM796 338h1.2v1.2h-1.2zM796 339h1.2v1.2h-1.2zM796 340h1.2v1.2h-1.2zM796 341h1.2v1.2h-1.2zM796 342h1.2v1.2h-1.2zM796 343h1.2v1.2h-1.2zM796 344h1.2v1.2h-1.2zM796 345h1.2v1.2h-1.2zM796 346h1.2v1.2h-1.2zM796 347h1.2v1.2h-1.2zM796 349h1.2v1.2h-1.2zM796 350h1.2v1.2h-1.2zM796 352h1.2v1.2h-1.2zM796 353h1.2v1.2h-1.2zM796 355h1.2v1.2h-1.2zM796 357h1.2v1.2h-1.2zM796 358h1.2v1.2h-1.2zM796 359h1.2v1.2h-1.2zM796 361h1.2v1.2h-1.2zM796 363h1.2v1.2h-1.2zM796 364h1.2v1.2h-1.2zM797 327h1.2v1.2h-1.2zM797 332h1.2v1.2h-1.2zM797 336h1.2v1.2h-1.2zM797 337h1.2v1.2h-1.2zM797 338h1.2v1.2h-1.2zM797 339h1.2v1.2h-1.2zM797 340h1.2v1.2h-1.2zM797 343h1.2v1.2h-1.2zM797 344h1.2v1.2h-1.2zM797 345h1.2v1.2h-1.2zM797 346h1.2v1.2h-1.2zM797 347h1.2v1.2h-1.2zM797 348h1.2v1.2h-1.2zM797 350h1.2v1.2h-1.2zM797 351h1.2v1.2h-1.2zM797 352h1.2v1.2h-1.2zM797 353h1.2v1.2h-1.2zM797 355h1.2v1.2h-1.2zM797 356h1.2v1.2h-1.2zM797 357h1.2v1.2h-1.2zM797 358h1.2v1.2h-1.2zM797 359h1.2v1.2h-1.2zM797 362h1.2v1.2h-1.2zM798 329h1.2v1.2h-1.2zM798 333h1.2v1.2h-1.2zM798 336h1.2v1.2h-1.2zM798 338h1.2v1.2h-1.2zM798 339h1.2v1.2h-1.2zM798 340h1.2v1.2h-1.2zM798 341h1.2v1.2h-1.2zM798 342h1.2v1.2h-1.2zM798 343h1.2v1.2h-1.2zM798 344h1.2v1.2h-1.2zM798 345h1.2v1.2h-1.2zM798 347h1.2v1.2h-1.2zM798 348h1.2v1.2h-1.2zM798 349h1.2v1.2h-1.2zM798 350h1.2v1.2h-1.2zM798 351h1.2v1.2h-1.2zM798 352h1.2v1.2h-1.2zM798 353h1.2v1.2h-1.2zM798 354h1.2v1.2h-1.2zM798 356h1.2v1.2h-1.2zM798 357h1.2v1.2h-1.2zM798 360h1.2v1.2h-1.2zM798 363h1.2v1.2h-1.2zM798 365h1.2v1.2h-1.2zM799 332h1.2v1.2h-1.2zM799 336h1.2v1.2h-1.2zM799 337h1.2v1.2h-1.2zM799 340h1.2v1.2h-1.2zM799 341h1.2v1.2h-1.2zM799 342h1.2v1.2h-1.2zM799 343h1.2v1.2h-1.2zM799 344h1.2v1.2h-1.2zM799 345h1.2v1.2h-1.2zM799 346h1.2v1.2h-1.2zM799 347h1.2v1.2h-1.2zM799 348h1.2v1.2h-1.2zM799 350h1.2v1.2h-1.2zM799 351h1.2v1.2h-1.2zM799 352h1.2v1.2h-1.2zM799 353h1.2v1.2h-1.2zM799 354h1.2v1.2h-1.2zM799 355h1.2v1.2h-1.2zM799 356h1.2v1.2h-1.2zM799 357h1.2v1.2h-1.2zM799 359h1.2v1.2h-1.2zM799 360h1.2v1.2h-1.2zM800 329h1.2v1.2h-1.2zM800 330h1.2v1.2h-1.2zM800 331h1.2v1.2h-1.2zM800 334h1.2v1.2h-1.2zM800 337h1.2v1.2h-1.2zM800 338h1.2v1.2h-1.2zM800 339h1.2v1.2h-1.2zM800 340h1.2v1.2h-1.2zM800 342h1.2v1.2h-1.2zM800 343h1.2v1.2h-1.2zM800 344h1.2v1.2h-1.2zM800 345h1.2v1.2h-1.2zM800 346h1.2v1.2h-1.2zM800 347h1.2v1.2h-1.2zM800 348h1.2v1.2h-1.2zM800 349h1.2v1.2h-1.2zM800 351h1.2v1.2h-1.2zM800 352h1.2v1.2h-1.2zM800 353h1.2v1.2h-1.2zM800 354h1.2v1.2h-1.2zM800 355h1.2v1.2h-1.2zM800 356h1.2v1.2h-1.2zM800 358h1.2v1.2h-1.2zM800 364h1.2v1.2h-1.2zM800 367h1.2v1.2h-1.2zM801 331h1.2v1.2h-1.2zM801 334h1.2v1.2h-1.2zM801 337h1.2v1.2h-1.2zM801 338h1.2v1.2h-1.2zM801 339h1.2v1.2h-1.2zM801 340h1.2v1.2h-1.2zM801 341h1.2v1.2h-1.2zM801 342h1.2v1.2h-1.2zM801 344h1.2v1.2h-1.2zM801 346h1.2v1.2h-1.2zM801 347h1.2v1.2h-1.2zM801 348h1.2v1.2h-1.2zM801 350h1.2v1.2h-1.2zM801 353h1.2v1.2h-1.2zM801 354h1.2v1.2h-1.2zM801 355h1.2v1.2h-1.2zM801 358h1.2v1.2h-1.2zM801 364h1.2v1.2h-1.2zM802 338h1.2v1.2h-1.2zM802 339h1.2v1.2h-1.2zM802 340h1.2v1.2h-1.2zM802 341h1.2v1.2h-1.2zM802 342h1.2v1.2h-1.2zM802 344h1.2v1.2h-1.2zM802 345h1.2v1.2h-1.2zM802 346h1.2v1.2h-1.2zM802 348h1.2v1.2h-1.2zM802 349h1.2v1.2h-1.2zM802 350h1.2v1.2h-1.2zM802 352h1.2v1.2h-1.2zM802 353h1.2v1.2h-1.2zM802 354h1.2v1.2h-1.2zM802 357h1.2v1.2h-1.2zM802 359h1.2v1.2h-1.2zM803 322h1.2v1.2h-1.2zM803 325h1.2v1.2h-1.2zM803 335h1.2v1.2h-1.2zM803 336h1.2v1.2h-1.2zM803 340h1.2v1.2h-1.2zM803 341h1.2v1.2h-1.2zM803 343h1.2v1.2h-1.2zM803 344h1.2v1.2h-1.2zM803 346h1.2v1.2h-1.2zM803 347h1.2v1.2h-1.2zM803 348h1.2v1.2h-1.2zM803 349h1.2v1.2h-1.2zM803 350h1.2v1.2h-1.2zM803 351h1.2v1.2h-1.2zM803 352h1.2v1.2h-1.2zM803 353h1.2v1.2h-1.2zM803 357h1.2v1.2h-1.2zM803 360h1.2v1.2h-1.2zM804 332h1.2v1.2h-1.2zM804 335h1.2v1.2h-1.2zM804 340h1.2v1.2h-1.2zM804 341h1.2v1.2h-1.2zM804 342h1.2v1.2h-1.2zM804 344h1.2v1.2h-1.2zM804 345h1.2v1.2h-1.2zM804 346h1.2v1.2h-1.2zM804 347h1.2v1.2h-1.2zM804 348h1.2v1.2h-1.2zM804 350h1.2v1.2h-1.2zM804 351h1.2v1.2h-1.2zM804 352h1.2v1.2h-1.2zM804 354h1.2v1.2h-1.2zM804 357h1.2v1.2h-1.2zM804 358h1.2v1.2h-1.2zM804 364h1.2v1.2h-1.2zM805 328h1.2v1.2h-1.2zM805 330h1.2v1.2h-1.2zM805 332h1.2v1.2h-1.2zM805 334h1.2v1.2h-1.2zM805 342h1.2v1.2h-1.2zM805 343h1.2v1.2h-1.2zM805 344h1.2v1.2h-1.2zM805 345h1.2v1.2h-1.2zM805 347h1.2v1.2h-1.2zM805 348h1.2v1.2h-1.2zM805 350h1.2v1.2h-1.2zM805 351h1.2v1.2h-1.2zM805 355h1.2v1.2h-1.2zM805 356h1.2v1.2h-1.2zM805 357h1.2v1.2h-1.2zM805 358h1.2v1.2h-1.2zM805 359h1.2v1.2h-1.2zM806 329h1.2v1.2h-1.2zM806 331h1.2v1.2h-1.2zM806 337h1.2v1.2h-1.2zM806 339h1.2v1.2h-1.2zM806 340h1.2v1.2h-1.2zM806 342h1.2v1.2h-1.2zM806 343h1.2v1.2h-1.2zM806 344h1.2v1.2h-1.2zM806 346h1.2v1.2h-1.2zM806 350h1.2v1.2h-1.2zM806 353h1.2v1.2h-1.2zM807 326h1.2v1.2h-1.2zM807 331h1.2v1.2h-1.2zM807 332h1.2v1.2h-1.2zM807 336h1.2v1.2h-1.2zM807 338h1.2v1.2h-1.2zM807 340h1.2v1.2h-1.2zM807 342h1.2v1.2h-1.2zM807 344h1.2v1.2h-1.2zM807 346h1.2v1.2h-1.2zM807 347h1.2v1.2h-1.2zM807 351h1.2v1.2h-1.2zM807 354h1.2v1.2h-1.2zM807 358h1.2v1.2h-1.2zM808 332h1.2v1.2h-1.2zM808 337h1.2v1.2h-1.2zM808 339h1.2v1.2h-1.2zM808 340h1.2v1.2h-1.2zM808 341h1.2v1.2h-1.2zM808 343h1.2v1.2h-1.2zM808 344h1.2v1.2h-1.2zM808 347h1.2v1.2h-1.2zM808 349h1.2v1.2h-1.2zM808 352h1.2v1.2h-1.2zM808 357h1.2v1.2h-1.2zM809 325h1.2v1.2h-1.2zM809 331h1.2v1.2h-1.2zM809 335h1.2v1.2h-1.2zM809 337h1.2v1.2h-1.2zM809 340h1.2v1.2h-1.2zM809 341h1.2v1.2h-1.2zM809 342h1.2v1.2h-1.2zM809 344h1.2v1.2h-1.2zM809 347h1.2v1.2h-1.2zM809 348h1.2v1.2h-1.2zM809 349h1.2v1.2h-1.2zM809 354h1.2v1.2h-1.2zM809 359h1.2v1.2h-1.2zM810 328h1.2v1.2h-1.2zM810 330h1.2v1.2h-1.2zM810 334h1.2v1.2h-1.2zM810 337h1.2v1.2h-1.2zM810 340h1.2v1.2h-1.2zM810 347h1.2v1.2h-1.2zM810 348h1.2v1.2h-1.2zM810 352h1.2v1.2h-1.2zM810 353h1.2v1.2h-1.2zM811 332h1.2v1.2h-1.2zM811 336h1.2v1.2h-1.2zM811 337h1.2v1.2h-1.2zM811 338h1.2v1.2h-1.2zM811 339h1.2v1.2h-1.2zM811 343h1.2v1.2h-1.2zM811 344h1.2v1.2h-1.2zM811 346h1.2v1.2h-1.2zM811 350h1.2v1.2h-1.2zM811 351h1.2v1.2h-1.2zM811 353h1.2v1.2h-1.2zM812 323h1.2v1.2h-1.2zM812 330h1.2v1.2h-1.2zM812 332h1.2v1.2h-1.2zM812 333h1.2v1.2h-1.2zM812 342h1.2v1.2h-1.2zM812 343h1.2v1.2h-1.2zM812 346h1.2v1.2h-1.2zM812 348h1.2v1.2h-1.2zM812 350h1.2v1.2h-1.2zM812 352h1.2v1.2h-1.2zM813 335h1.2v1.2h-1.2zM813 336h1.2v1.2h-1.2zM813 340h1.2v1.2h-1.2zM813 343h1.2v1.2h-1.2zM813 344h1.2v1.2h-1.2zM813 351h1.2v1.2h-1.2zM814 333h1.2v1.2h-1.2zM814 334h1.2v1.2h-1.2zM814 335h1.2v1.2h-1.2zM814 336h1.2v1.2h-1.2zM814 338h1.2v1.2h-1.2zM814 341h1.2v1.2h-1.2zM814 348h1.2v1.2h-1.2zM815 322h1.2v1.2h-1.2zM815 326h1.2v1.2h-1.2zM815 333h1.2v1.2h-1.2zM815 340h1.2v1.2h-1.2zM815 341h1.2v1.2h-1.2zM815 349h1.2v1.2h-1.2zM815 351h1.2v1.2h-1.2zM816 337h1.2v1.2h-1.2zM816 340h1.2v1.2h-1.2zM816 345h1.2v1.2h-1.2zM816 351h1.2v1.2h-1.2zM816 360h1.2v1.2h-1.2zM817 340h1.2v1.2h-1.2zM817 343h1.2v1.2h-1.2zM818 334h1.2v1.2h-1.2zM818 338h1.2v1.2h-1.2zM818 345h1.2v1.2h-1.2zM819 317h1.2v1.2h-1.2zM819 332h1.2v1.2h-1.2zM819 342h1.2v1.2h-1.2zM820 316h1.2v1.2h-1.2zM820 338h1.2v1.2h-1.2zM820 339h1.2v1.2h-1.2zM820 342h1.2v1.2h-1.2zM820 345h1.2v1.2h-1.2zM820 347h1.2v1.2h-1.2zM821 316h1.2v1.2h-1.2zM821 333h1.2v1.2h-1.2zM821 336h1.2v1.2h-1.2zM821 337h1.2v1.2h-1.2zM821 342h1.2v1.2h-1.2zM821 348h1.2v1.2h-1.2zM822 319h1.2v1.2h-1.2zM822 328h1.2v1.2h-1.2zM822 344h1.2v1.2h-1.2zM822 349h1.2v1.2h-1.2zM823 328h1.2v1.2h-1.2zM823 330h1.2v1.2h-1.2zM823 339h1.2v1.2h-1.2zM823 347h1.2v1.2h-1.2zM824 306h1.2v1.2h-1.2zM824 313h1.2v1.2h-1.2zM824 320h1.2v1.2h-1.2zM824 324h1.2v1.2h-1.2zM824 334h1.2v1.2h-1.2zM825 325h1.2v1.2h-1.2zM825 327h1.2v1.2h-1.2zM825 332h1.2v1.2h-1.2zM825 335h1.2v1.2h-1.2zM825 345h1.2v1.2h-1.2zM826 316h1.2v1.2h-1.2zM826 328h1.2v1.2h-1.2zM826 341h1.2v1.2h-1.2zM827 300h1.2v1.2h-1.2zM827 306h1.2v1.2h-1.2zM827 314h1.2v1.2h-1.2zM827 316h1.2v1.2h-1.2zM827 320h1.2v1.2h-1.2zM827 321h1.2v1.2h-1.2zM827 327h1.2v1.2h-1.2zM827 343h1.2v1.2h-1.2zM828 312h1.2v1.2h-1.2zM828 318h1.2v1.2h-1.2zM828 322h1.2v1.2h-1.2zM828 324h1.2v1.2h-1.2zM828 339h1.2v1.2h-1.2zM828 343h1.2v1.2h-1.2zM828 347h1.2v1.2h-1.2zM829 303h1.2v1.2h-1.2zM829 310h1.2v1.2h-1.2zM829 320h1.2v1.2h-1.2zM829 322h1.2v1.2h-1.2zM829 324h1.2v1.2h-1.2zM829 325h1.2v1.2h-1.2zM829 327h1.2v1.2h-1.2zM829 329h1.2v1.2h-1.2zM829 330h1.2v1.2h-1.2zM829 333h1.2v1.2h-1.2zM829 341h1.2v1.2h-1.2zM829 342h1.2v1.2h-1.2zM829 345h1.2v1.2h-1.2zM830 300h1.2v1.2h-1.2zM830 317h1.2v1.2h-1.2zM830 319h1.2v1.2h-1.2zM830 326h1.2v1.2h-1.2zM830 329h1.2v1.2h-1.2zM830 330h1.2v1.2h-1.2zM830 331h1.2v1.2h-1.2zM830 339h1.2v1.2h-1.2zM831 306h1.2v1.2h-1.2zM831 311h1.2v1.2h-1.2zM831 315h1.2v1.2h-1.2zM831 318h1.2v1.2h-1.2zM831 324h1.2v1.2h-1.2zM831 327h1.2v1.2h-1.2zM831 329h1.2v1.2h-1.2zM831 331h1.2v1.2h-1.2zM831 333h1.2v1.2h-1.2zM832 310h1.2v1.2h-1.2zM832 311h1.2v1.2h-1.2zM832 314h1.2v1.2h-1.2zM832 317h1.2v1.2h-1.2zM832 320h1.2v1.2h-1.2zM832 322h1.2v1.2h-1.2zM832 323h1.2v1.2h-1.2zM832 331h1.2v1.2h-1.2zM832 336h1.2v1.2h-1.2zM832 342h1.2v1.2h-1.2zM832 344h1.2v1.2h-1.2zM832 348h1.2v1.2h-1.2zM833 300h1.2v1.2h-1.2zM833 303h1.2v1.2h-1.2zM833 305h1.2v1.2h-1.2zM833 316h1.2v1.2h-1.2zM833 324h1.2v1.2h-1.2zM833 341h1.2v1.2h-1.2zM834 292h1.2v1.2h-1.2zM834 305h1.2v1.2h-1.2zM834 308h1.2v1.2h-1.2zM834 318h1.2v1.2h-1.2zM834 322h1.2v1.2h-1.2zM834 325h1.2v1.2h-1.2zM834 331h1.2v1.2h-1.2zM834 333h1.2v1.2h-1.2zM834 336h1.2v1.2h-1.2zM834 348h1.2v1.2h-1.2zM835 308h1.2v1.2h-1.2zM835 309h1.2v1.2h-1.2zM835 318h1.2v1.2h-1.2zM835 319h1.2v1.2h-1.2zM835 320h1.2v1.2h-1.2zM835 323h1.2v1.2h-1.2zM835 326h1.2v1.2h-1.2zM835 333h1.2v1.2h-1.2zM835 336h1.2v1.2h-1.2zM835 342h1.2v1.2h-1.2zM835 345h1.2v1.2h-1.2zM836 304h1.2v1.2h-1.2zM836 307h1.2v1.2h-1.2zM836 311h1.2v1.2h-1.2zM836 316h1.2v1.2h-1.2zM836 318h1.2v1.2h-1.2zM836 320h1.2v1.2h-1.2zM836 325h1.2v1.2h-1.2zM836 326h1.2v1.2h-1.2zM836 328h1.2v1.2h-1.2zM836 330h1.2v1.2h-1.2zM836 331h1.2v1.2h-1.2zM836 335h1.2v1.2h-1.2zM837 303h1.2v1.2h-1.2zM837 306h1.2v1.2h-1.2zM837 309h1.2v1.2h-1.2zM837 310h1.2v1.2h-1.2zM837 311h1.2v1.2h-1.2zM837 312h1.2v1.2h-1.2zM837 313h1.2v1.2h-1.2zM837 314h1.2v1.2h-1.2zM837 315h1.2v1.2h-1.2zM837 319h1.2v1.2h-1.2zM837 322h1.2v1.2h-1.2zM837 324h1.2v1.2h-1.2zM837 327h1.2v1.2h-1.2zM837 330h1.2v1.2h-1.2zM837 335h1.2v1.2h-1.2zM837 341h1.2v1.2h-1.2zM838 298h1.2v1.2h-1.2zM838 303h1.2v1.2h-1.2zM838 314h1.2v1.2h-1.2zM838 315h1.2v1.2h-1.2zM838 316h1.2v1.2h-1.2zM838 317h1.2v1.2h-1.2zM838 319h1.2v1.2h-1.2zM838 327h1.2v1.2h-1.2zM838 331h1.2v1.2h-1.2zM838 343h1.2v1.2h-1.2zM839 290h1.2v1.2h-1.2zM839 304h1.2v1.2h-1.2zM839 307h1.2v1.2h-1.2zM839 309h1.2v1.2h-1.2zM839 315h1.2v1.2h-1.2zM839 317h1.2v1.2h-1.2zM839 318h1.2v1.2h-1.2zM839 322h1.2v1.2h-1.2zM839 323h1.2v1.2h-1.2zM840 307h1.2v1.2h-1.2zM840 308h1.2v1.2h-1.2zM840 309h1.2v1.2h-1.2zM840 315h1.2v1.2h-1.2zM840 316h1.2v1.2h-1.2zM840 317h1.2v1.2h-1.2zM840 318h1.2v1.2h-1.2zM840 319h1.2v1.2h-1.2zM840 320h1.2v1.2h-1.2zM840 321h1.2v1.2h-1.2zM840 322h1.2v1.2h-1.2zM840 327h1.2v1.2h-1.2zM840 333h1.2v1.2h-1.2zM840 335h1.2v1.2h-1.2zM841 307h1.2v1.2h-1.2zM841 308h1.2v1.2h-1.2zM841 315h1.2v1.2h-1.2zM841 316h1.2v1.2h-1.2zM841 317h1.2v1.2h-1.2zM841 320h1.2v1.2h-1.2zM841 321h1.2v1.2h-1.2zM841 322h1.2v1.2h-1.2zM841 328h1.2v1.2h-1.2zM841 330h1.2v1.2h-1.2zM841 341h1.2v1.2h-1.2zM841 343h1.2v1.2h-1.2zM842 294h1.2v1.2h-1.2zM842 302h1.2v1.2h-1.2zM842 307h1.2v1.2h-1.2zM842 308h1.2v1.2h-1.2zM842 313h1.2v1.2h-1.2zM842 314h1.2v1.2h-1.2zM842 315h1.2v1.2h-1.2zM842 322h1.2v1.2h-1.2zM842 323h1.2v1.2h-1.2zM842 325h1.2v1.2h-1.2zM842 326h1.2v1.2h-1.2zM842 327h1.2v1.2h-1.2zM842 328h1.2v1.2h-1.2zM842 333h1.2v1.2h-1.2zM843 295h1.2v1.2h-1.2zM843 297h1.2v1.2h-1.2zM843 308h1.2v1.2h-1.2zM843 315h1.2v1.2h-1.2zM843 317h1.2v1.2h-1.2zM843 319h1.2v1.2h-1.2zM843 324h1.2v1.2h-1.2zM843 327h1.2v1.2h-1.2zM843 332h1.2v1.2h-1.2zM844 305h1.2v1.2h-1.2zM844 314h1.2v1.2h-1.2zM844 316h1.2v1.2h-1.2zM844 317h1.2v1.2h-1.2zM844 318h1.2v1.2h-1.2zM844 326h1.2v1.2h-1.2zM844 329h1.2v1.2h-1.2zM844 338h1.2v1.2h-1.2zM845 303h1.2v1.2h-1.2zM845 307h1.2v1.2h-1.2zM845 311h1.2v1.2h-1.2zM845 314h1.2v1.2h-1.2zM845 316h1.2v1.2h-1.2zM845 319h1.2v1.2h-1.2zM845 320h1.2v1.2h-1.2zM845 322h1.2v1.2h-1.2zM845 323h1.2v1.2h-1.2zM845 339h1.2v1.2h-1.2zM846 306h1.2v1.2h-1.2zM846 309h1.2v1.2h-1.2zM846 312h1.2v1.2h-1.2zM846 314h1.2v1.2h-1.2zM846 316h1.2v1.2h-1.2zM846 319h1.2v1.2h-1.2zM846 321h1.2v1.2h-1.2zM846 322h1.2v1.2h-1.2zM846 324h1.2v1.2h-1.2zM846 346h1.2v1.2h-1.2zM847 301h1.2v1.2h-1.2zM847 307h1.2v1.2h-1.2zM847 317h1.2v1.2h-1.2zM847 319h1.2v1.2h-1.2zM847 321h1.2v1.2h-1.2zM847 322h1.2v1.2h-1.2zM847 325h1.2v1.2h-1.2zM847 327h1.2v1.2h-1.2zM848 307h1.2v1.2h-1.2zM848 308h1.2v1.2h-1.2zM848 311h1.2v1.2h-1.2zM848 316h1.2v1.2h-1.2zM848 319h1.2v1.2h-1.2zM848 321h1.2v1.2h-1.2zM848 326h1.2v1.2h-1.2zM848 330h1.2v1.2h-1.2zM849 294h1.2v1.2h-1.2zM849 307h1.2v1.2h-1.2zM849 312h1.2v1.2h-1.2zM849 315h1.2v1.2h-1.2zM849 316h1.2v1.2h-1.2zM849 321h1.2v1.2h-1.2zM849 324h1.2v1.2h-1.2zM849 325h1.2v1.2h-1.2zM850 306h1.2v1.2h-1.2zM850 310h1.2v1.2h-1.2zM850 315h1.2v1.2h-1.2zM850 330h1.2v1.2h-1.2zM851 304h1.2v1.2h-1.2zM851 312h1.2v1.2h-1.2zM851 313h1.2v1.2h-1.2zM851 325h1.2v1.2h-1.2zM851 328h1.2v1.2h-1.2zM851 329h1.2v1.2h-1.2zM851 333h1.2v1.2h-1.2zM852 294h1.2v1.2h-1.2zM852 305h1.2v1.2h-1.2zM852 310h1.2v1.2h-1.2zM852 311h1.2v1.2h-1.2zM852 334h1.2v1.2h-1.2zM853 297h1.2v1.2h-1.2zM853 303h1.2v1.2h-1.2zM853 326h1.2v1.2h-1.2zM853 328h1.2v1.2h-1.2zM854 304h1.2v1.2h-1.2zM854 313h1.2v1.2h-1.2zM854 320h1.2v1.2h-1.2zM854 332h1.2v1.2h-1.2zM855 310h1.2v1.2h-1.2zM855 316h1.2v1.2h-1.2zM855 320h1.2v1.2h-1.2zM856 300h1.2v1.2h-1.2zM856 316h1.2v1.2h-1.2zM856 321h1.2v1.2h-1.2zM856 326h1.2v1.2h-1.2zM857 299h1.2v1.2h-1.2zM857 313h1.2v1.2h-1.2zM857 329h1.2v1.2h-1.2zM858 301h1.2v1.2h-1.2zM858 312h1.2v1.2h-1.2zM858 313h1.2v1.2h-1.2zM858 316h1.2v1.2h-1.2zM858 320h1.2v1.2h-1.2zM858 325h1.2v1.2h-1.2zM859 297h1.2v1.2h-1.2zM859 310h1.2v1.2h-1.2zM860 320h1.2v1.2h-1.2zM863 327h1.2v1.2h-1.2zM865 299h1.2v1.2h-1.2z" fill="#ff1414"/>
<rect x="755.30" y="254.60" width="140.70" height="125.30" fill="none" stroke="#111" stroke-width="1.4"/>
<line x1="811.50" y1="254.60" x2="811.50" y2="379.90" stroke="#151515" stroke-width="1.3"/>
<line x1="755.30" y1="332.10" x2="896.00" y2="332.10" stroke="#151515" stroke-width="1.3"/>
<line x1="755.30" y1="379.90" x2="755.30" y2="384.10" stroke="#000" stroke-width="1.2"/>
<line x1="751.10" y1="379.90" x2="755.30" y2="379.90" stroke="#000" stroke-width="1.2"/>
<line x1="764.32" y1="379.90" x2="764.32" y2="382.30" stroke="#000" stroke-width="0.9"/>
<line x1="752.90" y1="373.22" x2="755.30" y2="373.22" stroke="#000" stroke-width="0.9"/>
<line x1="769.60" y1="379.90" x2="769.60" y2="382.30" stroke="#000" stroke-width="0.9"/>
<line x1="752.90" y1="369.32" x2="755.30" y2="369.32" stroke="#000" stroke-width="0.9"/>
<line x1="773.34" y1="379.90" x2="773.34" y2="382.30" stroke="#000" stroke-width="0.9"/>
<line x1="752.90" y1="366.55" x2="755.30" y2="366.55" stroke="#000" stroke-width="0.9"/>
<line x1="776.25" y1="379.90" x2="776.25" y2="382.30" stroke="#000" stroke-width="0.9"/>
<line x1="752.90" y1="364.40" x2="755.30" y2="364.40" stroke="#000" stroke-width="0.9"/>
<line x1="778.62" y1="379.90" x2="778.62" y2="382.30" stroke="#000" stroke-width="0.9"/>
<line x1="752.90" y1="362.64" x2="755.30" y2="362.64" stroke="#000" stroke-width="0.9"/>
<line x1="780.63" y1="379.90" x2="780.63" y2="382.30" stroke="#000" stroke-width="0.9"/>
<line x1="752.90" y1="361.16" x2="755.30" y2="361.16" stroke="#000" stroke-width="0.9"/>
<line x1="782.36" y1="379.90" x2="782.36" y2="382.30" stroke="#000" stroke-width="0.9"/>
<line x1="752.90" y1="359.87" x2="755.30" y2="359.87" stroke="#000" stroke-width="0.9"/>
<line x1="783.90" y1="379.90" x2="783.90" y2="382.30" stroke="#000" stroke-width="0.9"/>
<line x1="752.90" y1="358.74" x2="755.30" y2="358.74" stroke="#000" stroke-width="0.9"/>
<line x1="785.27" y1="379.90" x2="785.27" y2="384.10" stroke="#000" stroke-width="1.2"/>
<line x1="751.10" y1="357.72" x2="755.30" y2="357.72" stroke="#000" stroke-width="1.2"/>
<line x1="795.31" y1="379.90" x2="795.31" y2="382.30" stroke="#000" stroke-width="0.9"/>
<line x1="752.90" y1="347.95" x2="755.30" y2="347.95" stroke="#000" stroke-width="0.9"/>
<line x1="801.18" y1="379.90" x2="801.18" y2="382.30" stroke="#000" stroke-width="0.9"/>
<line x1="752.90" y1="342.24" x2="755.30" y2="342.24" stroke="#000" stroke-width="0.9"/>
<line x1="805.35" y1="379.90" x2="805.35" y2="382.30" stroke="#000" stroke-width="0.9"/>
<line x1="752.90" y1="338.18" x2="755.30" y2="338.18" stroke="#000" stroke-width="0.9"/>
<line x1="808.58" y1="379.90" x2="808.58" y2="382.30" stroke="#000" stroke-width="0.9"/>
<line x1="752.90" y1="335.04" x2="755.30" y2="335.04" stroke="#000" stroke-width="0.9"/>
<line x1="811.22" y1="379.90" x2="811.22" y2="382.30" stroke="#000" stroke-width="0.9"/>
<line x1="752.90" y1="332.47" x2="755.30" y2="332.47" stroke="#000" stroke-width="0.9"/>
<line x1="813.45" y1="379.90" x2="813.45" y2="382.30" stroke="#000" stroke-width="0.9"/>
<line x1="752.90" y1="330.30" x2="755.30" y2="330.30" stroke="#000" stroke-width="0.9"/>
<line x1="815.38" y1="379.90" x2="815.38" y2="382.30" stroke="#000" stroke-width="0.9"/>
<line x1="752.90" y1="328.41" x2="755.30" y2="328.41" stroke="#000" stroke-width="0.9"/>
<line x1="817.09" y1="379.90" x2="817.09" y2="382.30" stroke="#000" stroke-width="0.9"/>
<line x1="752.90" y1="326.75" x2="755.30" y2="326.75" stroke="#000" stroke-width="0.9"/>
<line x1="818.62" y1="379.90" x2="818.62" y2="384.10" stroke="#000" stroke-width="1.2"/>
<line x1="751.10" y1="325.27" x2="755.30" y2="325.27" stroke="#000" stroke-width="1.2"/>
<line x1="830.26" y1="379.90" x2="830.26" y2="382.30" stroke="#000" stroke-width="0.9"/>
<line x1="752.90" y1="314.26" x2="755.30" y2="314.26" stroke="#000" stroke-width="0.9"/>
<line x1="837.08" y1="379.90" x2="837.08" y2="382.30" stroke="#000" stroke-width="0.9"/>
<line x1="752.90" y1="307.81" x2="755.30" y2="307.81" stroke="#000" stroke-width="0.9"/>
<line x1="841.91" y1="379.90" x2="841.91" y2="382.30" stroke="#000" stroke-width="0.9"/>
<line x1="752.90" y1="303.24" x2="755.30" y2="303.24" stroke="#000" stroke-width="0.9"/>
<line x1="845.66" y1="379.90" x2="845.66" y2="382.30" stroke="#000" stroke-width="0.9"/>
<line x1="752.90" y1="299.70" x2="755.30" y2="299.70" stroke="#000" stroke-width="0.9"/>
<line x1="848.72" y1="379.90" x2="848.72" y2="382.30" stroke="#000" stroke-width="0.9"/>
<line x1="752.90" y1="296.80" x2="755.30" y2="296.80" stroke="#000" stroke-width="0.9"/>
<line x1="851.31" y1="379.90" x2="851.31" y2="382.30" stroke="#000" stroke-width="0.9"/>
<line x1="752.90" y1="294.35" x2="755.30" y2="294.35" stroke="#000" stroke-width="0.9"/>
<line x1="853.56" y1="379.90" x2="853.56" y2="382.30" stroke="#000" stroke-width="0.9"/>
<line x1="752.90" y1="292.23" x2="755.30" y2="292.23" stroke="#000" stroke-width="0.9"/>
<line x1="855.54" y1="379.90" x2="855.54" y2="382.30" stroke="#000" stroke-width="0.9"/>
<line x1="752.90" y1="290.36" x2="755.30" y2="290.36" stroke="#000" stroke-width="0.9"/>
<line x1="857.31" y1="379.90" x2="857.31" y2="384.10" stroke="#000" stroke-width="1.2"/>
<line x1="751.10" y1="288.68" x2="755.30" y2="288.68" stroke="#000" stroke-width="1.2"/>
<line x1="868.96" y1="379.90" x2="868.96" y2="382.30" stroke="#000" stroke-width="0.9"/>
<line x1="752.90" y1="278.42" x2="755.30" y2="278.42" stroke="#000" stroke-width="0.9"/>
<line x1="875.77" y1="379.90" x2="875.77" y2="382.30" stroke="#000" stroke-width="0.9"/>
<line x1="752.90" y1="272.42" x2="755.30" y2="272.42" stroke="#000" stroke-width="0.9"/>
<line x1="880.60" y1="379.90" x2="880.60" y2="382.30" stroke="#000" stroke-width="0.9"/>
<line x1="752.90" y1="268.16" x2="755.30" y2="268.16" stroke="#000" stroke-width="0.9"/>
<line x1="884.35" y1="379.90" x2="884.35" y2="382.30" stroke="#000" stroke-width="0.9"/>
<line x1="752.90" y1="264.86" x2="755.30" y2="264.86" stroke="#000" stroke-width="0.9"/>
<line x1="887.42" y1="379.90" x2="887.42" y2="382.30" stroke="#000" stroke-width="0.9"/>
<line x1="752.90" y1="262.16" x2="755.30" y2="262.16" stroke="#000" stroke-width="0.9"/>
<line x1="890.01" y1="379.90" x2="890.01" y2="382.30" stroke="#000" stroke-width="0.9"/>
<line x1="752.90" y1="259.88" x2="755.30" y2="259.88" stroke="#000" stroke-width="0.9"/>
<line x1="892.25" y1="379.90" x2="892.25" y2="382.30" stroke="#000" stroke-width="0.9"/>
<line x1="752.90" y1="257.90" x2="755.30" y2="257.90" stroke="#000" stroke-width="0.9"/>
<line x1="894.23" y1="379.90" x2="894.23" y2="382.30" stroke="#000" stroke-width="0.9"/>
<line x1="752.90" y1="256.16" x2="755.30" y2="256.16" stroke="#000" stroke-width="0.9"/>
<line x1="896.00" y1="379.90" x2="896.00" y2="384.10" stroke="#000" stroke-width="1.2"/>
<line x1="751.10" y1="254.60" x2="755.30" y2="254.60" stroke="#000" stroke-width="1.2"/>
<text x="757.30" y="395.90" font-size="11.3" text-anchor="middle" fill="#111" stroke="#111" stroke-width="0.36">10<tspan font-size="7.2" dy="-3.8">0</tspan></text>
<text x="747.50" y="377.90" font-size="11.3" text-anchor="middle" fill="#111" stroke="#111" stroke-width="0.36" transform="rotate(-90 747.50 377.90)">10<tspan font-size="7.2" dy="-3.8">0</tspan></text>
<text x="785.27" y="395.90" font-size="11.3" text-anchor="middle" fill="#111" stroke="#111" stroke-width="0.36">10<tspan font-size="7.2" dy="-3.8">1</tspan></text>
<text x="747.50" y="357.72" font-size="11.3" text-anchor="middle" fill="#111" stroke="#111" stroke-width="0.36" transform="rotate(-90 747.50 357.72)">10<tspan font-size="7.2" dy="-3.8">1</tspan></text>
<text x="818.62" y="395.90" font-size="11.3" text-anchor="middle" fill="#111" stroke="#111" stroke-width="0.36">10<tspan font-size="7.2" dy="-3.8">2</tspan></text>
<text x="747.50" y="325.27" font-size="11.3" text-anchor="middle" fill="#111" stroke="#111" stroke-width="0.36" transform="rotate(-90 747.50 325.27)">10<tspan font-size="7.2" dy="-3.8">2</tspan></text>
<text x="857.31" y="395.90" font-size="11.3" text-anchor="middle" fill="#111" stroke="#111" stroke-width="0.36">10<tspan font-size="7.2" dy="-3.8">3</tspan></text>
<text x="747.50" y="288.68" font-size="11.3" text-anchor="middle" fill="#111" stroke="#111" stroke-width="0.36" transform="rotate(-90 747.50 288.68)">10<tspan font-size="7.2" dy="-3.8">3</tspan></text>
<text x="893.00" y="395.90" font-size="11.3" text-anchor="middle" fill="#111" stroke="#111" stroke-width="0.36">10<tspan font-size="7.2" dy="-3.8">4</tspan></text>
<text x="747.50" y="256.60" font-size="11.3" text-anchor="middle" fill="#111" stroke="#111" stroke-width="0.36" transform="rotate(-90 747.50 256.60)">10<tspan font-size="7.2" dy="-3.8">4</tspan></text>
<text x="819.85" y="407.70" font-size="11.8" text-anchor="middle" fill="#111" stroke="#111" stroke-width="0.36">FITC</text>
<text x="733.30" y="318.75" font-size="11.3" text-anchor="middle" transform="rotate(-90 733.30 318.75)" fill="#111" stroke="#111" stroke-width="0.36">PI</text>
<rect x="946.40" y="206.90" width="14.60" height="7.20" fill="#000000"/>
<text x="969.70" y="214.50" font-size="10.6" text-anchor="start" fill="#111" stroke="#111" stroke-width="0.36">si-NC</text>
<rect x="946.40" y="220.60" width="14.60" height="7.20" fill="#a0a0a6"/>
<text x="969.70" y="228.20" font-size="10.6" text-anchor="start" fill="#111" stroke="#111" stroke-width="0.36">si-HMGB1</text>
<rect x="946.40" y="234.30" width="14.60" height="7.20" fill="#7e7e7e"/>
<text x="969.70" y="241.90" font-size="10.6" text-anchor="start" fill="#111" stroke="#111" stroke-width="0.36">si-EZH2 + oe-NC</text>
<rect x="946.40" y="248.00" width="14.60" height="7.20" fill="#d4d4d4"/>
<text x="969.70" y="255.60" font-size="10.6" text-anchor="start" fill="#111" stroke="#111" stroke-width="0.36">si-EZH2 + oe-HMGB1</text>
<line x1="931.00" y1="253.30" x2="936.60" y2="253.30" stroke="#000" stroke-width="1.55"/>
<text x="929.00" y="257.00" font-size="10.2" text-anchor="end" fill="#111" stroke="#111" stroke-width="0.36">30</text>
<line x1="931.00" y1="300.90" x2="936.60" y2="300.90" stroke="#000" stroke-width="1.55"/>
<text x="929.00" y="304.60" font-size="10.2" text-anchor="end" fill="#111" stroke="#111" stroke-width="0.36">20</text>
<line x1="931.00" y1="348.60" x2="936.60" y2="348.60" stroke="#000" stroke-width="1.55"/>
<text x="929.00" y="352.30" font-size="10.2" text-anchor="end" fill="#111" stroke="#111" stroke-width="0.36">10</text>
<line x1="931.00" y1="396.10" x2="936.60" y2="396.10" stroke="#000" stroke-width="1.55"/>
<text x="929.00" y="399.80" font-size="10.2" text-anchor="end" fill="#111" stroke="#111" stroke-width="0.36">0</text>
<rect x="945.00" y="278.40" width="14.20" height="117.70" fill="#000000"/>
<line x1="952.10" y1="265.80" x2="952.10" y2="278.90" stroke="#000" stroke-width="1.25"/>
<line x1="948.55" y1="265.80" x2="955.65" y2="265.80" stroke="#000" stroke-width="1.25"/>
<rect x="966.50" y="349.30" width="14.40" height="46.80" fill="#a0a0a6"/>
<rect x="966.95" y="349.75" width="13.50" height="45.90" fill="none" stroke="#939399" stroke-width="0.9"/>
<line x1="973.70" y1="344.70" x2="973.70" y2="349.80" stroke="#000" stroke-width="1.25"/>
<line x1="970.10" y1="344.70" x2="977.30" y2="344.70" stroke="#000" stroke-width="1.25"/>
<polygon points="974.00,335.00 974.59,336.19 975.90,336.38 974.95,337.31 975.18,338.62 974.00,338.00 972.82,338.62 973.05,337.31 972.10,336.38 973.41,336.19" fill="#111" stroke="#111" stroke-width="0.7" stroke-linejoin="round"/>
<rect x="988.90" y="337.50" width="14.10" height="58.60" fill="#7e7e7e"/>
<rect x="989.35" y="337.95" width="13.20" height="57.70" fill="none" stroke="#727272" stroke-width="0.9"/>
<line x1="995.95" y1="328.40" x2="995.95" y2="338.00" stroke="#000" stroke-width="1.25"/>
<line x1="992.43" y1="328.40" x2="999.48" y2="328.40" stroke="#000" stroke-width="1.25"/>
<rect x="1010.60" y="298.40" width="14.30" height="97.70" fill="#d4d4d4"/>
<rect x="1011.05" y="298.85" width="13.40" height="96.80" fill="none" stroke="#cacaca" stroke-width="0.9"/>
<line x1="1017.75" y1="285.00" x2="1017.75" y2="298.90" stroke="#000" stroke-width="1.25"/>
<line x1="1014.17" y1="285.00" x2="1021.33" y2="285.00" stroke="#000" stroke-width="1.25"/>
<text x="1018.20" y="280.90" font-size="9" text-anchor="middle" fill="#111" stroke="#111" stroke-width="0.3">#</text>
<line x1="936.60" y1="252.53" x2="936.60" y2="396.88" stroke="#000" stroke-width="1.55"/>
<line x1="935.83" y1="396.10" x2="1033.30" y2="396.10" stroke="#000" stroke-width="1.55"/>
<text x="910.60" y="330.20" font-size="10.6" text-anchor="middle" transform="rotate(-90 910.60 330.20)" fill="#111" stroke="#111" stroke-width="0.36">Apoptosis rate (%)</text>
<text x="4.50" y="445.20" font-size="17" text-anchor="start" font-weight="bold" fill="#000" stroke="#000" stroke-width="0.2">G</text>
<rect x="58.50" y="435.90" width="118.00" height="29.40" rx="1.2" fill="#f1f1f1" stroke="#111" stroke-width="1.35"/>
<rect x="58.50" y="469.40" width="118.00" height="29.00" rx="1.2" fill="#f1f1f1" stroke="#111" stroke-width="1.35"/>
<rect x="58.50" y="502.30" width="118.00" height="29.30" rx="1.2" fill="#f1f1f1" stroke="#111" stroke-width="1.35"/>
<text x="55.30" y="456.20" font-size="10.7" text-anchor="end" fill="#111" stroke="#111" stroke-width="0.36">c-caspase3</text>
<path d="M62.00 446.00L84.00 446.00L84.00 453.60L62.00 453.60Z" fill="#000" fill-opacity="1" filter="url(#bl)"/>
<ellipse cx="67.50" cy="449.99" rx="5.50" ry="4.26" fill="#000" fill-opacity="0.9" filter="url(#bl)"/>
<ellipse cx="78.50" cy="449.99" rx="5.50" ry="4.26" fill="#000" fill-opacity="0.9" filter="url(#bl)"/>
<path d="M63.10 440.00L82.90 440.00L82.90 445.00L63.10 445.00Z" fill="#000" fill-opacity="0.05" filter="url(#bl)"/>
<path d="M93.40 448.30L112.60 448.30L112.60 452.70L93.40 452.70Z" fill="#000" fill-opacity="0.6" filter="url(#bl)"/>
<ellipse cx="98.20" cy="450.61" rx="4.80" ry="2.46" fill="#000" fill-opacity="0.54" filter="url(#bl)"/>
<ellipse cx="107.80" cy="450.61" rx="4.80" ry="2.46" fill="#000" fill-opacity="0.54" filter="url(#bl)"/>
<path d="M94.36 442.30L111.64 442.30L111.64 447.30L94.36 447.30Z" fill="#000" fill-opacity="0.05" filter="url(#bl)"/>
<path d="M123.00 448.20L143.00 448.20L143.00 452.80L123.00 452.80Z" fill="#000" fill-opacity="0.85" filter="url(#bl)"/>
<ellipse cx="128.00" cy="450.62" rx="5.00" ry="2.58" fill="#000" fill-opacity="0.765" filter="url(#bl)"/>
<ellipse cx="138.00" cy="450.62" rx="5.00" ry="2.58" fill="#000" fill-opacity="0.765" filter="url(#bl)"/>
<path d="M124.00 442.20L142.00 442.20L142.00 447.20L124.00 447.20Z" fill="#000" fill-opacity="0.05" filter="url(#bl)"/>
<path d="M152.50 446.60L173.50 447.10L173.50 454.30L152.50 453.80Z" fill="#000" fill-opacity="1" filter="url(#bl)"/>
<ellipse cx="157.75" cy="450.38" rx="5.25" ry="4.03" fill="#000" fill-opacity="0.9" filter="url(#bl)"/>
<ellipse cx="168.25" cy="450.88" rx="5.25" ry="4.03" fill="#000" fill-opacity="0.9" filter="url(#bl)"/>
<path d="M153.55 440.60L172.45 441.10L172.45 446.10L153.55 445.60Z" fill="#000" fill-opacity="0.05" filter="url(#bl)"/>
<text x="55.30" y="488.80" font-size="10.7" text-anchor="end" fill="#111" stroke="#111" stroke-width="0.36">c-PARP</text>
<path d="M62.00 481.10L84.00 481.10L84.00 486.50L62.00 486.50Z" fill="#000" fill-opacity="1" filter="url(#bl)"/>
<ellipse cx="67.50" cy="483.94" rx="5.50" ry="3.02" fill="#000" fill-opacity="0.9" filter="url(#bl)"/>
<ellipse cx="78.50" cy="483.94" rx="5.50" ry="3.02" fill="#000" fill-opacity="0.9" filter="url(#bl)"/>
<path d="M63.10 475.10L82.90 475.10L82.90 480.10L63.10 480.10Z" fill="#000" fill-opacity="0.05" filter="url(#bl)"/>
<path d="M93.40 482.00L112.60 482.00L112.60 486.00L93.40 486.00Z" fill="#000" fill-opacity="0.6" filter="url(#bl)"/>
<ellipse cx="98.20" cy="484.10" rx="4.80" ry="2.24" fill="#000" fill-opacity="0.54" filter="url(#bl)"/>
<ellipse cx="107.80" cy="484.10" rx="4.80" ry="2.24" fill="#000" fill-opacity="0.54" filter="url(#bl)"/>
<path d="M94.36 476.00L111.64 476.00L111.64 481.00L94.36 481.00Z" fill="#000" fill-opacity="0.05" filter="url(#bl)"/>
<path d="M123.40 482.50L142.60 482.50L142.60 486.50L123.40 486.50Z" fill="#000" fill-opacity="0.7" filter="url(#bl)"/>
<ellipse cx="128.20" cy="484.60" rx="4.80" ry="2.24" fill="#000" fill-opacity="0.63" filter="url(#bl)"/>
<ellipse cx="137.80" cy="484.60" rx="4.80" ry="2.24" fill="#000" fill-opacity="0.63" filter="url(#bl)"/>
<path d="M124.36 476.50L141.64 476.50L141.64 481.50L124.36 481.50Z" fill="#000" fill-opacity="0.05" filter="url(#bl)"/>
<path d="M152.50 481.00L173.50 481.00L173.50 487.00L152.50 487.00Z" fill="#000" fill-opacity="1" filter="url(#bl)"/>
<ellipse cx="157.75" cy="484.15" rx="5.25" ry="3.36" fill="#000" fill-opacity="0.9" filter="url(#bl)"/>
<ellipse cx="168.25" cy="484.15" rx="5.25" ry="3.36" fill="#000" fill-opacity="0.9" filter="url(#bl)"/>
<path d="M153.55 475.00L172.45 475.00L172.45 480.00L153.55 480.00Z" fill="#000" fill-opacity="0.05" filter="url(#bl)"/>
<text x="55.30" y="522.20" font-size="10.7" text-anchor="end" fill="#111" stroke="#111" stroke-width="0.36">β-actin</text>
<path d="M62.50 514.40L83.50 514.40L83.50 520.20L62.50 520.20Z" fill="#000" fill-opacity="1" filter="url(#bl)"/>
<ellipse cx="67.75" cy="517.44" rx="5.25" ry="3.25" fill="#000" fill-opacity="0.9" filter="url(#bl)"/>
<ellipse cx="78.25" cy="517.44" rx="5.25" ry="3.25" fill="#000" fill-opacity="0.9" filter="url(#bl)"/>
<path d="M63.55 508.40L82.45 508.40L82.45 513.40L63.55 513.40Z" fill="#000" fill-opacity="0.05" filter="url(#bl)"/>
<path d="M92.50 514.60L113.50 514.60L113.50 520.40L92.50 520.40Z" fill="#000" fill-opacity="1" filter="url(#bl)"/>
<ellipse cx="97.75" cy="517.64" rx="5.25" ry="3.25" fill="#000" fill-opacity="0.9" filter="url(#bl)"/>
<ellipse cx="108.25" cy="517.64" rx="5.25" ry="3.25" fill="#000" fill-opacity="0.9" filter="url(#bl)"/>
<path d="M93.55 508.60L112.45 508.60L112.45 513.60L93.55 513.60Z" fill="#000" fill-opacity="0.05" filter="url(#bl)"/>
<path d="M122.50 514.60L143.50 514.60L143.50 520.40L122.50 520.40Z" fill="#000" fill-opacity="1" filter="url(#bl)"/>
<ellipse cx="127.75" cy="517.64" rx="5.25" ry="3.25" fill="#000" fill-opacity="0.9" filter="url(#bl)"/>
<ellipse cx="138.25" cy="517.64" rx="5.25" ry="3.25" fill="#000" fill-opacity="0.9" filter="url(#bl)"/>
<path d="M123.55 508.60L142.45 508.60L142.45 513.60L123.55 513.60Z" fill="#000" fill-opacity="0.05" filter="url(#bl)"/>
<path d="M152.50 514.30L173.50 514.30L173.50 520.30L152.50 520.30Z" fill="#000" fill-opacity="1" filter="url(#bl)"/>
<ellipse cx="157.75" cy="517.45" rx="5.25" ry="3.36" fill="#000" fill-opacity="0.9" filter="url(#bl)"/>
<ellipse cx="168.25" cy="517.45" rx="5.25" ry="3.36" fill="#000" fill-opacity="0.9" filter="url(#bl)"/>
<path d="M153.55 508.30L172.45 508.30L172.45 513.30L153.55 513.30Z" fill="#000" fill-opacity="0.05" filter="url(#bl)"/>
<text x="79.80" y="540.40" font-size="10.5" text-anchor="end" transform="rotate(-45 79.80 540.40)" fill="#111" stroke="#111" stroke-width="0.36">si-NC</text>
<text x="105.70" y="540.80" font-size="10.5" text-anchor="end" transform="rotate(-45 105.70 540.80)" fill="#111" stroke="#111" stroke-width="0.36">si-HMGB1</text>
<text x="136.50" y="540.40" font-size="10.5" text-anchor="end" transform="rotate(-45 136.50 540.40)" fill="#111" stroke="#111" stroke-width="0.36">si-EZH2 + oe-NC</text>
<text x="167.40" y="540.20" font-size="10.5" text-anchor="end" transform="rotate(-45 167.40 540.20)" fill="#111" stroke="#111" stroke-width="0.36">si-EZH2 + oe-HMGB1</text>
<rect x="252.20" y="432.40" width="15.70" height="7.30" fill="#000000"/>
<text x="275.80" y="440.60" font-size="10.6" text-anchor="start" fill="#111" stroke="#111" stroke-width="0.36">si-NC</text>
<rect x="252.20" y="446.60" width="15.70" height="7.30" fill="#a0a0a6"/>
<text x="275.80" y="454.80" font-size="10.6" text-anchor="start" fill="#111" stroke="#111" stroke-width="0.36">si-HMGB1</text>
<rect x="252.20" y="460.40" width="15.70" height="7.30" fill="#7e7e7e"/>
<text x="275.80" y="468.60" font-size="10.6" text-anchor="start" fill="#111" stroke="#111" stroke-width="0.36">si-EZH2 + oe-NC</text>
<rect x="252.20" y="474.50" width="15.70" height="7.30" fill="#d4d4d4"/>
<text x="275.80" y="482.70" font-size="10.6" text-anchor="start" fill="#111" stroke="#111" stroke-width="0.36">si-EZH2 + oe-HMGB1</text>
<line x1="231.10" y1="476.70" x2="236.70" y2="476.70" stroke="#000" stroke-width="1.55"/>
<text x="229.10" y="480.40" font-size="10.2" text-anchor="end" fill="#111" stroke="#111" stroke-width="0.36">2.0</text>
<line x1="231.10" y1="511.30" x2="236.70" y2="511.30" stroke="#000" stroke-width="1.55"/>
<text x="229.10" y="515.00" font-size="10.2" text-anchor="end" fill="#111" stroke="#111" stroke-width="0.36">1.5</text>
<line x1="231.10" y1="545.90" x2="236.70" y2="545.90" stroke="#000" stroke-width="1.55"/>
<text x="229.10" y="549.60" font-size="10.2" text-anchor="end" fill="#111" stroke="#111" stroke-width="0.36">1.0</text>
<line x1="231.10" y1="580.50" x2="236.70" y2="580.50" stroke="#000" stroke-width="1.55"/>
<text x="229.10" y="584.20" font-size="10.2" text-anchor="end" fill="#111" stroke="#111" stroke-width="0.36">0.5</text>
<line x1="231.10" y1="615.00" x2="236.70" y2="615.00" stroke="#000" stroke-width="1.55"/>
<text x="229.10" y="618.70" font-size="10.2" text-anchor="end" fill="#111" stroke="#111" stroke-width="0.36">0.0</text>
<rect x="245.20" y="517.80" width="14.90" height="97.20" fill="#000000"/>
<line x1="252.65" y1="510.60" x2="252.65" y2="518.30" stroke="#000" stroke-width="1.25"/>
<line x1="248.93" y1="510.60" x2="256.38" y2="510.60" stroke="#000" stroke-width="1.25"/>
<rect x="268.30" y="579.00" width="14.70" height="36.00" fill="#a0a0a6"/>
<rect x="268.75" y="579.45" width="13.80" height="35.10" fill="none" stroke="#939399" stroke-width="0.9"/>
<line x1="275.65" y1="576.30" x2="275.65" y2="579.50" stroke="#000" stroke-width="1.25"/>
<line x1="271.97" y1="576.30" x2="279.32" y2="576.30" stroke="#000" stroke-width="1.25"/>
<polygon points="276.00,566.20 276.59,567.39 277.90,567.58 276.95,568.51 277.18,569.82 276.00,569.20 274.82,569.82 275.05,568.51 274.10,567.58 275.41,567.39" fill="#111" stroke="#111" stroke-width="0.7" stroke-linejoin="round"/>
<rect x="291.40" y="568.20" width="14.60" height="46.80" fill="#7e7e7e"/>
<rect x="291.85" y="568.65" width="13.70" height="45.90" fill="none" stroke="#727272" stroke-width="0.9"/>
<line x1="298.70" y1="564.40" x2="298.70" y2="568.70" stroke="#000" stroke-width="1.25"/>
<line x1="295.05" y1="564.40" x2="302.35" y2="564.40" stroke="#000" stroke-width="1.25"/>
<rect x="314.30" y="537.20" width="14.80" height="77.80" fill="#d4d4d4"/>
<rect x="314.75" y="537.65" width="13.90" height="76.90" fill="none" stroke="#cacaca" stroke-width="0.9"/>
<line x1="321.70" y1="528.00" x2="321.70" y2="537.70" stroke="#000" stroke-width="1.25"/>
<line x1="318.00" y1="528.00" x2="325.40" y2="528.00" stroke="#000" stroke-width="1.25"/>
<text x="322.20" y="524.80" font-size="9" text-anchor="middle" fill="#111" stroke="#111" stroke-width="0.3">#</text>
<rect x="352.80" y="558.30" width="15.00" height="56.70" fill="#000000"/>
<line x1="360.30" y1="550.50" x2="360.30" y2="558.80" stroke="#000" stroke-width="1.25"/>
<line x1="356.55" y1="550.50" x2="364.05" y2="550.50" stroke="#000" stroke-width="1.25"/>
<rect x="375.60" y="588.40" width="15.20" height="26.60" fill="#a0a0a6"/>
<rect x="376.05" y="588.85" width="14.30" height="25.70" fill="none" stroke="#939399" stroke-width="0.9"/>
<line x1="383.20" y1="585.10" x2="383.20" y2="588.90" stroke="#000" stroke-width="1.25"/>
<line x1="379.40" y1="585.10" x2="387.00" y2="585.10" stroke="#000" stroke-width="1.25"/>
<polygon points="383.50,577.30 384.09,578.49 385.40,578.68 384.45,579.61 384.68,580.92 383.50,580.30 382.32,580.92 382.55,579.61 381.60,578.68 382.91,578.49" fill="#111" stroke="#111" stroke-width="0.7" stroke-linejoin="round"/>
<rect x="399.00" y="587.00" width="14.90" height="28.00" fill="#7e7e7e"/>
<rect x="399.45" y="587.45" width="14.00" height="27.10" fill="none" stroke="#727272" stroke-width="0.9"/>
<line x1="406.45" y1="583.50" x2="406.45" y2="587.50" stroke="#000" stroke-width="1.25"/>
<line x1="402.73" y1="583.50" x2="410.17" y2="583.50" stroke="#000" stroke-width="1.25"/>
<rect x="422.20" y="549.70" width="14.90" height="65.30" fill="#d4d4d4"/>
<rect x="422.65" y="550.15" width="14.00" height="64.40" fill="none" stroke="#cacaca" stroke-width="0.9"/>
<line x1="429.65" y1="542.80" x2="429.65" y2="550.20" stroke="#000" stroke-width="1.25"/>
<line x1="425.92" y1="542.80" x2="433.38" y2="542.80" stroke="#000" stroke-width="1.25"/>
<text x="429.50" y="538.70" font-size="9" text-anchor="middle" fill="#111" stroke="#111" stroke-width="0.3">#</text>
<line x1="236.70" y1="475.93" x2="236.70" y2="615.77" stroke="#000" stroke-width="1.55"/>
<line x1="235.92" y1="615.00" x2="445.30" y2="615.00" stroke="#000" stroke-width="1.55"/>
<line x1="286.80" y1="615.00" x2="286.80" y2="621.00" stroke="#000" stroke-width="1.55"/>
<line x1="394.40" y1="615.00" x2="394.40" y2="621.00" stroke="#000" stroke-width="1.55"/>
<text x="209.50" y="549.20" font-size="10.6" text-anchor="middle" transform="rotate(-90 209.50 549.20)" fill="#111" stroke="#111" stroke-width="0.36">Relative protein expression</text>
<text x="287.20" y="631.00" font-size="10.8" text-anchor="middle" fill="#111" stroke="#111" stroke-width="0.36">c-caspase3</text>
<text x="394.90" y="631.30" font-size="10.8" text-anchor="middle" fill="#111" stroke="#111" stroke-width="0.36">c-PARP</text>
<text x="498.50" y="444.60" font-size="17" text-anchor="start" font-weight="bold" fill="#000" stroke="#000" stroke-width="0.2">H</text>
<rect x="547.70" y="433.40" width="15.30" height="7.30" fill="#000000"/>
<text x="571.40" y="441.80" font-size="10.6" text-anchor="start" fill="#111" stroke="#111" stroke-width="0.36">si-NC</text>
<rect x="547.70" y="446.40" width="15.30" height="7.30" fill="#a0a0a6"/>
<text x="571.40" y="454.80" font-size="10.6" text-anchor="start" fill="#111" stroke="#111" stroke-width="0.36">si-HMGB1</text>
<rect x="547.70" y="460.40" width="15.30" height="7.30" fill="#7e7e7e"/>
<text x="571.40" y="468.80" font-size="10.6" text-anchor="start" fill="#111" stroke="#111" stroke-width="0.36">si-EZH2 + oe-NC</text>
<rect x="547.70" y="474.30" width="15.30" height="7.30" fill="#d4d4d4"/>
<text x="571.40" y="482.70" font-size="10.6" text-anchor="start" fill="#111" stroke="#111" stroke-width="0.36">si-EZH2 + oe-HMGB1</text>
<line x1="530.40" y1="474.10" x2="536.00" y2="474.10" stroke="#000" stroke-width="1.55"/>
<text x="528.40" y="477.80" font-size="10.2" text-anchor="end" fill="#111" stroke="#111" stroke-width="0.36">1000</text>
<line x1="530.40" y1="502.60" x2="536.00" y2="502.60" stroke="#000" stroke-width="1.55"/>
<text x="528.40" y="506.30" font-size="10.2" text-anchor="end" fill="#111" stroke="#111" stroke-width="0.36">800</text>
<line x1="530.40" y1="531.00" x2="536.00" y2="531.00" stroke="#000" stroke-width="1.55"/>
<text x="528.40" y="534.70" font-size="10.2" text-anchor="end" fill="#111" stroke="#111" stroke-width="0.36">600</text>
<line x1="530.40" y1="559.50" x2="536.00" y2="559.50" stroke="#000" stroke-width="1.55"/>
<text x="528.40" y="563.20" font-size="10.2" text-anchor="end" fill="#111" stroke="#111" stroke-width="0.36">400</text>
<line x1="530.40" y1="587.90" x2="536.00" y2="587.90" stroke="#000" stroke-width="1.55"/>
<text x="528.40" y="591.60" font-size="10.2" text-anchor="end" fill="#111" stroke="#111" stroke-width="0.36">200</text>
<line x1="530.40" y1="616.80" x2="536.00" y2="616.80" stroke="#000" stroke-width="1.55"/>
<text x="528.40" y="620.50" font-size="10.2" text-anchor="end" fill="#111" stroke="#111" stroke-width="0.36">0</text>
<rect x="544.20" y="498.50" width="14.00" height="118.30" fill="#000000"/>
<line x1="551.20" y1="494.30" x2="551.20" y2="499.00" stroke="#000" stroke-width="1.25"/>
<line x1="547.70" y1="494.30" x2="554.70" y2="494.30" stroke="#000" stroke-width="1.25"/>
<rect x="566.10" y="572.30" width="14.00" height="44.50" fill="#a0a0a6"/>
<rect x="566.55" y="572.75" width="13.10" height="43.60" fill="none" stroke="#939399" stroke-width="0.9"/>
<line x1="573.10" y1="570.50" x2="573.10" y2="572.80" stroke="#000" stroke-width="1.25"/>
<line x1="569.60" y1="570.50" x2="576.60" y2="570.50" stroke="#000" stroke-width="1.25"/>
<polygon points="572.70,561.50 573.29,562.69 574.60,562.88 573.65,563.81 573.88,565.12 572.70,564.50 571.52,565.12 571.75,563.81 570.80,562.88 572.11,562.69" fill="#111" stroke="#111" stroke-width="0.7" stroke-linejoin="round"/>
<rect x="588.50" y="556.30" width="13.70" height="60.50" fill="#7e7e7e"/>
<rect x="588.95" y="556.75" width="12.80" height="59.60" fill="none" stroke="#727272" stroke-width="0.9"/>
<line x1="595.35" y1="554.50" x2="595.35" y2="556.80" stroke="#000" stroke-width="1.25"/>
<line x1="591.92" y1="554.50" x2="598.78" y2="554.50" stroke="#000" stroke-width="1.25"/>
<rect x="610.10" y="503.00" width="13.70" height="113.80" fill="#d4d4d4"/>
<rect x="610.55" y="503.45" width="12.80" height="112.90" fill="none" stroke="#cacaca" stroke-width="0.9"/>
<line x1="616.95" y1="499.90" x2="616.95" y2="503.50" stroke="#000" stroke-width="1.25"/>
<line x1="613.53" y1="499.90" x2="620.38" y2="499.90" stroke="#000" stroke-width="1.25"/>
<text x="616.40" y="495.40" font-size="9" text-anchor="middle" fill="#111" stroke="#111" stroke-width="0.3">#</text>
<line x1="536.00" y1="473.33" x2="536.00" y2="617.57" stroke="#000" stroke-width="1.55"/>
<line x1="535.23" y1="616.80" x2="632.50" y2="616.80" stroke="#000" stroke-width="1.55"/>
<text x="502.20" y="544.60" font-size="10.7" text-anchor="middle" transform="rotate(-90 502.20 544.60)" fill="#111" stroke="#111" stroke-width="0.36">TNF-α concenreation (pg/ml)</text>
<rect x="715.7" y="432.3" width="3.3" height="11.8" fill="#000"/>
<rect x="755.90" y="433.40" width="15.40" height="7.30" fill="#000000"/>
<text x="779.70" y="441.80" font-size="10.6" text-anchor="start" fill="#111" stroke="#111" stroke-width="0.36">si-NC</text>
<rect x="755.90" y="446.40" width="15.40" height="7.30" fill="#a0a0a6"/>
<text x="779.70" y="454.80" font-size="10.6" text-anchor="start" fill="#111" stroke="#111" stroke-width="0.36">si-HMGB1</text>
<rect x="755.90" y="460.40" width="15.40" height="7.30" fill="#7e7e7e"/>
<text x="779.70" y="468.80" font-size="10.6" text-anchor="start" fill="#111" stroke="#111" stroke-width="0.36">si-EZH2 + oe-NC</text>
<rect x="755.90" y="474.30" width="15.40" height="7.30" fill="#d4d4d4"/>
<text x="779.70" y="482.70" font-size="10.6" text-anchor="start" fill="#111" stroke="#111" stroke-width="0.36">si-EZH2 + oe-HMGB1</text>
<line x1="739.80" y1="475.50" x2="745.40" y2="475.50" stroke="#000" stroke-width="1.55"/>
<text x="737.80" y="479.20" font-size="10.2" text-anchor="end" fill="#111" stroke="#111" stroke-width="0.36">1000</text>
<line x1="739.80" y1="504.10" x2="745.40" y2="504.10" stroke="#000" stroke-width="1.55"/>
<text x="737.80" y="507.80" font-size="10.2" text-anchor="end" fill="#111" stroke="#111" stroke-width="0.36">800</text>
<line x1="739.80" y1="532.00" x2="745.40" y2="532.00" stroke="#000" stroke-width="1.55"/>
<text x="737.80" y="535.70" font-size="10.2" text-anchor="end" fill="#111" stroke="#111" stroke-width="0.36">600</text>
<line x1="739.80" y1="559.80" x2="745.40" y2="559.80" stroke="#000" stroke-width="1.55"/>
<text x="737.80" y="563.50" font-size="10.2" text-anchor="end" fill="#111" stroke="#111" stroke-width="0.36">400</text>
<line x1="739.80" y1="587.90" x2="745.40" y2="587.90" stroke="#000" stroke-width="1.55"/>
<text x="737.80" y="591.60" font-size="10.2" text-anchor="end" fill="#111" stroke="#111" stroke-width="0.36">200</text>
<line x1="739.80" y1="616.30" x2="745.40" y2="616.30" stroke="#000" stroke-width="1.55"/>
<text x="737.80" y="620.00" font-size="10.2" text-anchor="end" fill="#111" stroke="#111" stroke-width="0.36">0</text>
<rect x="754.20" y="506.90" width="14.00" height="109.40" fill="#000000"/>
<line x1="761.20" y1="501.00" x2="761.20" y2="507.40" stroke="#000" stroke-width="1.25"/>
<line x1="757.70" y1="501.00" x2="764.70" y2="501.00" stroke="#000" stroke-width="1.25"/>
<rect x="775.40" y="548.50" width="14.00" height="67.80" fill="#a0a0a6"/>
<rect x="775.85" y="548.95" width="13.10" height="66.90" fill="none" stroke="#939399" stroke-width="0.9"/>
<line x1="782.40" y1="546.30" x2="782.40" y2="549.00" stroke="#000" stroke-width="1.25"/>
<line x1="778.90" y1="546.30" x2="785.90" y2="546.30" stroke="#000" stroke-width="1.25"/>
<polygon points="782.10,535.90 782.69,537.09 784.00,537.28 783.05,538.21 783.28,539.52 782.10,538.90 780.92,539.52 781.15,538.21 780.20,537.28 781.51,537.09" fill="#111" stroke="#111" stroke-width="0.7" stroke-linejoin="round"/>
<rect x="797.30" y="543.50" width="13.70" height="72.80" fill="#7e7e7e"/>
<rect x="797.75" y="543.95" width="12.80" height="71.90" fill="none" stroke="#727272" stroke-width="0.9"/>
<line x1="804.15" y1="541.10" x2="804.15" y2="544.00" stroke="#000" stroke-width="1.25"/>
<line x1="800.72" y1="541.10" x2="807.58" y2="541.10" stroke="#000" stroke-width="1.25"/>
<rect x="818.70" y="516.70" width="13.70" height="99.60" fill="#d4d4d4"/>
<rect x="819.15" y="517.15" width="12.80" height="98.70" fill="none" stroke="#cacaca" stroke-width="0.9"/>
<line x1="825.55" y1="513.20" x2="825.55" y2="517.20" stroke="#000" stroke-width="1.25"/>
<line x1="822.12" y1="513.20" x2="828.97" y2="513.20" stroke="#000" stroke-width="1.25"/>
<text x="826.00" y="508.00" font-size="9" text-anchor="middle" fill="#111" stroke="#111" stroke-width="0.3">#</text>
<line x1="745.40" y1="474.73" x2="745.40" y2="617.07" stroke="#000" stroke-width="1.55"/>
<line x1="744.62" y1="616.30" x2="840.40" y2="616.30" stroke="#000" stroke-width="1.55"/>
<text x="714.30" y="544.20" font-size="10.5" text-anchor="middle" transform="rotate(-90 714.30 544.20)" fill="#111" stroke="#111" stroke-width="0.36">1L-β concenreation (pg/ml)</text>
<text x="903.30" y="444.00" font-size="17" text-anchor="start" font-weight="bold" fill="#000" stroke="#000" stroke-width="0.2">J</text>
<rect x="944.40" y="433.40" width="15.60" height="7.30" fill="#000000"/>
<text x="968.00" y="441.80" font-size="10.6" text-anchor="start" fill="#111" stroke="#111" stroke-width="0.36">si-NC</text>
<rect x="944.40" y="446.40" width="15.60" height="7.30" fill="#a0a0a6"/>
<text x="968.00" y="454.80" font-size="10.6" text-anchor="start" fill="#111" stroke="#111" stroke-width="0.36">si-HMGB1</text>
<rect x="944.40" y="460.40" width="15.60" height="7.30" fill="#7e7e7e"/>
<text x="968.00" y="468.80" font-size="10.6" text-anchor="start" fill="#111" stroke="#111" stroke-width="0.36">si-EZH2 + oe-NC</text>
<rect x="944.40" y="474.30" width="15.60" height="7.30" fill="#d4d4d4"/>
<text x="968.00" y="482.70" font-size="10.6" text-anchor="start" fill="#111" stroke="#111" stroke-width="0.36">si-EZH2 + oe-HMGB1</text>
<line x1="933.40" y1="475.10" x2="939.00" y2="475.10" stroke="#000" stroke-width="1.55"/>
<text x="931.40" y="478.80" font-size="10.2" text-anchor="end" fill="#111" stroke="#111" stroke-width="0.36">1500</text>
<line x1="933.40" y1="522.00" x2="939.00" y2="522.00" stroke="#000" stroke-width="1.55"/>
<text x="931.40" y="525.70" font-size="10.2" text-anchor="end" fill="#111" stroke="#111" stroke-width="0.36">1000</text>
<line x1="933.40" y1="568.40" x2="939.00" y2="568.40" stroke="#000" stroke-width="1.55"/>
<text x="931.40" y="572.10" font-size="10.2" text-anchor="end" fill="#111" stroke="#111" stroke-width="0.36">500</text>
<line x1="933.40" y1="615.60" x2="939.00" y2="615.60" stroke="#000" stroke-width="1.55"/>
<text x="931.40" y="619.30" font-size="10.2" text-anchor="end" fill="#111" stroke="#111" stroke-width="0.36">0</text>
<rect x="946.70" y="527.20" width="13.90" height="88.40" fill="#000000"/>
<line x1="953.65" y1="522.50" x2="953.65" y2="527.70" stroke="#000" stroke-width="1.25"/>
<line x1="950.18" y1="522.50" x2="957.13" y2="522.50" stroke="#000" stroke-width="1.25"/>
<rect x="967.90" y="554.90" width="14.40" height="60.70" fill="#a0a0a6"/>
<rect x="968.35" y="555.35" width="13.50" height="59.80" fill="none" stroke="#939399" stroke-width="0.9"/>
<line x1="975.10" y1="552.80" x2="975.10" y2="555.40" stroke="#000" stroke-width="1.25"/>
<line x1="971.50" y1="552.80" x2="978.70" y2="552.80" stroke="#000" stroke-width="1.25"/>
<polygon points="975.30,543.70 975.89,544.89 977.20,545.08 976.25,546.01 976.48,547.32 975.30,546.70 974.12,547.32 974.35,546.01 973.40,545.08 974.71,544.89" fill="#111" stroke="#111" stroke-width="0.7" stroke-linejoin="round"/>
<rect x="990.30" y="548.10" width="13.60" height="67.50" fill="#7e7e7e"/>
<rect x="990.75" y="548.55" width="12.70" height="66.60" fill="none" stroke="#727272" stroke-width="0.9"/>
<line x1="997.10" y1="547.10" x2="997.10" y2="548.60" stroke="#000" stroke-width="1.25"/>
<line x1="993.70" y1="547.10" x2="1000.50" y2="547.10" stroke="#000" stroke-width="1.25"/>
<rect x="1011.60" y="536.60" width="14.00" height="79.00" fill="#d4d4d4"/>
<rect x="1012.05" y="537.05" width="13.10" height="78.10" fill="none" stroke="#cacaca" stroke-width="0.9"/>
<line x1="1018.60" y1="534.80" x2="1018.60" y2="537.10" stroke="#000" stroke-width="1.25"/>
<line x1="1015.10" y1="534.80" x2="1022.10" y2="534.80" stroke="#000" stroke-width="1.25"/>
<text x="1019.30" y="529.70" font-size="9" text-anchor="middle" fill="#111" stroke="#111" stroke-width="0.3">#</text>
<line x1="939.00" y1="474.33" x2="939.00" y2="616.38" stroke="#000" stroke-width="1.55"/>
<line x1="938.23" y1="615.60" x2="1033.50" y2="615.60" stroke="#000" stroke-width="1.55"/>
<text x="902.00" y="549.60" font-size="10.5" text-anchor="middle" transform="rotate(-90 902.00 549.60)" fill="#111" stroke="#111" stroke-width="0.36">1L-6 concenreation (pg/ml)</text>
</g>
</svg></body></html>
